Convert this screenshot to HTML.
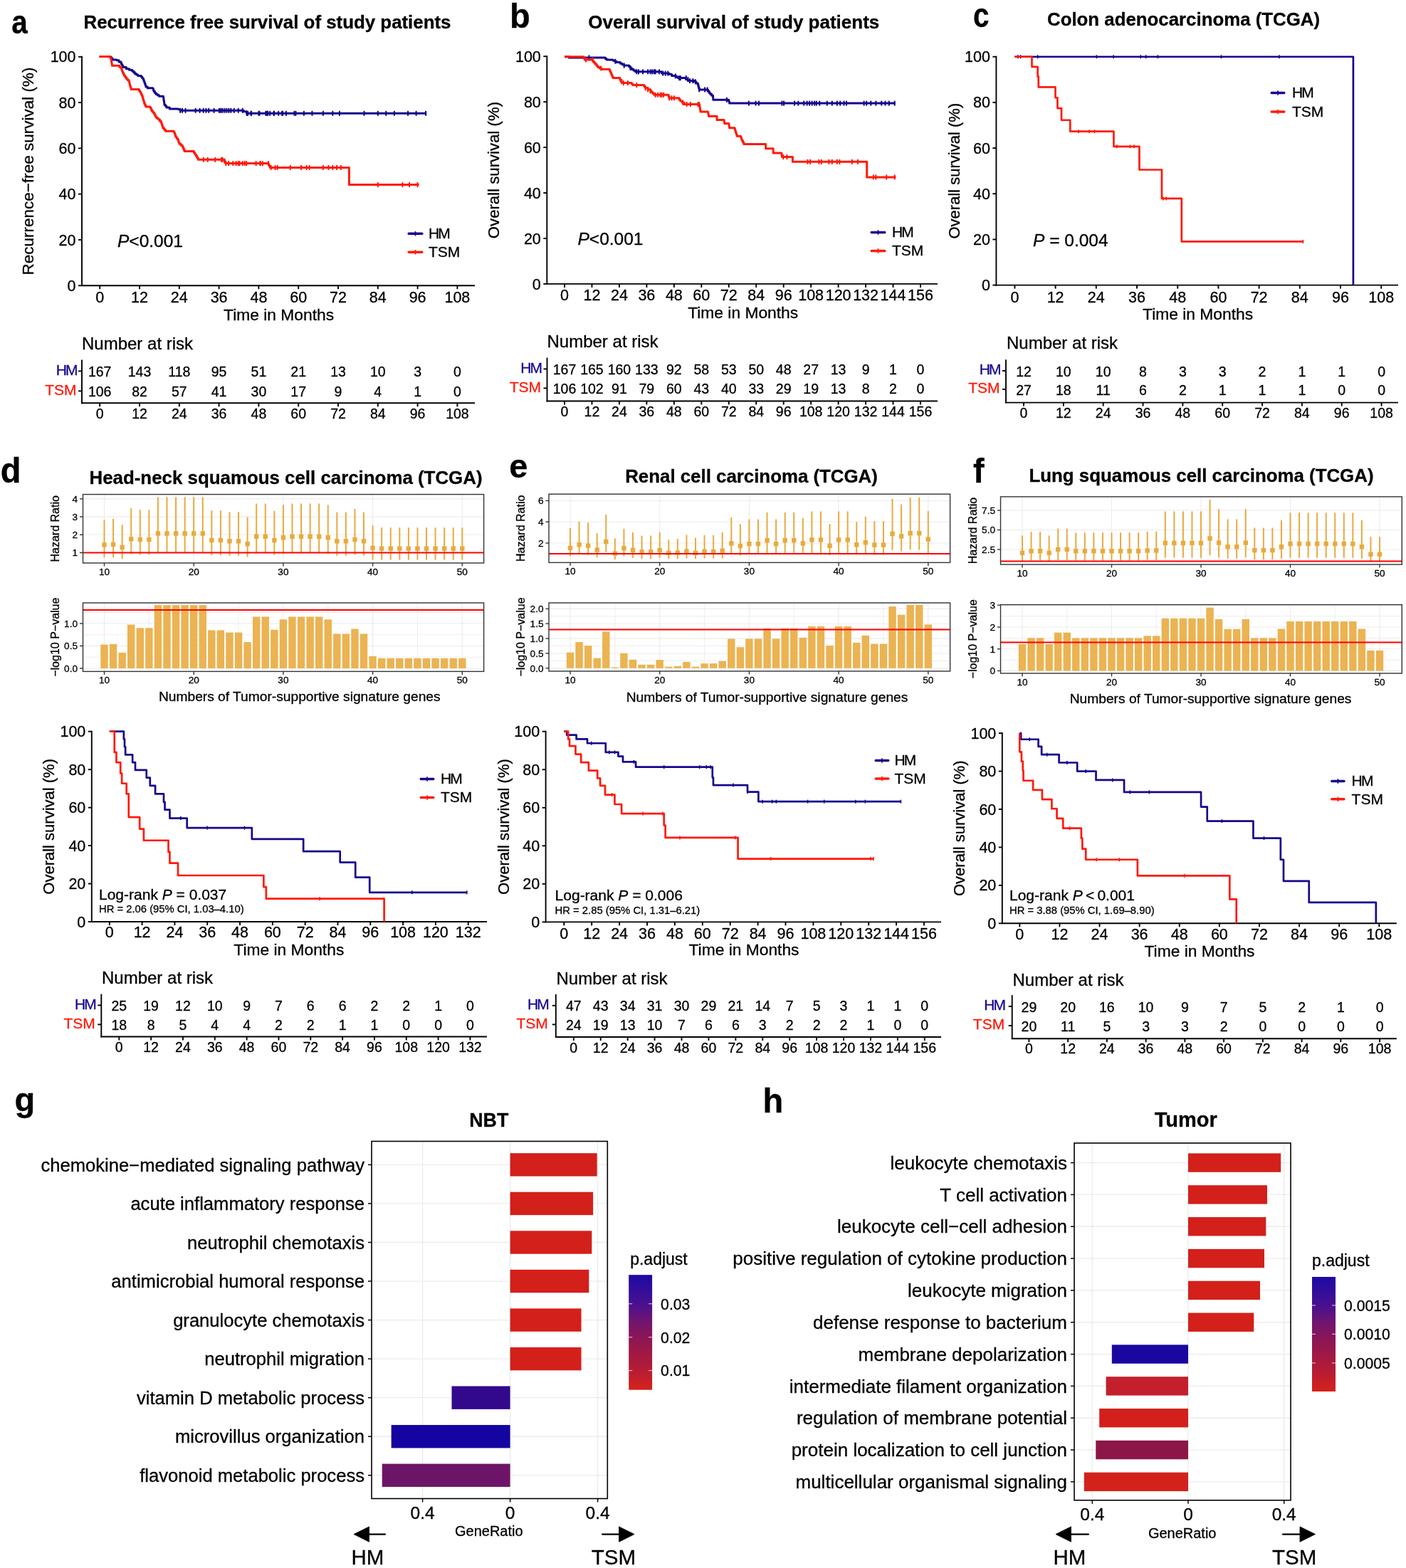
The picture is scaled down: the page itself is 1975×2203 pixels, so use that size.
<!DOCTYPE html>
<html><head><meta charset="utf-8"><title>Figure</title>
<style>
html,body{margin:0;padding:0;background:#fff;}
svg{display:block;}
text{font-family:"Liberation Sans", Arial, Helvetica, sans-serif;}
</style></head>
<body>
<svg width="1975" height="2203" viewBox="0 0 1975 2203">
<rect x="0" y="0" width="1975" height="2203" fill="#ffffff"/>
<text transform="translate(16.3,46.6) scale(0.86,1)" font-size="47" font-weight="bold" stroke="#000" stroke-width="0.3">a</text>
<text transform="translate(716,38.9) scale(1,1.04)" font-size="47" font-weight="bold" stroke="#000" stroke-width="0.3">b</text>
<text transform="translate(1366.9,37.9) scale(0.86,1.03)" font-size="47" font-weight="bold" stroke="#000" stroke-width="0.3">c</text>
<text transform="translate(0.8,677.6) scale(1,1.08)" font-size="47" font-weight="bold" stroke="#000" stroke-width="0.3">d</text>
<text transform="translate(715.2,671) scale(1,1)" font-size="47" font-weight="bold" stroke="#000" stroke-width="0.3">e</text>
<text transform="translate(1367,677.8) scale(1,1.04)" font-size="47" font-weight="bold" stroke="#000" stroke-width="0.3">f</text>
<text transform="translate(20.5,1561) scale(1,1)" font-size="47" font-weight="bold" stroke="#000" stroke-width="0.3">g</text>
<text transform="translate(1071.5,1563.4) scale(1,1.03)" font-size="47" font-weight="bold" stroke="#000" stroke-width="0.3">h</text>
<text x="117.5" y="40" font-size="25.5" font-weight="bold" stroke="#000" stroke-width="0.3" textLength="516" lengthAdjust="spacingAndGlyphs">Recurrence free survival of study patients</text>
<text x="826.3" y="39.7" font-size="25.5" font-weight="bold" stroke="#000" stroke-width="0.3" textLength="409" lengthAdjust="spacingAndGlyphs">Overall survival of study patients</text>
<text x="1471" y="36.3" font-size="25.5" font-weight="bold" stroke="#000" stroke-width="0.3" textLength="383" lengthAdjust="spacingAndGlyphs">Colon adenocarcinoma (TCGA)</text>
<text x="125.5" y="679.6" font-size="25.5" font-weight="bold" stroke="#000" stroke-width="0.3" textLength="552" lengthAdjust="spacingAndGlyphs">Head-neck squamous cell carcinoma (TCGA)</text>
<text x="878.2" y="677.7" font-size="25.5" font-weight="bold" stroke="#000" stroke-width="0.3" textLength="354.7" lengthAdjust="spacingAndGlyphs">Renal cell carcinoma (TCGA)</text>
<text x="1445.5" y="676.5" font-size="25.5" font-weight="bold" stroke="#000" stroke-width="0.3" textLength="484" lengthAdjust="spacingAndGlyphs">Lung squamous cell carcinoma (TCGA)</text>
<line x1="115" y1="78.8" x2="115" y2="402" stroke="#000" stroke-width="1.9" />
<line x1="114.2" y1="401.2" x2="667" y2="401.2" stroke="#000" stroke-width="1.9" />
<line x1="110" y1="401.2" x2="115" y2="401.2" stroke="#000" stroke-width="1.9" />
<text x="106.5" y="408.8" font-size="21.5" text-anchor="end" stroke="#000" stroke-width="0.3">0</text>
<line x1="110" y1="336.92" x2="115" y2="336.92" stroke="#000" stroke-width="1.9" />
<text x="106.5" y="344.52" font-size="21.5" text-anchor="end" stroke="#000" stroke-width="0.3">20</text>
<line x1="110" y1="272.64" x2="115" y2="272.64" stroke="#000" stroke-width="1.9" />
<text x="106.5" y="280.24" font-size="21.5" text-anchor="end" stroke="#000" stroke-width="0.3">40</text>
<line x1="110" y1="208.36" x2="115" y2="208.36" stroke="#000" stroke-width="1.9" />
<text x="106.5" y="215.96" font-size="21.5" text-anchor="end" stroke="#000" stroke-width="0.3">60</text>
<line x1="110" y1="144.08" x2="115" y2="144.08" stroke="#000" stroke-width="1.9" />
<text x="106.5" y="151.68" font-size="21.5" text-anchor="end" stroke="#000" stroke-width="0.3">80</text>
<line x1="110" y1="79.8" x2="115" y2="79.8" stroke="#000" stroke-width="1.9" />
<text x="106.5" y="87.4" font-size="21.5" text-anchor="end" stroke="#000" stroke-width="0.3">100</text>
<line x1="140.2" y1="401.2" x2="140.2" y2="406.2" stroke="#000" stroke-width="1.9" />
<text x="140.2" y="425.2" font-size="21.5" text-anchor="middle" stroke="#000" stroke-width="0.3">0</text>
<line x1="196" y1="401.2" x2="196" y2="406.2" stroke="#000" stroke-width="1.9" />
<text x="196" y="425.2" font-size="21.5" text-anchor="middle" stroke="#000" stroke-width="0.3">12</text>
<line x1="251.8" y1="401.2" x2="251.8" y2="406.2" stroke="#000" stroke-width="1.9" />
<text x="251.8" y="425.2" font-size="21.5" text-anchor="middle" stroke="#000" stroke-width="0.3">24</text>
<line x1="307.6" y1="401.2" x2="307.6" y2="406.2" stroke="#000" stroke-width="1.9" />
<text x="307.6" y="425.2" font-size="21.5" text-anchor="middle" stroke="#000" stroke-width="0.3">36</text>
<line x1="363.4" y1="401.2" x2="363.4" y2="406.2" stroke="#000" stroke-width="1.9" />
<text x="363.4" y="425.2" font-size="21.5" text-anchor="middle" stroke="#000" stroke-width="0.3">48</text>
<line x1="419.2" y1="401.2" x2="419.2" y2="406.2" stroke="#000" stroke-width="1.9" />
<text x="419.2" y="425.2" font-size="21.5" text-anchor="middle" stroke="#000" stroke-width="0.3">60</text>
<line x1="475" y1="401.2" x2="475" y2="406.2" stroke="#000" stroke-width="1.9" />
<text x="475" y="425.2" font-size="21.5" text-anchor="middle" stroke="#000" stroke-width="0.3">72</text>
<line x1="530.8" y1="401.2" x2="530.8" y2="406.2" stroke="#000" stroke-width="1.9" />
<text x="530.8" y="425.2" font-size="21.5" text-anchor="middle" stroke="#000" stroke-width="0.3">84</text>
<line x1="586.6" y1="401.2" x2="586.6" y2="406.2" stroke="#000" stroke-width="1.9" />
<text x="586.6" y="425.2" font-size="21.5" text-anchor="middle" stroke="#000" stroke-width="0.3">96</text>
<line x1="642.4" y1="401.2" x2="642.4" y2="406.2" stroke="#000" stroke-width="1.9" />
<text x="642.4" y="425.2" font-size="21.5" text-anchor="middle" stroke="#000" stroke-width="0.3">108</text>
<text x="391.6" y="449.9" font-size="22.8" text-anchor="middle" stroke="#000" stroke-width="0.3">Time in Months</text>
<text transform="translate(47,240.5) rotate(-90)" font-size="22.5" text-anchor="middle" stroke="#000" stroke-width="0.3">Recurrence−free survival (%)</text>
<path d="M139.6 79.6 H155.2 V80.4 H156.7 V82.25 H158.2 V84.1 H164.1 V84.8 H167.1 V87.05 H170.1 V89.3 H171.07 V91.03 H172.03 V92.77 H173 V94.5 H177.5 V96.7 H181.55 V98.2 H185.6 V99.7 H187.45 V101.55 H189.3 V103.4 H191.55 V104.9 H193.8 V106.4 H198.2 V107.8 H199.7 V109.65 H201.2 V111.5 H201.93 V113.5 H202.67 V115.5 H203.4 V117.5 H204.15 V119.7 H204.9 V121.9 H207.2 V123.7 H214.6 V124.2 H215.35 V126.4 H216.1 V128.6 H217.55 V130.45 H219 V132.3 H221.25 V133.8 H223.5 V135.3 H229.4 V136.8 H229.78 V139.4 H230.15 V142 H230.53 V144.6 H230.9 V147.2 H232.4 V149.05 H233.9 V150.9 H238.3 V153.1 H250.2 V153.4 H253.1 V155.3 H337.7 H342.2 V156.8 H346.6 V159.3 H599.2" stroke="#16078c" stroke-width="3" fill="none" stroke-linejoin="round"/>
<line x1="253.15" y1="151.8" x2="253.15" y2="158.8" stroke="#16078c" stroke-width="2" />
<line x1="256.11" y1="151.8" x2="256.11" y2="158.8" stroke="#16078c" stroke-width="2" />
<line x1="260.56" y1="151.8" x2="260.56" y2="158.8" stroke="#16078c" stroke-width="2" />
<line x1="274.66" y1="151.8" x2="274.66" y2="158.8" stroke="#16078c" stroke-width="2" />
<line x1="280.59" y1="151.8" x2="280.59" y2="158.8" stroke="#16078c" stroke-width="2" />
<line x1="285.79" y1="151.8" x2="285.79" y2="158.8" stroke="#16078c" stroke-width="2" />
<line x1="289.5" y1="151.8" x2="289.5" y2="158.8" stroke="#16078c" stroke-width="2" />
<line x1="293.2" y1="151.8" x2="293.2" y2="158.8" stroke="#16078c" stroke-width="2" />
<line x1="300.62" y1="151.8" x2="300.62" y2="158.8" stroke="#16078c" stroke-width="2" />
<line x1="308.04" y1="151.8" x2="308.04" y2="158.8" stroke="#16078c" stroke-width="2" />
<line x1="310.27" y1="151.8" x2="310.27" y2="158.8" stroke="#16078c" stroke-width="2" />
<line x1="312.49" y1="151.8" x2="312.49" y2="158.8" stroke="#16078c" stroke-width="2" />
<line x1="315.46" y1="151.8" x2="315.46" y2="158.8" stroke="#16078c" stroke-width="2" />
<line x1="318.43" y1="151.8" x2="318.43" y2="158.8" stroke="#16078c" stroke-width="2" />
<line x1="321.39" y1="151.8" x2="321.39" y2="158.8" stroke="#16078c" stroke-width="2" />
<line x1="324.36" y1="151.8" x2="324.36" y2="158.8" stroke="#16078c" stroke-width="2" />
<line x1="328.81" y1="151.8" x2="328.81" y2="158.8" stroke="#16078c" stroke-width="2" />
<line x1="334.75" y1="151.8" x2="334.75" y2="158.8" stroke="#16078c" stroke-width="2" />
<line x1="340.68" y1="151.8" x2="340.68" y2="158.8" stroke="#16078c" stroke-width="2" />
<line x1="346.62" y1="155.8" x2="346.62" y2="162.8" stroke="#16078c" stroke-width="2" />
<line x1="352.55" y1="155.8" x2="352.55" y2="162.8" stroke="#16078c" stroke-width="2" />
<line x1="364.42" y1="155.8" x2="364.42" y2="162.8" stroke="#16078c" stroke-width="2" />
<line x1="373.32" y1="155.8" x2="373.32" y2="162.8" stroke="#16078c" stroke-width="2" />
<line x1="376.29" y1="155.8" x2="376.29" y2="162.8" stroke="#16078c" stroke-width="2" />
<line x1="379.26" y1="155.8" x2="379.26" y2="162.8" stroke="#16078c" stroke-width="2" />
<line x1="385.19" y1="155.8" x2="385.19" y2="162.8" stroke="#16078c" stroke-width="2" />
<line x1="391.13" y1="155.8" x2="391.13" y2="162.8" stroke="#16078c" stroke-width="2" />
<line x1="397.06" y1="155.8" x2="397.06" y2="162.8" stroke="#16078c" stroke-width="2" />
<line x1="348.08" y1="155.8" x2="348.08" y2="162.8" stroke="#16078c" stroke-width="2" />
<line x1="353.08" y1="155.8" x2="353.08" y2="162.8" stroke="#16078c" stroke-width="2" />
<line x1="363.46" y1="155.8" x2="363.46" y2="162.8" stroke="#16078c" stroke-width="2" />
<line x1="375" y1="155.8" x2="375" y2="162.8" stroke="#16078c" stroke-width="2" />
<line x1="384.62" y1="155.8" x2="384.62" y2="162.8" stroke="#16078c" stroke-width="2" />
<line x1="396.15" y1="155.8" x2="396.15" y2="162.8" stroke="#16078c" stroke-width="2" />
<line x1="401.92" y1="155.8" x2="401.92" y2="162.8" stroke="#16078c" stroke-width="2" />
<line x1="413.46" y1="155.8" x2="413.46" y2="162.8" stroke="#16078c" stroke-width="2" />
<line x1="415.38" y1="155.8" x2="415.38" y2="162.8" stroke="#16078c" stroke-width="2" />
<line x1="426.92" y1="155.8" x2="426.92" y2="162.8" stroke="#16078c" stroke-width="2" />
<line x1="438.46" y1="155.8" x2="438.46" y2="162.8" stroke="#16078c" stroke-width="2" />
<line x1="453.85" y1="155.8" x2="453.85" y2="162.8" stroke="#16078c" stroke-width="2" />
<line x1="467.31" y1="155.8" x2="467.31" y2="162.8" stroke="#16078c" stroke-width="2" />
<line x1="476.92" y1="155.8" x2="476.92" y2="162.8" stroke="#16078c" stroke-width="2" />
<line x1="511.54" y1="155.8" x2="511.54" y2="162.8" stroke="#16078c" stroke-width="2" />
<line x1="530.77" y1="155.8" x2="530.77" y2="162.8" stroke="#16078c" stroke-width="2" />
<line x1="542.31" y1="155.8" x2="542.31" y2="162.8" stroke="#16078c" stroke-width="2" />
<line x1="553.85" y1="155.8" x2="553.85" y2="162.8" stroke="#16078c" stroke-width="2" />
<line x1="573.08" y1="155.8" x2="573.08" y2="162.8" stroke="#16078c" stroke-width="2" />
<line x1="584.62" y1="155.8" x2="584.62" y2="162.8" stroke="#16078c" stroke-width="2" />
<line x1="598.08" y1="155.8" x2="598.08" y2="162.8" stroke="#16078c" stroke-width="2" />
<path d="M139.6 79.6 H153.7 H154.85 V81.5 H156 V83.4 H156.35 V85.62 H156.7 V87.85 H157.05 V90.08 H157.4 V92.3 H165.6 H167.85 V94.15 H170.1 V96 H170.83 V97.97 H171.57 V99.93 H172.3 V101.9 H173.4 V104.15 H174.5 V106.4 H176 V108.6 H177.5 V110.8 H179.35 V112.65 H181.2 V114.5 H181.7 V116.73 H182.2 V118.97 H182.7 V121.2 H183.45 V123.4 H184.2 V125.6 H193.8 H195.3 V127.45 H196.8 V129.3 H197.77 V131.3 H198.73 V133.3 H199.7 V135.3 H200.45 V137.9 H201.2 V140.5 H201.95 V143.1 H202.7 V145.7 H203.8 V147.9 H204.9 V150.1 H210.9 V150.9 H212 V153.5 H213.1 V156.1 H214.95 V158.3 H216.8 V160.5 H217.9 V162.75 H219 V165 H220.85 V166.45 H222.7 V167.9 H224.55 V170.15 H226.4 V172.4 H227.17 V174.87 H227.93 V177.33 H228.7 V179.8 H230.55 V182 H232.4 V184.2 H244.2 V185 H244.95 V187.03 H245.7 V189.05 H246.45 V191.07 H247.2 V193.1 H248.7 V195.35 H250.2 V197.6 H250.95 V199.8 H251.7 V202 H253.9 V203.9 H256.1 V205.8 H257.1 V208 H258.1 V210.2 H259.1 V212.4 H270.9 H272.4 V214.65 H273.9 V216.9 H275.4 V219.37 H276.9 V221.83 H278.4 V224.3 H314 H314.97 V226.07 H315.93 V227.83 H316.9 V229.6 H376.3 H377.3 V231.53 H378.3 V233.47 H379.3 V235.4 H490.4 H490.4 V237.82 H490.4 V240.24 H490.4 V242.66 H490.4 V245.08 H490.4 V247.5 H490.4 V249.92 H490.4 V252.34 H490.4 V254.76 H490.4 V257.18 H490.4 V259.6 H588.5" stroke="#ff1a0a" stroke-width="3" fill="none" stroke-linejoin="round"/>
<line x1="285.79" y1="220.8" x2="285.79" y2="227.8" stroke="#ff1a0a" stroke-width="2" />
<line x1="291.72" y1="220.8" x2="291.72" y2="227.8" stroke="#ff1a0a" stroke-width="2" />
<line x1="302.11" y1="220.8" x2="302.11" y2="227.8" stroke="#ff1a0a" stroke-width="2" />
<line x1="311.01" y1="220.8" x2="311.01" y2="227.8" stroke="#ff1a0a" stroke-width="2" />
<line x1="312.49" y1="220.8" x2="312.49" y2="227.8" stroke="#ff1a0a" stroke-width="2" />
<line x1="315.46" y1="222.57" x2="315.46" y2="229.57" stroke="#ff1a0a" stroke-width="2" />
<line x1="327.33" y1="226.1" x2="327.33" y2="233.1" stroke="#ff1a0a" stroke-width="2" />
<line x1="334.75" y1="226.1" x2="334.75" y2="233.1" stroke="#ff1a0a" stroke-width="2" />
<line x1="340.68" y1="226.1" x2="340.68" y2="233.1" stroke="#ff1a0a" stroke-width="2" />
<line x1="343.65" y1="226.1" x2="343.65" y2="233.1" stroke="#ff1a0a" stroke-width="2" />
<line x1="365.91" y1="226.1" x2="365.91" y2="233.1" stroke="#ff1a0a" stroke-width="2" />
<line x1="368.87" y1="226.1" x2="368.87" y2="233.1" stroke="#ff1a0a" stroke-width="2" />
<line x1="380.74" y1="231.9" x2="380.74" y2="238.9" stroke="#ff1a0a" stroke-width="2" />
<line x1="389.64" y1="231.9" x2="389.64" y2="238.9" stroke="#ff1a0a" stroke-width="2" />
<line x1="317.31" y1="226.1" x2="317.31" y2="233.1" stroke="#ff1a0a" stroke-width="2" />
<line x1="321.15" y1="226.1" x2="321.15" y2="233.1" stroke="#ff1a0a" stroke-width="2" />
<line x1="331.54" y1="226.1" x2="331.54" y2="233.1" stroke="#ff1a0a" stroke-width="2" />
<line x1="336.54" y1="226.1" x2="336.54" y2="233.1" stroke="#ff1a0a" stroke-width="2" />
<line x1="346.15" y1="226.1" x2="346.15" y2="233.1" stroke="#ff1a0a" stroke-width="2" />
<line x1="359.62" y1="226.1" x2="359.62" y2="233.1" stroke="#ff1a0a" stroke-width="2" />
<line x1="365.38" y1="226.1" x2="365.38" y2="233.1" stroke="#ff1a0a" stroke-width="2" />
<line x1="376.92" y1="226.1" x2="376.92" y2="233.1" stroke="#ff1a0a" stroke-width="2" />
<line x1="386.54" y1="231.9" x2="386.54" y2="238.9" stroke="#ff1a0a" stroke-width="2" />
<line x1="407.69" y1="231.9" x2="407.69" y2="238.9" stroke="#ff1a0a" stroke-width="2" />
<line x1="423.08" y1="231.9" x2="423.08" y2="238.9" stroke="#ff1a0a" stroke-width="2" />
<line x1="430.77" y1="231.9" x2="430.77" y2="238.9" stroke="#ff1a0a" stroke-width="2" />
<line x1="434.62" y1="231.9" x2="434.62" y2="238.9" stroke="#ff1a0a" stroke-width="2" />
<line x1="453.85" y1="231.9" x2="453.85" y2="238.9" stroke="#ff1a0a" stroke-width="2" />
<line x1="461.54" y1="231.9" x2="461.54" y2="238.9" stroke="#ff1a0a" stroke-width="2" />
<line x1="467.31" y1="231.9" x2="467.31" y2="238.9" stroke="#ff1a0a" stroke-width="2" />
<line x1="473.08" y1="231.9" x2="473.08" y2="238.9" stroke="#ff1a0a" stroke-width="2" />
<line x1="478.85" y1="231.9" x2="478.85" y2="238.9" stroke="#ff1a0a" stroke-width="2" />
<line x1="530.77" y1="256.1" x2="530.77" y2="263.1" stroke="#ff1a0a" stroke-width="2" />
<line x1="565.38" y1="256.1" x2="565.38" y2="263.1" stroke="#ff1a0a" stroke-width="2" />
<line x1="575" y1="256.1" x2="575" y2="263.1" stroke="#ff1a0a" stroke-width="2" />
<line x1="586.54" y1="256.1" x2="586.54" y2="263.1" stroke="#ff1a0a" stroke-width="2" />
<line x1="574.2" y1="328.2" x2="592.8" y2="328.2" stroke="#16078c" stroke-width="3.4" stroke-linecap="round"/>
<line x1="583.5" y1="324.9" x2="583.5" y2="331.5" stroke="#16078c" stroke-width="1.6" />
<text x="602" y="335" font-size="21" stroke="#000" stroke-width="0.3" letter-spacing="-1.8">HM</text>
<line x1="574.2" y1="354.3" x2="592.8" y2="354.3" stroke="#ff1a0a" stroke-width="3.4" stroke-linecap="round"/>
<line x1="583.5" y1="351" x2="583.5" y2="357.6" stroke="#ff1a0a" stroke-width="1.6" />
<text x="602" y="361.1" font-size="21" stroke="#000" stroke-width="0.3">TSM</text>
<text x="165" y="346.6" font-size="24.5" stroke="#000" stroke-width="0.3"><tspan font-style="italic">P</tspan>&lt;0.001</text>
<text x="115" y="490.5" font-size="24" stroke="#000" stroke-width="0.3">Number at risk</text>
<line x1="115" y1="505.6" x2="115" y2="567.2" stroke="#000" stroke-width="1.9" />
<line x1="114.1" y1="566.3" x2="667" y2="566.3" stroke="#000" stroke-width="1.9" />
<line x1="110" y1="521.4" x2="115" y2="521.4" stroke="#000" stroke-width="1.9" />
<line x1="110" y1="549.4" x2="115" y2="549.4" stroke="#000" stroke-width="1.9" />
<text x="107.5" y="526.5" font-size="21" text-anchor="end" fill="#16078c" stroke="#16078c" stroke-width="0.3" letter-spacing="-1.9">HM</text>
<text x="107.5" y="554.5" font-size="21" text-anchor="end" fill="#ff1a0a" stroke="#ff1a0a" stroke-width="0.3">TSM</text>
<line x1="140.2" y1="566.3" x2="140.2" y2="571.3" stroke="#000" stroke-width="1.9" />
<text x="140.2" y="587.7" font-size="19.5" text-anchor="middle" stroke="#000" stroke-width="0.3">0</text>
<line x1="196" y1="566.3" x2="196" y2="571.3" stroke="#000" stroke-width="1.9" />
<text x="196" y="587.7" font-size="19.5" text-anchor="middle" stroke="#000" stroke-width="0.3">12</text>
<line x1="251.8" y1="566.3" x2="251.8" y2="571.3" stroke="#000" stroke-width="1.9" />
<text x="251.8" y="587.7" font-size="19.5" text-anchor="middle" stroke="#000" stroke-width="0.3">24</text>
<line x1="307.6" y1="566.3" x2="307.6" y2="571.3" stroke="#000" stroke-width="1.9" />
<text x="307.6" y="587.7" font-size="19.5" text-anchor="middle" stroke="#000" stroke-width="0.3">36</text>
<line x1="363.4" y1="566.3" x2="363.4" y2="571.3" stroke="#000" stroke-width="1.9" />
<text x="363.4" y="587.7" font-size="19.5" text-anchor="middle" stroke="#000" stroke-width="0.3">48</text>
<line x1="419.2" y1="566.3" x2="419.2" y2="571.3" stroke="#000" stroke-width="1.9" />
<text x="419.2" y="587.7" font-size="19.5" text-anchor="middle" stroke="#000" stroke-width="0.3">60</text>
<line x1="475" y1="566.3" x2="475" y2="571.3" stroke="#000" stroke-width="1.9" />
<text x="475" y="587.7" font-size="19.5" text-anchor="middle" stroke="#000" stroke-width="0.3">72</text>
<line x1="530.8" y1="566.3" x2="530.8" y2="571.3" stroke="#000" stroke-width="1.9" />
<text x="530.8" y="587.7" font-size="19.5" text-anchor="middle" stroke="#000" stroke-width="0.3">84</text>
<line x1="586.6" y1="566.3" x2="586.6" y2="571.3" stroke="#000" stroke-width="1.9" />
<text x="586.6" y="587.7" font-size="19.5" text-anchor="middle" stroke="#000" stroke-width="0.3">96</text>
<line x1="642.4" y1="566.3" x2="642.4" y2="571.3" stroke="#000" stroke-width="1.9" />
<text x="642.4" y="587.7" font-size="19.5" text-anchor="middle" stroke="#000" stroke-width="0.3">108</text>
<text x="140.2" y="529" font-size="19.5" text-anchor="middle" stroke="#000" stroke-width="0.3">167</text>
<text x="140.2" y="557" font-size="19.5" text-anchor="middle" stroke="#000" stroke-width="0.3">106</text>
<text x="196" y="529" font-size="19.5" text-anchor="middle" stroke="#000" stroke-width="0.3">143</text>
<text x="196" y="557" font-size="19.5" text-anchor="middle" stroke="#000" stroke-width="0.3">82</text>
<text x="251.8" y="529" font-size="19.5" text-anchor="middle" stroke="#000" stroke-width="0.3">118</text>
<text x="251.8" y="557" font-size="19.5" text-anchor="middle" stroke="#000" stroke-width="0.3">57</text>
<text x="307.6" y="529" font-size="19.5" text-anchor="middle" stroke="#000" stroke-width="0.3">95</text>
<text x="307.6" y="557" font-size="19.5" text-anchor="middle" stroke="#000" stroke-width="0.3">41</text>
<text x="363.4" y="529" font-size="19.5" text-anchor="middle" stroke="#000" stroke-width="0.3">51</text>
<text x="363.4" y="557" font-size="19.5" text-anchor="middle" stroke="#000" stroke-width="0.3">30</text>
<text x="419.2" y="529" font-size="19.5" text-anchor="middle" stroke="#000" stroke-width="0.3">21</text>
<text x="419.2" y="557" font-size="19.5" text-anchor="middle" stroke="#000" stroke-width="0.3">17</text>
<text x="475" y="529" font-size="19.5" text-anchor="middle" stroke="#000" stroke-width="0.3">13</text>
<text x="475" y="557" font-size="19.5" text-anchor="middle" stroke="#000" stroke-width="0.3">9</text>
<text x="530.8" y="529" font-size="19.5" text-anchor="middle" stroke="#000" stroke-width="0.3">10</text>
<text x="530.8" y="557" font-size="19.5" text-anchor="middle" stroke="#000" stroke-width="0.3">4</text>
<text x="586.6" y="529" font-size="19.5" text-anchor="middle" stroke="#000" stroke-width="0.3">3</text>
<text x="586.6" y="557" font-size="19.5" text-anchor="middle" stroke="#000" stroke-width="0.3">1</text>
<text x="642.4" y="529" font-size="19.5" text-anchor="middle" stroke="#000" stroke-width="0.3">0</text>
<text x="642.4" y="557" font-size="19.5" text-anchor="middle" stroke="#000" stroke-width="0.3">0</text>
<line x1="768.3" y1="78.2" x2="768.3" y2="399.7" stroke="#000" stroke-width="1.9" />
<line x1="767.5" y1="398.9" x2="1317" y2="398.9" stroke="#000" stroke-width="1.9" />
<line x1="763.3" y1="398.9" x2="768.3" y2="398.9" stroke="#000" stroke-width="1.9" />
<text x="759.8" y="406.5" font-size="21.5" text-anchor="end" stroke="#000" stroke-width="0.3">0</text>
<line x1="763.3" y1="334.96" x2="768.3" y2="334.96" stroke="#000" stroke-width="1.9" />
<text x="759.8" y="342.56" font-size="21.5" text-anchor="end" stroke="#000" stroke-width="0.3">20</text>
<line x1="763.3" y1="271.02" x2="768.3" y2="271.02" stroke="#000" stroke-width="1.9" />
<text x="759.8" y="278.62" font-size="21.5" text-anchor="end" stroke="#000" stroke-width="0.3">40</text>
<line x1="763.3" y1="207.08" x2="768.3" y2="207.08" stroke="#000" stroke-width="1.9" />
<text x="759.8" y="214.68" font-size="21.5" text-anchor="end" stroke="#000" stroke-width="0.3">60</text>
<line x1="763.3" y1="143.14" x2="768.3" y2="143.14" stroke="#000" stroke-width="1.9" />
<text x="759.8" y="150.74" font-size="21.5" text-anchor="end" stroke="#000" stroke-width="0.3">80</text>
<line x1="763.3" y1="79.2" x2="768.3" y2="79.2" stroke="#000" stroke-width="1.9" />
<text x="759.8" y="86.8" font-size="21.5" text-anchor="end" stroke="#000" stroke-width="0.3">100</text>
<line x1="793" y1="398.9" x2="793" y2="403.9" stroke="#000" stroke-width="1.9" />
<text x="793" y="422.3" font-size="21.5" text-anchor="middle" stroke="#000" stroke-width="0.3">0</text>
<line x1="831.46" y1="398.9" x2="831.46" y2="403.9" stroke="#000" stroke-width="1.9" />
<text x="831.46" y="422.3" font-size="21.5" text-anchor="middle" stroke="#000" stroke-width="0.3">12</text>
<line x1="869.92" y1="398.9" x2="869.92" y2="403.9" stroke="#000" stroke-width="1.9" />
<text x="869.92" y="422.3" font-size="21.5" text-anchor="middle" stroke="#000" stroke-width="0.3">24</text>
<line x1="908.38" y1="398.9" x2="908.38" y2="403.9" stroke="#000" stroke-width="1.9" />
<text x="908.38" y="422.3" font-size="21.5" text-anchor="middle" stroke="#000" stroke-width="0.3">36</text>
<line x1="946.85" y1="398.9" x2="946.85" y2="403.9" stroke="#000" stroke-width="1.9" />
<text x="946.85" y="422.3" font-size="21.5" text-anchor="middle" stroke="#000" stroke-width="0.3">48</text>
<line x1="985.31" y1="398.9" x2="985.31" y2="403.9" stroke="#000" stroke-width="1.9" />
<text x="985.31" y="422.3" font-size="21.5" text-anchor="middle" stroke="#000" stroke-width="0.3">60</text>
<line x1="1023.77" y1="398.9" x2="1023.77" y2="403.9" stroke="#000" stroke-width="1.9" />
<text x="1023.77" y="422.3" font-size="21.5" text-anchor="middle" stroke="#000" stroke-width="0.3">72</text>
<line x1="1062.23" y1="398.9" x2="1062.23" y2="403.9" stroke="#000" stroke-width="1.9" />
<text x="1062.23" y="422.3" font-size="21.5" text-anchor="middle" stroke="#000" stroke-width="0.3">84</text>
<line x1="1100.69" y1="398.9" x2="1100.69" y2="403.9" stroke="#000" stroke-width="1.9" />
<text x="1100.69" y="422.3" font-size="21.5" text-anchor="middle" stroke="#000" stroke-width="0.3">96</text>
<line x1="1139.15" y1="398.9" x2="1139.15" y2="403.9" stroke="#000" stroke-width="1.9" />
<text x="1139.15" y="422.3" font-size="21.5" text-anchor="middle" stroke="#000" stroke-width="0.3">108</text>
<line x1="1177.62" y1="398.9" x2="1177.62" y2="403.9" stroke="#000" stroke-width="1.9" />
<text x="1177.62" y="422.3" font-size="21.5" text-anchor="middle" stroke="#000" stroke-width="0.3">120</text>
<line x1="1216.08" y1="398.9" x2="1216.08" y2="403.9" stroke="#000" stroke-width="1.9" />
<text x="1216.08" y="422.3" font-size="21.5" text-anchor="middle" stroke="#000" stroke-width="0.3">132</text>
<line x1="1254.54" y1="398.9" x2="1254.54" y2="403.9" stroke="#000" stroke-width="1.9" />
<text x="1254.54" y="422.3" font-size="21.5" text-anchor="middle" stroke="#000" stroke-width="0.3">144</text>
<line x1="1293" y1="398.9" x2="1293" y2="403.9" stroke="#000" stroke-width="1.9" />
<text x="1293" y="422.3" font-size="21.5" text-anchor="middle" stroke="#000" stroke-width="0.3">156</text>
<text x="1043.7" y="447" font-size="22.8" text-anchor="middle" stroke="#000" stroke-width="0.3">Time in Months</text>
<text transform="translate(701.2,239.05) rotate(-90)" font-size="22.2" text-anchor="middle" stroke="#000" stroke-width="0.3">Overall survival (%)</text>
<path d="M793.2 79.7 H799.3 V80.9 H848.6 H850.35 V82.5 H852.1 V84.1 H860.9 V84.9 H863.55 V86.25 H866.2 V87.6 H871.4 V89.3 H874.05 V90.65 H876.7 V92 H883.7 V93.7 H885.5 V95.5 H887.3 V97.3 H889.9 V99.05 H892.5 V100.8 H924.2 H929.5 V103.1 H940 V104.3 H943.5 V106.6 H948.8 V106.9 H950.55 V108.25 H952.3 V109.6 H961.1 H963.75 V111.6 H966.4 V113.6 H975.2 V114.8 H977.8 V117 H980.4 V119.2 H981 V121.43 H981.6 V123.67 H982.2 V125.9 H992.7 H994.5 V128.3 H996.3 V130.7 H998.03 V132.43 H999.77 V134.17 H1001.5 V135.9 H1001.65 V138.05 H1001.8 V140.2 H1022.9 H1023.75 V142.65 H1024.6 V145.1 H1257.6" stroke="#16078c" stroke-width="3" fill="none" stroke-linejoin="round"/>
<line x1="827.47" y1="77.4" x2="827.47" y2="84.4" stroke="#16078c" stroke-width="2" />
<line x1="864.4" y1="82.75" x2="864.4" y2="89.75" stroke="#16078c" stroke-width="2" />
<line x1="876.7" y1="88.5" x2="876.7" y2="95.5" stroke="#16078c" stroke-width="2" />
<line x1="885.49" y1="92" x2="885.49" y2="99" stroke="#16078c" stroke-width="2" />
<line x1="894.29" y1="97.3" x2="894.29" y2="104.3" stroke="#16078c" stroke-width="2" />
<line x1="896.92" y1="97.3" x2="896.92" y2="104.3" stroke="#16078c" stroke-width="2" />
<line x1="903.08" y1="97.3" x2="903.08" y2="104.3" stroke="#16078c" stroke-width="2" />
<line x1="910.11" y1="97.3" x2="910.11" y2="104.3" stroke="#16078c" stroke-width="2" />
<line x1="913.63" y1="97.3" x2="913.63" y2="104.3" stroke="#16078c" stroke-width="2" />
<line x1="916.26" y1="97.3" x2="916.26" y2="104.3" stroke="#16078c" stroke-width="2" />
<line x1="918.9" y1="97.3" x2="918.9" y2="104.3" stroke="#16078c" stroke-width="2" />
<line x1="920.66" y1="97.3" x2="920.66" y2="104.3" stroke="#16078c" stroke-width="2" />
<line x1="925.93" y1="97.3" x2="925.93" y2="104.3" stroke="#16078c" stroke-width="2" />
<line x1="931.21" y1="99.6" x2="931.21" y2="106.6" stroke="#16078c" stroke-width="2" />
<line x1="934.73" y1="99.6" x2="934.73" y2="106.6" stroke="#16078c" stroke-width="2" />
<line x1="938.24" y1="99.6" x2="938.24" y2="106.6" stroke="#16078c" stroke-width="2" />
<line x1="948.79" y1="103.4" x2="948.79" y2="110.4" stroke="#16078c" stroke-width="2" />
<line x1="954.07" y1="106.1" x2="954.07" y2="113.1" stroke="#16078c" stroke-width="2" />
<line x1="955.82" y1="106.1" x2="955.82" y2="113.1" stroke="#16078c" stroke-width="2" />
<line x1="963.74" y1="106.1" x2="963.74" y2="113.1" stroke="#16078c" stroke-width="2" />
<line x1="966.37" y1="108.1" x2="966.37" y2="115.1" stroke="#16078c" stroke-width="2" />
<line x1="969.01" y1="110.1" x2="969.01" y2="117.1" stroke="#16078c" stroke-width="2" />
<line x1="973.41" y1="110.1" x2="973.41" y2="117.1" stroke="#16078c" stroke-width="2" />
<line x1="976.92" y1="111.3" x2="976.92" y2="118.3" stroke="#16078c" stroke-width="2" />
<line x1="982.2" y1="122.4" x2="982.2" y2="129.4" stroke="#16078c" stroke-width="2" />
<line x1="990.11" y1="122.4" x2="990.11" y2="129.4" stroke="#16078c" stroke-width="2" />
<line x1="993.63" y1="122.4" x2="993.63" y2="129.4" stroke="#16078c" stroke-width="2" />
<line x1="1020.88" y1="136.7" x2="1020.88" y2="143.7" stroke="#16078c" stroke-width="2" />
<line x1="1051.87" y1="141.6" x2="1051.87" y2="148.6" stroke="#16078c" stroke-width="2" />
<line x1="1061.54" y1="141.6" x2="1061.54" y2="148.6" stroke="#16078c" stroke-width="2" />
<line x1="1065.93" y1="141.6" x2="1065.93" y2="148.6" stroke="#16078c" stroke-width="2" />
<line x1="1098.46" y1="141.6" x2="1098.46" y2="148.6" stroke="#16078c" stroke-width="2" />
<line x1="1101.1" y1="141.6" x2="1101.1" y2="148.6" stroke="#16078c" stroke-width="2" />
<line x1="1116.04" y1="141.6" x2="1116.04" y2="148.6" stroke="#16078c" stroke-width="2" />
<line x1="1121.32" y1="141.6" x2="1121.32" y2="148.6" stroke="#16078c" stroke-width="2" />
<line x1="1129.23" y1="141.6" x2="1129.23" y2="148.6" stroke="#16078c" stroke-width="2" />
<line x1="1133.63" y1="141.6" x2="1133.63" y2="148.6" stroke="#16078c" stroke-width="2" />
<line x1="1137.14" y1="141.6" x2="1137.14" y2="148.6" stroke="#16078c" stroke-width="2" />
<line x1="1140.66" y1="141.6" x2="1140.66" y2="148.6" stroke="#16078c" stroke-width="2" />
<line x1="1144.18" y1="141.6" x2="1144.18" y2="148.6" stroke="#16078c" stroke-width="2" />
<line x1="1146.81" y1="141.6" x2="1146.81" y2="148.6" stroke="#16078c" stroke-width="2" />
<line x1="1151.21" y1="141.6" x2="1151.21" y2="148.6" stroke="#16078c" stroke-width="2" />
<line x1="1161.76" y1="141.6" x2="1161.76" y2="148.6" stroke="#16078c" stroke-width="2" />
<line x1="1168.79" y1="141.6" x2="1168.79" y2="148.6" stroke="#16078c" stroke-width="2" />
<line x1="1175.82" y1="141.6" x2="1175.82" y2="148.6" stroke="#16078c" stroke-width="2" />
<line x1="1180.22" y1="141.6" x2="1180.22" y2="148.6" stroke="#16078c" stroke-width="2" />
<line x1="1185.49" y1="141.6" x2="1185.49" y2="148.6" stroke="#16078c" stroke-width="2" />
<line x1="1189.01" y1="141.6" x2="1189.01" y2="148.6" stroke="#16078c" stroke-width="2" />
<line x1="1213.63" y1="141.6" x2="1213.63" y2="148.6" stroke="#16078c" stroke-width="2" />
<line x1="1217.14" y1="141.6" x2="1217.14" y2="148.6" stroke="#16078c" stroke-width="2" />
<line x1="1223.3" y1="141.6" x2="1223.3" y2="148.6" stroke="#16078c" stroke-width="2" />
<line x1="1230.33" y1="141.6" x2="1230.33" y2="148.6" stroke="#16078c" stroke-width="2" />
<line x1="1238.24" y1="141.6" x2="1238.24" y2="148.6" stroke="#16078c" stroke-width="2" />
<line x1="1243.52" y1="141.6" x2="1243.52" y2="148.6" stroke="#16078c" stroke-width="2" />
<line x1="1248.79" y1="141.6" x2="1248.79" y2="148.6" stroke="#16078c" stroke-width="2" />
<line x1="1256.7" y1="141.6" x2="1256.7" y2="148.6" stroke="#16078c" stroke-width="2" />
<path d="M793.2 79.7 H818.7 H820 V81.9 H821.3 V84.1 H831 H832.77 V86.13 H834.53 V88.17 H836.3 V90.2 H838.05 V92.4 H839.8 V94.6 H842.4 V95.95 H845 V97.3 H855.6 H856.48 V99.28 H857.35 V101.25 H858.23 V103.22 H859.1 V105.2 H860 V107.4 H860.9 V109.6 H869.7 H870.87 V111.93 H872.03 V114.27 H873.2 V116.6 H885.5 H887.25 V118.1 H889 V119.6 H903.1 H904.85 V121.6 H906.6 V123.6 H910.1 V125.8 H913.6 V128 H915.37 V129.77 H917.13 V131.53 H918.9 V133.3 H938.2 H939.1 V135.5 H940 V137.7 H952.3 H954.05 V139.9 H955.8 V142.1 H958.45 V144.3 H961.1 V146.5 H982.2 H982.56 V148.6 H982.92 V150.7 H983.28 V152.8 H983.64 V154.9 H984 V157 H994.5 V157.6 H994.8 V159.47 H995.1 V161.33 H995.4 V163.2 H1007 H1007 V164.93 H1007 V166.67 H1007 V168.4 H1016.7 H1017.15 V171 H1017.6 V173.6 H1023.7 V174.5 H1024 V176.27 H1024.3 V178.03 H1024.6 V179.8 H1031.6 H1032.2 V181.83 H1032.8 V183.87 H1033.4 V185.9 H1034 V187.67 H1034.6 V189.43 H1035.2 V191.2 H1040.4 V192.1 H1041 V193.87 H1041.6 V195.63 H1042.2 V197.4 H1043.5 V200 H1044.8 V202.6 H1075.6 H1075.6 V204.67 H1075.6 V206.73 H1075.6 V208.8 H1086.2 H1086.2 V210.83 H1086.2 V212.87 H1086.2 V214.9 H1097.6 H1097.9 V216.8 H1098.2 V218.7 H1098.5 V220.6 H1113.4 H1113.4 V222.83 H1113.4 V225.07 H1113.4 V227.3 H1217.7 H1217.7 V229.7 H1217.7 V232.1 H1217.7 V234.5 H1217.7 V236.9 H1217.7 V239.3 H1217.7 V241.7 H1217.7 V244.1 H1217.7 V246.5 H1217.7 V248.9 H1258.5" stroke="#ff1a0a" stroke-width="3" fill="none" stroke-linejoin="round"/>
<line x1="823.08" y1="80.6" x2="823.08" y2="87.6" stroke="#ff1a0a" stroke-width="2" />
<line x1="832.75" y1="80.6" x2="832.75" y2="87.6" stroke="#ff1a0a" stroke-width="2" />
<line x1="844.18" y1="92.45" x2="844.18" y2="99.45" stroke="#ff1a0a" stroke-width="2" />
<line x1="873.19" y1="110.77" x2="873.19" y2="117.77" stroke="#ff1a0a" stroke-width="2" />
<line x1="875.82" y1="113.1" x2="875.82" y2="120.1" stroke="#ff1a0a" stroke-width="2" />
<line x1="881.98" y1="113.1" x2="881.98" y2="120.1" stroke="#ff1a0a" stroke-width="2" />
<line x1="894.29" y1="116.1" x2="894.29" y2="123.1" stroke="#ff1a0a" stroke-width="2" />
<line x1="906.59" y1="120.1" x2="906.59" y2="127.1" stroke="#ff1a0a" stroke-width="2" />
<line x1="910.11" y1="122.3" x2="910.11" y2="129.3" stroke="#ff1a0a" stroke-width="2" />
<line x1="913.63" y1="124.5" x2="913.63" y2="131.5" stroke="#ff1a0a" stroke-width="2" />
<line x1="920.66" y1="129.8" x2="920.66" y2="136.8" stroke="#ff1a0a" stroke-width="2" />
<line x1="924.18" y1="129.8" x2="924.18" y2="136.8" stroke="#ff1a0a" stroke-width="2" />
<line x1="927.69" y1="129.8" x2="927.69" y2="136.8" stroke="#ff1a0a" stroke-width="2" />
<line x1="929.45" y1="129.8" x2="929.45" y2="136.8" stroke="#ff1a0a" stroke-width="2" />
<line x1="932.09" y1="129.8" x2="932.09" y2="136.8" stroke="#ff1a0a" stroke-width="2" />
<line x1="940" y1="134.2" x2="940" y2="141.2" stroke="#ff1a0a" stroke-width="2" />
<line x1="943.52" y1="134.2" x2="943.52" y2="141.2" stroke="#ff1a0a" stroke-width="2" />
<line x1="947.03" y1="134.2" x2="947.03" y2="141.2" stroke="#ff1a0a" stroke-width="2" />
<line x1="959.34" y1="140.8" x2="959.34" y2="147.8" stroke="#ff1a0a" stroke-width="2" />
<line x1="964.62" y1="143" x2="964.62" y2="150" stroke="#ff1a0a" stroke-width="2" />
<line x1="969.89" y1="143" x2="969.89" y2="150" stroke="#ff1a0a" stroke-width="2" />
<line x1="980.44" y1="143" x2="980.44" y2="150" stroke="#ff1a0a" stroke-width="2" />
<line x1="982.2" y1="143" x2="982.2" y2="150" stroke="#ff1a0a" stroke-width="2" />
<line x1="1100.22" y1="217.1" x2="1100.22" y2="224.1" stroke="#ff1a0a" stroke-width="2" />
<line x1="1105.49" y1="217.1" x2="1105.49" y2="224.1" stroke="#ff1a0a" stroke-width="2" />
<line x1="1134.51" y1="223.8" x2="1134.51" y2="230.8" stroke="#ff1a0a" stroke-width="2" />
<line x1="1138.02" y1="223.8" x2="1138.02" y2="230.8" stroke="#ff1a0a" stroke-width="2" />
<line x1="1150.33" y1="223.8" x2="1150.33" y2="230.8" stroke="#ff1a0a" stroke-width="2" />
<line x1="1153.85" y1="223.8" x2="1153.85" y2="230.8" stroke="#ff1a0a" stroke-width="2" />
<line x1="1164.4" y1="223.8" x2="1164.4" y2="230.8" stroke="#ff1a0a" stroke-width="2" />
<line x1="1168.79" y1="223.8" x2="1168.79" y2="230.8" stroke="#ff1a0a" stroke-width="2" />
<line x1="1175.82" y1="223.8" x2="1175.82" y2="230.8" stroke="#ff1a0a" stroke-width="2" />
<line x1="1179.34" y1="223.8" x2="1179.34" y2="230.8" stroke="#ff1a0a" stroke-width="2" />
<line x1="1196.92" y1="223.8" x2="1196.92" y2="230.8" stroke="#ff1a0a" stroke-width="2" />
<line x1="1204.84" y1="223.8" x2="1204.84" y2="230.8" stroke="#ff1a0a" stroke-width="2" />
<line x1="1226.81" y1="245.4" x2="1226.81" y2="252.4" stroke="#ff1a0a" stroke-width="2" />
<line x1="1230.33" y1="245.4" x2="1230.33" y2="252.4" stroke="#ff1a0a" stroke-width="2" />
<line x1="1245.27" y1="245.4" x2="1245.27" y2="252.4" stroke="#ff1a0a" stroke-width="2" />
<line x1="1256.7" y1="245.4" x2="1256.7" y2="252.4" stroke="#ff1a0a" stroke-width="2" />
<line x1="1224.2" y1="326.5" x2="1242.8" y2="326.5" stroke="#16078c" stroke-width="3.4" stroke-linecap="round"/>
<line x1="1233.5" y1="323.2" x2="1233.5" y2="329.8" stroke="#16078c" stroke-width="1.6" />
<text x="1253" y="333.3" font-size="21" stroke="#000" stroke-width="0.3" letter-spacing="-1.8">HM</text>
<line x1="1224.2" y1="352.5" x2="1242.8" y2="352.5" stroke="#ff1a0a" stroke-width="3.4" stroke-linecap="round"/>
<line x1="1233.5" y1="349.2" x2="1233.5" y2="355.8" stroke="#ff1a0a" stroke-width="1.6" />
<text x="1253" y="359.3" font-size="21" stroke="#000" stroke-width="0.3">TSM</text>
<text x="811.5" y="343.6" font-size="24.5" stroke="#000" stroke-width="0.3"><tspan font-style="italic">P</tspan>&lt;0.001</text>
<text x="768.5" y="488" font-size="24" stroke="#000" stroke-width="0.3">Number at risk</text>
<line x1="768.5" y1="502.6" x2="768.5" y2="564.4" stroke="#000" stroke-width="1.9" />
<line x1="767.6" y1="563.5" x2="1317" y2="563.5" stroke="#000" stroke-width="1.9" />
<line x1="763.5" y1="518.4" x2="768.5" y2="518.4" stroke="#000" stroke-width="1.9" />
<line x1="763.5" y1="545.4" x2="768.5" y2="545.4" stroke="#000" stroke-width="1.9" />
<text x="760" y="523.5" font-size="21" text-anchor="end" fill="#16078c" stroke="#16078c" stroke-width="0.3" letter-spacing="-1.9">HM</text>
<text x="760" y="550.5" font-size="21" text-anchor="end" fill="#ff1a0a" stroke="#ff1a0a" stroke-width="0.3">TSM</text>
<line x1="793" y1="563.5" x2="793" y2="568.5" stroke="#000" stroke-width="1.9" />
<text x="793" y="585" font-size="19.5" text-anchor="middle" stroke="#000" stroke-width="0.3">0</text>
<line x1="831.46" y1="563.5" x2="831.46" y2="568.5" stroke="#000" stroke-width="1.9" />
<text x="831.46" y="585" font-size="19.5" text-anchor="middle" stroke="#000" stroke-width="0.3">12</text>
<line x1="869.92" y1="563.5" x2="869.92" y2="568.5" stroke="#000" stroke-width="1.9" />
<text x="869.92" y="585" font-size="19.5" text-anchor="middle" stroke="#000" stroke-width="0.3">24</text>
<line x1="908.38" y1="563.5" x2="908.38" y2="568.5" stroke="#000" stroke-width="1.9" />
<text x="908.38" y="585" font-size="19.5" text-anchor="middle" stroke="#000" stroke-width="0.3">36</text>
<line x1="946.85" y1="563.5" x2="946.85" y2="568.5" stroke="#000" stroke-width="1.9" />
<text x="946.85" y="585" font-size="19.5" text-anchor="middle" stroke="#000" stroke-width="0.3">48</text>
<line x1="985.31" y1="563.5" x2="985.31" y2="568.5" stroke="#000" stroke-width="1.9" />
<text x="985.31" y="585" font-size="19.5" text-anchor="middle" stroke="#000" stroke-width="0.3">60</text>
<line x1="1023.77" y1="563.5" x2="1023.77" y2="568.5" stroke="#000" stroke-width="1.9" />
<text x="1023.77" y="585" font-size="19.5" text-anchor="middle" stroke="#000" stroke-width="0.3">72</text>
<line x1="1062.23" y1="563.5" x2="1062.23" y2="568.5" stroke="#000" stroke-width="1.9" />
<text x="1062.23" y="585" font-size="19.5" text-anchor="middle" stroke="#000" stroke-width="0.3">84</text>
<line x1="1100.69" y1="563.5" x2="1100.69" y2="568.5" stroke="#000" stroke-width="1.9" />
<text x="1100.69" y="585" font-size="19.5" text-anchor="middle" stroke="#000" stroke-width="0.3">96</text>
<line x1="1139.15" y1="563.5" x2="1139.15" y2="568.5" stroke="#000" stroke-width="1.9" />
<text x="1139.15" y="585" font-size="19.5" text-anchor="middle" stroke="#000" stroke-width="0.3">108</text>
<line x1="1177.62" y1="563.5" x2="1177.62" y2="568.5" stroke="#000" stroke-width="1.9" />
<text x="1177.62" y="585" font-size="19.5" text-anchor="middle" stroke="#000" stroke-width="0.3">120</text>
<line x1="1216.08" y1="563.5" x2="1216.08" y2="568.5" stroke="#000" stroke-width="1.9" />
<text x="1216.08" y="585" font-size="19.5" text-anchor="middle" stroke="#000" stroke-width="0.3">132</text>
<line x1="1254.54" y1="563.5" x2="1254.54" y2="568.5" stroke="#000" stroke-width="1.9" />
<text x="1254.54" y="585" font-size="19.5" text-anchor="middle" stroke="#000" stroke-width="0.3">144</text>
<line x1="1293" y1="563.5" x2="1293" y2="568.5" stroke="#000" stroke-width="1.9" />
<text x="1293" y="585" font-size="19.5" text-anchor="middle" stroke="#000" stroke-width="0.3">156</text>
<text x="793" y="526" font-size="19.5" text-anchor="middle" stroke="#000" stroke-width="0.3">167</text>
<text x="793" y="553" font-size="19.5" text-anchor="middle" stroke="#000" stroke-width="0.3">106</text>
<text x="831.46" y="526" font-size="19.5" text-anchor="middle" stroke="#000" stroke-width="0.3">165</text>
<text x="831.46" y="553" font-size="19.5" text-anchor="middle" stroke="#000" stroke-width="0.3">102</text>
<text x="869.92" y="526" font-size="19.5" text-anchor="middle" stroke="#000" stroke-width="0.3">160</text>
<text x="869.92" y="553" font-size="19.5" text-anchor="middle" stroke="#000" stroke-width="0.3">91</text>
<text x="908.38" y="526" font-size="19.5" text-anchor="middle" stroke="#000" stroke-width="0.3">133</text>
<text x="908.38" y="553" font-size="19.5" text-anchor="middle" stroke="#000" stroke-width="0.3">79</text>
<text x="946.85" y="526" font-size="19.5" text-anchor="middle" stroke="#000" stroke-width="0.3">92</text>
<text x="946.85" y="553" font-size="19.5" text-anchor="middle" stroke="#000" stroke-width="0.3">60</text>
<text x="985.31" y="526" font-size="19.5" text-anchor="middle" stroke="#000" stroke-width="0.3">58</text>
<text x="985.31" y="553" font-size="19.5" text-anchor="middle" stroke="#000" stroke-width="0.3">43</text>
<text x="1023.77" y="526" font-size="19.5" text-anchor="middle" stroke="#000" stroke-width="0.3">53</text>
<text x="1023.77" y="553" font-size="19.5" text-anchor="middle" stroke="#000" stroke-width="0.3">40</text>
<text x="1062.23" y="526" font-size="19.5" text-anchor="middle" stroke="#000" stroke-width="0.3">50</text>
<text x="1062.23" y="553" font-size="19.5" text-anchor="middle" stroke="#000" stroke-width="0.3">33</text>
<text x="1100.69" y="526" font-size="19.5" text-anchor="middle" stroke="#000" stroke-width="0.3">48</text>
<text x="1100.69" y="553" font-size="19.5" text-anchor="middle" stroke="#000" stroke-width="0.3">29</text>
<text x="1139.15" y="526" font-size="19.5" text-anchor="middle" stroke="#000" stroke-width="0.3">27</text>
<text x="1139.15" y="553" font-size="19.5" text-anchor="middle" stroke="#000" stroke-width="0.3">19</text>
<text x="1177.62" y="526" font-size="19.5" text-anchor="middle" stroke="#000" stroke-width="0.3">13</text>
<text x="1177.62" y="553" font-size="19.5" text-anchor="middle" stroke="#000" stroke-width="0.3">13</text>
<text x="1216.08" y="526" font-size="19.5" text-anchor="middle" stroke="#000" stroke-width="0.3">9</text>
<text x="1216.08" y="553" font-size="19.5" text-anchor="middle" stroke="#000" stroke-width="0.3">8</text>
<text x="1254.54" y="526" font-size="19.5" text-anchor="middle" stroke="#000" stroke-width="0.3">1</text>
<text x="1254.54" y="553" font-size="19.5" text-anchor="middle" stroke="#000" stroke-width="0.3">2</text>
<text x="1293" y="526" font-size="19.5" text-anchor="middle" stroke="#000" stroke-width="0.3">0</text>
<text x="1293" y="553" font-size="19.5" text-anchor="middle" stroke="#000" stroke-width="0.3">0</text>
<line x1="1399.4" y1="78.7" x2="1399.4" y2="401.4" stroke="#000" stroke-width="1.9" />
<line x1="1398.6" y1="400.6" x2="1964" y2="400.6" stroke="#000" stroke-width="1.9" />
<line x1="1394.4" y1="400.6" x2="1399.4" y2="400.6" stroke="#000" stroke-width="1.9" />
<text x="1390.9" y="408.2" font-size="21.5" text-anchor="end" stroke="#000" stroke-width="0.3">0</text>
<line x1="1394.4" y1="336.42" x2="1399.4" y2="336.42" stroke="#000" stroke-width="1.9" />
<text x="1390.9" y="344.02" font-size="21.5" text-anchor="end" stroke="#000" stroke-width="0.3">20</text>
<line x1="1394.4" y1="272.24" x2="1399.4" y2="272.24" stroke="#000" stroke-width="1.9" />
<text x="1390.9" y="279.84" font-size="21.5" text-anchor="end" stroke="#000" stroke-width="0.3">40</text>
<line x1="1394.4" y1="208.06" x2="1399.4" y2="208.06" stroke="#000" stroke-width="1.9" />
<text x="1390.9" y="215.66" font-size="21.5" text-anchor="end" stroke="#000" stroke-width="0.3">60</text>
<line x1="1394.4" y1="143.88" x2="1399.4" y2="143.88" stroke="#000" stroke-width="1.9" />
<text x="1390.9" y="151.48" font-size="21.5" text-anchor="end" stroke="#000" stroke-width="0.3">80</text>
<line x1="1394.4" y1="79.7" x2="1399.4" y2="79.7" stroke="#000" stroke-width="1.9" />
<text x="1390.9" y="87.3" font-size="21.5" text-anchor="end" stroke="#000" stroke-width="0.3">100</text>
<line x1="1425.4" y1="400.6" x2="1425.4" y2="405.6" stroke="#000" stroke-width="1.9" />
<text x="1425.4" y="424.7" font-size="21.5" text-anchor="middle" stroke="#000" stroke-width="0.3">0</text>
<line x1="1482.6" y1="400.6" x2="1482.6" y2="405.6" stroke="#000" stroke-width="1.9" />
<text x="1482.6" y="424.7" font-size="21.5" text-anchor="middle" stroke="#000" stroke-width="0.3">12</text>
<line x1="1539.8" y1="400.6" x2="1539.8" y2="405.6" stroke="#000" stroke-width="1.9" />
<text x="1539.8" y="424.7" font-size="21.5" text-anchor="middle" stroke="#000" stroke-width="0.3">24</text>
<line x1="1597" y1="400.6" x2="1597" y2="405.6" stroke="#000" stroke-width="1.9" />
<text x="1597" y="424.7" font-size="21.5" text-anchor="middle" stroke="#000" stroke-width="0.3">36</text>
<line x1="1654.2" y1="400.6" x2="1654.2" y2="405.6" stroke="#000" stroke-width="1.9" />
<text x="1654.2" y="424.7" font-size="21.5" text-anchor="middle" stroke="#000" stroke-width="0.3">48</text>
<line x1="1711.4" y1="400.6" x2="1711.4" y2="405.6" stroke="#000" stroke-width="1.9" />
<text x="1711.4" y="424.7" font-size="21.5" text-anchor="middle" stroke="#000" stroke-width="0.3">60</text>
<line x1="1768.6" y1="400.6" x2="1768.6" y2="405.6" stroke="#000" stroke-width="1.9" />
<text x="1768.6" y="424.7" font-size="21.5" text-anchor="middle" stroke="#000" stroke-width="0.3">72</text>
<line x1="1825.8" y1="400.6" x2="1825.8" y2="405.6" stroke="#000" stroke-width="1.9" />
<text x="1825.8" y="424.7" font-size="21.5" text-anchor="middle" stroke="#000" stroke-width="0.3">84</text>
<line x1="1883" y1="400.6" x2="1883" y2="405.6" stroke="#000" stroke-width="1.9" />
<text x="1883" y="424.7" font-size="21.5" text-anchor="middle" stroke="#000" stroke-width="0.3">96</text>
<line x1="1940.2" y1="400.6" x2="1940.2" y2="405.6" stroke="#000" stroke-width="1.9" />
<text x="1940.2" y="424.7" font-size="21.5" text-anchor="middle" stroke="#000" stroke-width="0.3">108</text>
<text x="1682.6" y="448.8" font-size="22.8" text-anchor="middle" stroke="#000" stroke-width="0.3">Time in Months</text>
<text transform="translate(1348,240.15) rotate(-90)" font-size="22" text-anchor="middle" stroke="#000" stroke-width="0.3">Overall survival (%)</text>
<path d="M1425.37 79.75 H1900.89 V400.59" stroke="#16078c" stroke-width="2.7" fill="none" stroke-linejoin="round"/>
<line x1="1429.82" y1="77.25" x2="1429.82" y2="82.25" stroke="#16078c" stroke-width="1.6" />
<line x1="1433.53" y1="77.25" x2="1433.53" y2="82.25" stroke="#16078c" stroke-width="1.6" />
<line x1="1457.64" y1="77.25" x2="1457.64" y2="82.25" stroke="#16078c" stroke-width="1.6" />
<line x1="1540.36" y1="77.25" x2="1540.36" y2="82.25" stroke="#16078c" stroke-width="1.6" />
<line x1="1564.09" y1="77.25" x2="1564.09" y2="82.25" stroke="#16078c" stroke-width="1.6" />
<line x1="1602.3" y1="77.25" x2="1602.3" y2="82.25" stroke="#16078c" stroke-width="1.6" />
<line x1="1609.72" y1="77.25" x2="1609.72" y2="82.25" stroke="#16078c" stroke-width="1.6" />
<line x1="1626.41" y1="77.25" x2="1626.41" y2="82.25" stroke="#16078c" stroke-width="1.6" />
<line x1="1715.43" y1="77.25" x2="1715.43" y2="82.25" stroke="#16078c" stroke-width="1.6" />
<line x1="1797.03" y1="77.25" x2="1797.03" y2="82.25" stroke="#16078c" stroke-width="1.6" />
<path d="M1425.37 79.75 H1449.48 V93.84 H1457.64 V107.57 H1458.75 V122.4 H1482.49 V137.24 H1485.46 V152.08 H1491.02 V168.77 H1503.26 V184.72 H1564.47 V205.86 H1600.45 V238.5 H1631.97 V278.93 H1659.79 V339.39 H1830.42" stroke="#ff1a0a" stroke-width="2.7" fill="none" stroke-linejoin="round"/>
<line x1="1515.13" y1="182.22" x2="1515.13" y2="187.22" stroke="#ff1a0a" stroke-width="1.6" />
<line x1="1529.97" y1="182.22" x2="1529.97" y2="187.22" stroke="#ff1a0a" stroke-width="1.6" />
<line x1="1537.39" y1="182.22" x2="1537.39" y2="187.22" stroke="#ff1a0a" stroke-width="1.6" />
<line x1="1568.92" y1="203.36" x2="1568.92" y2="208.36" stroke="#ff1a0a" stroke-width="1.6" />
<line x1="1587.46" y1="203.36" x2="1587.46" y2="208.36" stroke="#ff1a0a" stroke-width="1.6" />
<line x1="1593.03" y1="203.36" x2="1593.03" y2="208.36" stroke="#ff1a0a" stroke-width="1.6" />
<line x1="1633.83" y1="276.43" x2="1633.83" y2="281.43" stroke="#ff1a0a" stroke-width="1.6" />
<line x1="1638.28" y1="276.43" x2="1638.28" y2="281.43" stroke="#ff1a0a" stroke-width="1.6" />
<line x1="1830.42" y1="336.89" x2="1830.42" y2="341.89" stroke="#ff1a0a" stroke-width="1.6" />
<line x1="1786.2" y1="130.5" x2="1803.8" y2="130.5" stroke="#16078c" stroke-width="3.4" stroke-linecap="round"/>
<line x1="1795" y1="127.2" x2="1795" y2="133.8" stroke="#16078c" stroke-width="1.6" />
<text x="1815" y="137.3" font-size="21" stroke="#000" stroke-width="0.3" letter-spacing="-1.8">HM</text>
<line x1="1786.2" y1="157" x2="1803.8" y2="157" stroke="#ff1a0a" stroke-width="3.4" stroke-linecap="round"/>
<line x1="1795" y1="153.7" x2="1795" y2="160.3" stroke="#ff1a0a" stroke-width="1.6" />
<text x="1815" y="163.8" font-size="21" stroke="#000" stroke-width="0.3">TSM</text>
<text x="1451" y="345.6" font-size="24.5" stroke="#000" stroke-width="0.3"><tspan font-style="italic">P</tspan> = 0.004</text>
<text x="1414" y="489.6" font-size="24" stroke="#000" stroke-width="0.3">Number at risk</text>
<line x1="1413" y1="505.2" x2="1413" y2="566.5" stroke="#000" stroke-width="1.9" />
<line x1="1412.1" y1="565.6" x2="1964" y2="565.6" stroke="#000" stroke-width="1.9" />
<line x1="1408" y1="521" x2="1413" y2="521" stroke="#000" stroke-width="1.9" />
<line x1="1408" y1="546.9" x2="1413" y2="546.9" stroke="#000" stroke-width="1.9" />
<text x="1404.5" y="526.1" font-size="21" text-anchor="end" fill="#16078c" stroke="#16078c" stroke-width="0.3" letter-spacing="-1.9">HM</text>
<text x="1404.5" y="552" font-size="21" text-anchor="end" fill="#ff1a0a" stroke="#ff1a0a" stroke-width="0.3">TSM</text>
<line x1="1438" y1="565.6" x2="1438" y2="570.6" stroke="#000" stroke-width="1.9" />
<text x="1438" y="586.8" font-size="19.5" text-anchor="middle" stroke="#000" stroke-width="0.3">0</text>
<line x1="1493.84" y1="565.6" x2="1493.84" y2="570.6" stroke="#000" stroke-width="1.9" />
<text x="1493.84" y="586.8" font-size="19.5" text-anchor="middle" stroke="#000" stroke-width="0.3">12</text>
<line x1="1549.68" y1="565.6" x2="1549.68" y2="570.6" stroke="#000" stroke-width="1.9" />
<text x="1549.68" y="586.8" font-size="19.5" text-anchor="middle" stroke="#000" stroke-width="0.3">24</text>
<line x1="1605.52" y1="565.6" x2="1605.52" y2="570.6" stroke="#000" stroke-width="1.9" />
<text x="1605.52" y="586.8" font-size="19.5" text-anchor="middle" stroke="#000" stroke-width="0.3">36</text>
<line x1="1661.36" y1="565.6" x2="1661.36" y2="570.6" stroke="#000" stroke-width="1.9" />
<text x="1661.36" y="586.8" font-size="19.5" text-anchor="middle" stroke="#000" stroke-width="0.3">48</text>
<line x1="1717.2" y1="565.6" x2="1717.2" y2="570.6" stroke="#000" stroke-width="1.9" />
<text x="1717.2" y="586.8" font-size="19.5" text-anchor="middle" stroke="#000" stroke-width="0.3">60</text>
<line x1="1773.04" y1="565.6" x2="1773.04" y2="570.6" stroke="#000" stroke-width="1.9" />
<text x="1773.04" y="586.8" font-size="19.5" text-anchor="middle" stroke="#000" stroke-width="0.3">72</text>
<line x1="1828.88" y1="565.6" x2="1828.88" y2="570.6" stroke="#000" stroke-width="1.9" />
<text x="1828.88" y="586.8" font-size="19.5" text-anchor="middle" stroke="#000" stroke-width="0.3">84</text>
<line x1="1884.72" y1="565.6" x2="1884.72" y2="570.6" stroke="#000" stroke-width="1.9" />
<text x="1884.72" y="586.8" font-size="19.5" text-anchor="middle" stroke="#000" stroke-width="0.3">96</text>
<line x1="1940.56" y1="565.6" x2="1940.56" y2="570.6" stroke="#000" stroke-width="1.9" />
<text x="1940.56" y="586.8" font-size="19.5" text-anchor="middle" stroke="#000" stroke-width="0.3">108</text>
<text x="1438" y="528.6" font-size="19.5" text-anchor="middle" stroke="#000" stroke-width="0.3">12</text>
<text x="1438" y="554.5" font-size="19.5" text-anchor="middle" stroke="#000" stroke-width="0.3">27</text>
<text x="1493.84" y="528.6" font-size="19.5" text-anchor="middle" stroke="#000" stroke-width="0.3">10</text>
<text x="1493.84" y="554.5" font-size="19.5" text-anchor="middle" stroke="#000" stroke-width="0.3">18</text>
<text x="1549.68" y="528.6" font-size="19.5" text-anchor="middle" stroke="#000" stroke-width="0.3">10</text>
<text x="1549.68" y="554.5" font-size="19.5" text-anchor="middle" stroke="#000" stroke-width="0.3">11</text>
<text x="1605.52" y="528.6" font-size="19.5" text-anchor="middle" stroke="#000" stroke-width="0.3">8</text>
<text x="1605.52" y="554.5" font-size="19.5" text-anchor="middle" stroke="#000" stroke-width="0.3">6</text>
<text x="1661.36" y="528.6" font-size="19.5" text-anchor="middle" stroke="#000" stroke-width="0.3">3</text>
<text x="1661.36" y="554.5" font-size="19.5" text-anchor="middle" stroke="#000" stroke-width="0.3">2</text>
<text x="1717.2" y="528.6" font-size="19.5" text-anchor="middle" stroke="#000" stroke-width="0.3">3</text>
<text x="1717.2" y="554.5" font-size="19.5" text-anchor="middle" stroke="#000" stroke-width="0.3">1</text>
<text x="1773.04" y="528.6" font-size="19.5" text-anchor="middle" stroke="#000" stroke-width="0.3">2</text>
<text x="1773.04" y="554.5" font-size="19.5" text-anchor="middle" stroke="#000" stroke-width="0.3">1</text>
<text x="1828.88" y="528.6" font-size="19.5" text-anchor="middle" stroke="#000" stroke-width="0.3">1</text>
<text x="1828.88" y="554.5" font-size="19.5" text-anchor="middle" stroke="#000" stroke-width="0.3">1</text>
<text x="1884.72" y="528.6" font-size="19.5" text-anchor="middle" stroke="#000" stroke-width="0.3">1</text>
<text x="1884.72" y="554.5" font-size="19.5" text-anchor="middle" stroke="#000" stroke-width="0.3">0</text>
<text x="1940.56" y="528.6" font-size="19.5" text-anchor="middle" stroke="#000" stroke-width="0.3">0</text>
<text x="1940.56" y="554.5" font-size="19.5" text-anchor="middle" stroke="#000" stroke-width="0.3">0</text>
<line x1="128.8" y1="1026.7" x2="128.8" y2="1295.8" stroke="#000" stroke-width="1.9" />
<line x1="128" y1="1295" x2="684" y2="1295" stroke="#000" stroke-width="1.9" />
<line x1="123.8" y1="1295" x2="128.8" y2="1295" stroke="#000" stroke-width="1.9" />
<text x="120.3" y="1302.6" font-size="21.5" text-anchor="end" stroke="#000" stroke-width="0.3">0</text>
<line x1="123.8" y1="1241.54" x2="128.8" y2="1241.54" stroke="#000" stroke-width="1.9" />
<text x="120.3" y="1249.14" font-size="21.5" text-anchor="end" stroke="#000" stroke-width="0.3">20</text>
<line x1="123.8" y1="1188.08" x2="128.8" y2="1188.08" stroke="#000" stroke-width="1.9" />
<text x="120.3" y="1195.68" font-size="21.5" text-anchor="end" stroke="#000" stroke-width="0.3">40</text>
<line x1="123.8" y1="1134.62" x2="128.8" y2="1134.62" stroke="#000" stroke-width="1.9" />
<text x="120.3" y="1142.22" font-size="21.5" text-anchor="end" stroke="#000" stroke-width="0.3">60</text>
<line x1="123.8" y1="1081.16" x2="128.8" y2="1081.16" stroke="#000" stroke-width="1.9" />
<text x="120.3" y="1088.76" font-size="21.5" text-anchor="end" stroke="#000" stroke-width="0.3">80</text>
<line x1="123.8" y1="1027.7" x2="128.8" y2="1027.7" stroke="#000" stroke-width="1.9" />
<text x="120.3" y="1035.3" font-size="21.5" text-anchor="end" stroke="#000" stroke-width="0.3">100</text>
<line x1="153.8" y1="1295" x2="153.8" y2="1300" stroke="#000" stroke-width="1.9" />
<text x="153.8" y="1317" font-size="21.5" text-anchor="middle" stroke="#000" stroke-width="0.3">0</text>
<line x1="199.61" y1="1295" x2="199.61" y2="1300" stroke="#000" stroke-width="1.9" />
<text x="199.61" y="1317" font-size="21.5" text-anchor="middle" stroke="#000" stroke-width="0.3">12</text>
<line x1="245.42" y1="1295" x2="245.42" y2="1300" stroke="#000" stroke-width="1.9" />
<text x="245.42" y="1317" font-size="21.5" text-anchor="middle" stroke="#000" stroke-width="0.3">24</text>
<line x1="291.23" y1="1295" x2="291.23" y2="1300" stroke="#000" stroke-width="1.9" />
<text x="291.23" y="1317" font-size="21.5" text-anchor="middle" stroke="#000" stroke-width="0.3">36</text>
<line x1="337.04" y1="1295" x2="337.04" y2="1300" stroke="#000" stroke-width="1.9" />
<text x="337.04" y="1317" font-size="21.5" text-anchor="middle" stroke="#000" stroke-width="0.3">48</text>
<line x1="382.85" y1="1295" x2="382.85" y2="1300" stroke="#000" stroke-width="1.9" />
<text x="382.85" y="1317" font-size="21.5" text-anchor="middle" stroke="#000" stroke-width="0.3">60</text>
<line x1="428.66" y1="1295" x2="428.66" y2="1300" stroke="#000" stroke-width="1.9" />
<text x="428.66" y="1317" font-size="21.5" text-anchor="middle" stroke="#000" stroke-width="0.3">72</text>
<line x1="474.47" y1="1295" x2="474.47" y2="1300" stroke="#000" stroke-width="1.9" />
<text x="474.47" y="1317" font-size="21.5" text-anchor="middle" stroke="#000" stroke-width="0.3">84</text>
<line x1="520.28" y1="1295" x2="520.28" y2="1300" stroke="#000" stroke-width="1.9" />
<text x="520.28" y="1317" font-size="21.5" text-anchor="middle" stroke="#000" stroke-width="0.3">96</text>
<line x1="566.09" y1="1295" x2="566.09" y2="1300" stroke="#000" stroke-width="1.9" />
<text x="566.09" y="1317" font-size="21.5" text-anchor="middle" stroke="#000" stroke-width="0.3">108</text>
<line x1="611.9" y1="1295" x2="611.9" y2="1300" stroke="#000" stroke-width="1.9" />
<text x="611.9" y="1317" font-size="21.5" text-anchor="middle" stroke="#000" stroke-width="0.3">120</text>
<line x1="657.71" y1="1295" x2="657.71" y2="1300" stroke="#000" stroke-width="1.9" />
<text x="657.71" y="1317" font-size="21.5" text-anchor="middle" stroke="#000" stroke-width="0.3">132</text>
<text x="405.8" y="1342" font-size="22.8" text-anchor="middle" stroke="#000" stroke-width="0.3">Time in Months</text>
<text transform="translate(75.8,1161.35) rotate(-90)" font-size="22" text-anchor="middle" stroke="#000" stroke-width="0.3">Overall survival (%)</text>
<path d="M153.85 1027.69 H173.85 V1038.46 H175 V1049.23 H176.15 V1060.38 H186.15 V1071.15 H190 V1081.92 H205.77 V1092.69 H210.77 V1103.85 H218.08 V1115.38 H230 V1126.92 H231.54 V1137.69 H238.46 V1149.62 H262.69 V1163.08 H353.85 V1178.85 H426.15 V1196.15 H477.69 V1211.54 H499.23 V1232.69 H519.23 V1253.85 H655.77" stroke="#16078c" stroke-width="2.7" fill="none" stroke-linejoin="round"/>
<line x1="253.85" y1="1147.12" x2="253.85" y2="1152.12" stroke="#16078c" stroke-width="1.6" />
<line x1="291.15" y1="1160.58" x2="291.15" y2="1165.58" stroke="#16078c" stroke-width="1.6" />
<line x1="343.46" y1="1160.58" x2="343.46" y2="1165.58" stroke="#16078c" stroke-width="1.6" />
<line x1="578.85" y1="1251.35" x2="578.85" y2="1256.35" stroke="#16078c" stroke-width="1.6" />
<line x1="655.77" y1="1251.35" x2="655.77" y2="1256.35" stroke="#16078c" stroke-width="1.6" />
<path d="M153.85 1027.69 H160.77 V1056.92 H163.46 V1071.15 H169.23 V1086.54 H171.15 V1100.77 H177.69 V1115.38 H180.77 V1148.08 H196.15 V1164.62 H201.92 V1180.77 H236.54 V1196.92 H238.46 V1212.69 H250 V1230 H370.38 V1246.15 H373.85 V1262.69 H539.62 V1295" stroke="#ff1a0a" stroke-width="2.7" fill="none" stroke-linejoin="round"/>
<line x1="449.23" y1="1260.19" x2="449.23" y2="1265.19" stroke="#ff1a0a" stroke-width="1.6" />
<line x1="591.2" y1="1094.5" x2="608.8" y2="1094.5" stroke="#16078c" stroke-width="3.4" stroke-linecap="round"/>
<line x1="600" y1="1091.2" x2="600" y2="1097.8" stroke="#16078c" stroke-width="1.6" />
<text x="619" y="1101.3" font-size="21" stroke="#000" stroke-width="0.3" letter-spacing="-1.8">HM</text>
<line x1="591.2" y1="1120.5" x2="608.8" y2="1120.5" stroke="#ff1a0a" stroke-width="3.4" stroke-linecap="round"/>
<line x1="600" y1="1117.2" x2="600" y2="1123.8" stroke="#ff1a0a" stroke-width="1.6" />
<text x="619" y="1127.3" font-size="21" stroke="#000" stroke-width="0.3">TSM</text>
<text x="139" y="1263.5" font-size="21" stroke="#000" stroke-width="0.3">Log-rank <tspan font-style="italic">P</tspan> = 0.037</text>
<text x="139" y="1281.5" font-size="14.8" stroke="#000" stroke-width="0.3">HR = 2.06 (95% CI, 1.03–4.10)</text>
<text x="143" y="1381.5" font-size="24" stroke="#000" stroke-width="0.3">Number at risk</text>
<line x1="142.3" y1="1396.6" x2="142.3" y2="1457.4" stroke="#000" stroke-width="1.9" />
<line x1="141.4" y1="1456.5" x2="684" y2="1456.5" stroke="#000" stroke-width="1.9" />
<line x1="137.3" y1="1412.4" x2="142.3" y2="1412.4" stroke="#000" stroke-width="1.9" />
<line x1="137.3" y1="1439.4" x2="142.3" y2="1439.4" stroke="#000" stroke-width="1.9" />
<text x="133.8" y="1417.5" font-size="21" text-anchor="end" fill="#16078c" stroke="#16078c" stroke-width="0.3" letter-spacing="-1.9">HM</text>
<text x="133.8" y="1444.5" font-size="21" text-anchor="end" fill="#ff1a0a" stroke="#ff1a0a" stroke-width="0.3">TSM</text>
<line x1="167.3" y1="1456.5" x2="167.3" y2="1461.5" stroke="#000" stroke-width="1.9" />
<text x="167.3" y="1478" font-size="19.5" text-anchor="middle" stroke="#000" stroke-width="0.3">0</text>
<line x1="212.13" y1="1456.5" x2="212.13" y2="1461.5" stroke="#000" stroke-width="1.9" />
<text x="212.13" y="1478" font-size="19.5" text-anchor="middle" stroke="#000" stroke-width="0.3">12</text>
<line x1="256.96" y1="1456.5" x2="256.96" y2="1461.5" stroke="#000" stroke-width="1.9" />
<text x="256.96" y="1478" font-size="19.5" text-anchor="middle" stroke="#000" stroke-width="0.3">24</text>
<line x1="301.79" y1="1456.5" x2="301.79" y2="1461.5" stroke="#000" stroke-width="1.9" />
<text x="301.79" y="1478" font-size="19.5" text-anchor="middle" stroke="#000" stroke-width="0.3">36</text>
<line x1="346.62" y1="1456.5" x2="346.62" y2="1461.5" stroke="#000" stroke-width="1.9" />
<text x="346.62" y="1478" font-size="19.5" text-anchor="middle" stroke="#000" stroke-width="0.3">48</text>
<line x1="391.45" y1="1456.5" x2="391.45" y2="1461.5" stroke="#000" stroke-width="1.9" />
<text x="391.45" y="1478" font-size="19.5" text-anchor="middle" stroke="#000" stroke-width="0.3">60</text>
<line x1="436.28" y1="1456.5" x2="436.28" y2="1461.5" stroke="#000" stroke-width="1.9" />
<text x="436.28" y="1478" font-size="19.5" text-anchor="middle" stroke="#000" stroke-width="0.3">72</text>
<line x1="481.11" y1="1456.5" x2="481.11" y2="1461.5" stroke="#000" stroke-width="1.9" />
<text x="481.11" y="1478" font-size="19.5" text-anchor="middle" stroke="#000" stroke-width="0.3">84</text>
<line x1="525.94" y1="1456.5" x2="525.94" y2="1461.5" stroke="#000" stroke-width="1.9" />
<text x="525.94" y="1478" font-size="19.5" text-anchor="middle" stroke="#000" stroke-width="0.3">96</text>
<line x1="570.77" y1="1456.5" x2="570.77" y2="1461.5" stroke="#000" stroke-width="1.9" />
<text x="570.77" y="1478" font-size="19.5" text-anchor="middle" stroke="#000" stroke-width="0.3">108</text>
<line x1="615.6" y1="1456.5" x2="615.6" y2="1461.5" stroke="#000" stroke-width="1.9" />
<text x="615.6" y="1478" font-size="19.5" text-anchor="middle" stroke="#000" stroke-width="0.3">120</text>
<line x1="660.43" y1="1456.5" x2="660.43" y2="1461.5" stroke="#000" stroke-width="1.9" />
<text x="660.43" y="1478" font-size="19.5" text-anchor="middle" stroke="#000" stroke-width="0.3">132</text>
<text x="167.3" y="1420" font-size="19.5" text-anchor="middle" stroke="#000" stroke-width="0.3">25</text>
<text x="167.3" y="1447" font-size="19.5" text-anchor="middle" stroke="#000" stroke-width="0.3">18</text>
<text x="212.13" y="1420" font-size="19.5" text-anchor="middle" stroke="#000" stroke-width="0.3">19</text>
<text x="212.13" y="1447" font-size="19.5" text-anchor="middle" stroke="#000" stroke-width="0.3">8</text>
<text x="256.96" y="1420" font-size="19.5" text-anchor="middle" stroke="#000" stroke-width="0.3">12</text>
<text x="256.96" y="1447" font-size="19.5" text-anchor="middle" stroke="#000" stroke-width="0.3">5</text>
<text x="301.79" y="1420" font-size="19.5" text-anchor="middle" stroke="#000" stroke-width="0.3">10</text>
<text x="301.79" y="1447" font-size="19.5" text-anchor="middle" stroke="#000" stroke-width="0.3">4</text>
<text x="346.62" y="1420" font-size="19.5" text-anchor="middle" stroke="#000" stroke-width="0.3">9</text>
<text x="346.62" y="1447" font-size="19.5" text-anchor="middle" stroke="#000" stroke-width="0.3">4</text>
<text x="391.45" y="1420" font-size="19.5" text-anchor="middle" stroke="#000" stroke-width="0.3">7</text>
<text x="391.45" y="1447" font-size="19.5" text-anchor="middle" stroke="#000" stroke-width="0.3">2</text>
<text x="436.28" y="1420" font-size="19.5" text-anchor="middle" stroke="#000" stroke-width="0.3">6</text>
<text x="436.28" y="1447" font-size="19.5" text-anchor="middle" stroke="#000" stroke-width="0.3">2</text>
<text x="481.11" y="1420" font-size="19.5" text-anchor="middle" stroke="#000" stroke-width="0.3">6</text>
<text x="481.11" y="1447" font-size="19.5" text-anchor="middle" stroke="#000" stroke-width="0.3">1</text>
<text x="525.94" y="1420" font-size="19.5" text-anchor="middle" stroke="#000" stroke-width="0.3">2</text>
<text x="525.94" y="1447" font-size="19.5" text-anchor="middle" stroke="#000" stroke-width="0.3">1</text>
<text x="570.77" y="1420" font-size="19.5" text-anchor="middle" stroke="#000" stroke-width="0.3">2</text>
<text x="570.77" y="1447" font-size="19.5" text-anchor="middle" stroke="#000" stroke-width="0.3">0</text>
<text x="615.6" y="1420" font-size="19.5" text-anchor="middle" stroke="#000" stroke-width="0.3">1</text>
<text x="615.6" y="1447" font-size="19.5" text-anchor="middle" stroke="#000" stroke-width="0.3">0</text>
<text x="660.43" y="1420" font-size="19.5" text-anchor="middle" stroke="#000" stroke-width="0.3">0</text>
<text x="660.43" y="1447" font-size="19.5" text-anchor="middle" stroke="#000" stroke-width="0.3">0</text>
<line x1="766.6" y1="1026.7" x2="766.6" y2="1296.2" stroke="#000" stroke-width="1.9" />
<line x1="765.8" y1="1295.4" x2="1322" y2="1295.4" stroke="#000" stroke-width="1.9" />
<line x1="761.6" y1="1295.4" x2="766.6" y2="1295.4" stroke="#000" stroke-width="1.9" />
<text x="758.1" y="1303" font-size="21.5" text-anchor="end" stroke="#000" stroke-width="0.3">0</text>
<line x1="761.6" y1="1241.86" x2="766.6" y2="1241.86" stroke="#000" stroke-width="1.9" />
<text x="758.1" y="1249.46" font-size="21.5" text-anchor="end" stroke="#000" stroke-width="0.3">20</text>
<line x1="761.6" y1="1188.32" x2="766.6" y2="1188.32" stroke="#000" stroke-width="1.9" />
<text x="758.1" y="1195.92" font-size="21.5" text-anchor="end" stroke="#000" stroke-width="0.3">40</text>
<line x1="761.6" y1="1134.78" x2="766.6" y2="1134.78" stroke="#000" stroke-width="1.9" />
<text x="758.1" y="1142.38" font-size="21.5" text-anchor="end" stroke="#000" stroke-width="0.3">60</text>
<line x1="761.6" y1="1081.24" x2="766.6" y2="1081.24" stroke="#000" stroke-width="1.9" />
<text x="758.1" y="1088.84" font-size="21.5" text-anchor="end" stroke="#000" stroke-width="0.3">80</text>
<line x1="761.6" y1="1027.7" x2="766.6" y2="1027.7" stroke="#000" stroke-width="1.9" />
<text x="758.1" y="1035.3" font-size="21.5" text-anchor="end" stroke="#000" stroke-width="0.3">100</text>
<line x1="792.3" y1="1295.4" x2="792.3" y2="1300.4" stroke="#000" stroke-width="1.9" />
<text x="792.3" y="1318.5" font-size="21.5" text-anchor="middle" stroke="#000" stroke-width="0.3">0</text>
<line x1="831.2" y1="1295.4" x2="831.2" y2="1300.4" stroke="#000" stroke-width="1.9" />
<text x="831.2" y="1318.5" font-size="21.5" text-anchor="middle" stroke="#000" stroke-width="0.3">12</text>
<line x1="870.1" y1="1295.4" x2="870.1" y2="1300.4" stroke="#000" stroke-width="1.9" />
<text x="870.1" y="1318.5" font-size="21.5" text-anchor="middle" stroke="#000" stroke-width="0.3">24</text>
<line x1="909" y1="1295.4" x2="909" y2="1300.4" stroke="#000" stroke-width="1.9" />
<text x="909" y="1318.5" font-size="21.5" text-anchor="middle" stroke="#000" stroke-width="0.3">36</text>
<line x1="947.9" y1="1295.4" x2="947.9" y2="1300.4" stroke="#000" stroke-width="1.9" />
<text x="947.9" y="1318.5" font-size="21.5" text-anchor="middle" stroke="#000" stroke-width="0.3">48</text>
<line x1="986.8" y1="1295.4" x2="986.8" y2="1300.4" stroke="#000" stroke-width="1.9" />
<text x="986.8" y="1318.5" font-size="21.5" text-anchor="middle" stroke="#000" stroke-width="0.3">60</text>
<line x1="1025.7" y1="1295.4" x2="1025.7" y2="1300.4" stroke="#000" stroke-width="1.9" />
<text x="1025.7" y="1318.5" font-size="21.5" text-anchor="middle" stroke="#000" stroke-width="0.3">72</text>
<line x1="1064.6" y1="1295.4" x2="1064.6" y2="1300.4" stroke="#000" stroke-width="1.9" />
<text x="1064.6" y="1318.5" font-size="21.5" text-anchor="middle" stroke="#000" stroke-width="0.3">84</text>
<line x1="1103.5" y1="1295.4" x2="1103.5" y2="1300.4" stroke="#000" stroke-width="1.9" />
<text x="1103.5" y="1318.5" font-size="21.5" text-anchor="middle" stroke="#000" stroke-width="0.3">96</text>
<line x1="1142.4" y1="1295.4" x2="1142.4" y2="1300.4" stroke="#000" stroke-width="1.9" />
<text x="1142.4" y="1318.5" font-size="21.5" text-anchor="middle" stroke="#000" stroke-width="0.3">108</text>
<line x1="1181.3" y1="1295.4" x2="1181.3" y2="1300.4" stroke="#000" stroke-width="1.9" />
<text x="1181.3" y="1318.5" font-size="21.5" text-anchor="middle" stroke="#000" stroke-width="0.3">120</text>
<line x1="1220.2" y1="1295.4" x2="1220.2" y2="1300.4" stroke="#000" stroke-width="1.9" />
<text x="1220.2" y="1318.5" font-size="21.5" text-anchor="middle" stroke="#000" stroke-width="0.3">132</text>
<line x1="1259.1" y1="1295.4" x2="1259.1" y2="1300.4" stroke="#000" stroke-width="1.9" />
<text x="1259.1" y="1318.5" font-size="21.5" text-anchor="middle" stroke="#000" stroke-width="0.3">144</text>
<line x1="1298" y1="1295.4" x2="1298" y2="1300.4" stroke="#000" stroke-width="1.9" />
<text x="1298" y="1318.5" font-size="21.5" text-anchor="middle" stroke="#000" stroke-width="0.3">156</text>
<text x="1045" y="1342" font-size="22.8" text-anchor="middle" stroke="#000" stroke-width="0.3">Time in Months</text>
<text transform="translate(714.5,1161.55) rotate(-90)" font-size="22" text-anchor="middle" stroke="#000" stroke-width="0.3">Overall survival (%)</text>
<path d="M792.31 1027.69 H796.15 V1032.69 H809.62 V1038.46 H825 V1044.23 H850.77 V1056.92 H868.46 V1062.69 H875 V1070.38 H893.08 V1077.69 H1000.77 V1092.31 H1001.92 V1103.08 H1050 V1112.69 H1065.38 V1126.15 H1265.38" stroke="#16078c" stroke-width="2.7" fill="none" stroke-linejoin="round"/>
<line x1="798.08" y1="1030.19" x2="798.08" y2="1035.19" stroke="#16078c" stroke-width="1.6" />
<line x1="830.77" y1="1041.73" x2="830.77" y2="1046.73" stroke="#16078c" stroke-width="1.6" />
<line x1="855.77" y1="1054.42" x2="855.77" y2="1059.42" stroke="#16078c" stroke-width="1.6" />
<line x1="863.46" y1="1054.42" x2="863.46" y2="1059.42" stroke="#16078c" stroke-width="1.6" />
<line x1="890.38" y1="1067.88" x2="890.38" y2="1072.88" stroke="#16078c" stroke-width="1.6" />
<line x1="932.69" y1="1075.19" x2="932.69" y2="1080.19" stroke="#16078c" stroke-width="1.6" />
<line x1="982.69" y1="1075.19" x2="982.69" y2="1080.19" stroke="#16078c" stroke-width="1.6" />
<line x1="992.31" y1="1075.19" x2="992.31" y2="1080.19" stroke="#16078c" stroke-width="1.6" />
<line x1="998.08" y1="1075.19" x2="998.08" y2="1080.19" stroke="#16078c" stroke-width="1.6" />
<line x1="1030" y1="1100.58" x2="1030" y2="1105.58" stroke="#16078c" stroke-width="1.6" />
<line x1="1050" y1="1110.19" x2="1050" y2="1115.19" stroke="#16078c" stroke-width="1.6" />
<line x1="1071.15" y1="1123.65" x2="1071.15" y2="1128.65" stroke="#16078c" stroke-width="1.6" />
<line x1="1084.62" y1="1123.65" x2="1084.62" y2="1128.65" stroke="#16078c" stroke-width="1.6" />
<line x1="1090.38" y1="1123.65" x2="1090.38" y2="1128.65" stroke="#16078c" stroke-width="1.6" />
<line x1="1134.62" y1="1123.65" x2="1134.62" y2="1128.65" stroke="#16078c" stroke-width="1.6" />
<line x1="1157.69" y1="1123.65" x2="1157.69" y2="1128.65" stroke="#16078c" stroke-width="1.6" />
<line x1="1201.92" y1="1123.65" x2="1201.92" y2="1128.65" stroke="#16078c" stroke-width="1.6" />
<line x1="1215.38" y1="1123.65" x2="1215.38" y2="1128.65" stroke="#16078c" stroke-width="1.6" />
<line x1="1265.38" y1="1123.65" x2="1265.38" y2="1128.65" stroke="#16078c" stroke-width="1.6" />
<path d="M792.31 1027.69 H798.08 V1038.46 H800 V1048.08 H808.46 V1059.62 H816.15 V1071.15 H826.92 V1082.69 H839.23 V1093.46 H843.08 V1103.85 H850 V1116.54 H863.46 V1130 H873.08 V1143.08 H932.69 V1159.62 H934.62 V1176.92 H1036.54 V1206.54 H1226.92" stroke="#ff1a0a" stroke-width="2.7" fill="none" stroke-linejoin="round"/>
<line x1="859.62" y1="1114.04" x2="859.62" y2="1119.04" stroke="#ff1a0a" stroke-width="1.6" />
<line x1="903.08" y1="1140.58" x2="903.08" y2="1145.58" stroke="#ff1a0a" stroke-width="1.6" />
<line x1="930.77" y1="1140.58" x2="930.77" y2="1145.58" stroke="#ff1a0a" stroke-width="1.6" />
<line x1="955" y1="1174.42" x2="955" y2="1179.42" stroke="#ff1a0a" stroke-width="1.6" />
<line x1="1032.69" y1="1174.42" x2="1032.69" y2="1179.42" stroke="#ff1a0a" stroke-width="1.6" />
<line x1="1082.69" y1="1204.04" x2="1082.69" y2="1209.04" stroke="#ff1a0a" stroke-width="1.6" />
<line x1="1223.08" y1="1204.04" x2="1223.08" y2="1209.04" stroke="#ff1a0a" stroke-width="1.6" />
<line x1="1226.92" y1="1204.04" x2="1226.92" y2="1209.04" stroke="#ff1a0a" stroke-width="1.6" />
<line x1="1230.2" y1="1068.5" x2="1247.8" y2="1068.5" stroke="#16078c" stroke-width="3.4" stroke-linecap="round"/>
<line x1="1239" y1="1065.2" x2="1239" y2="1071.8" stroke="#16078c" stroke-width="1.6" />
<text x="1256.5" y="1075.3" font-size="21" stroke="#000" stroke-width="0.3" letter-spacing="-1.8">HM</text>
<line x1="1230.2" y1="1094" x2="1247.8" y2="1094" stroke="#ff1a0a" stroke-width="3.4" stroke-linecap="round"/>
<line x1="1239" y1="1090.7" x2="1239" y2="1097.3" stroke="#ff1a0a" stroke-width="1.6" />
<text x="1256.5" y="1100.8" font-size="21" stroke="#000" stroke-width="0.3">TSM</text>
<text x="779.6" y="1265.4" font-size="21" stroke="#000" stroke-width="0.3">Log-rank <tspan font-style="italic">P</tspan> = 0.006</text>
<text x="779.6" y="1283.5" font-size="14.8" stroke="#000" stroke-width="0.3">HR = 2.85 (95% CI, 1.31–6.21)</text>
<text x="781.5" y="1382.7" font-size="24" stroke="#000" stroke-width="0.3">Number at risk</text>
<line x1="780.8" y1="1397" x2="780.8" y2="1457.9" stroke="#000" stroke-width="1.9" />
<line x1="779.9" y1="1457" x2="1322" y2="1457" stroke="#000" stroke-width="1.9" />
<line x1="775.8" y1="1412.8" x2="780.8" y2="1412.8" stroke="#000" stroke-width="1.9" />
<line x1="775.8" y1="1439.4" x2="780.8" y2="1439.4" stroke="#000" stroke-width="1.9" />
<text x="769.8" y="1417.9" font-size="21" text-anchor="end" fill="#16078c" stroke="#16078c" stroke-width="0.3" letter-spacing="-1.9">HM</text>
<text x="769.8" y="1444.5" font-size="21" text-anchor="end" fill="#ff1a0a" stroke="#ff1a0a" stroke-width="0.3">TSM</text>
<line x1="805.8" y1="1457" x2="805.8" y2="1462" stroke="#000" stroke-width="1.9" />
<text x="805.8" y="1478.8" font-size="19.5" text-anchor="middle" stroke="#000" stroke-width="0.3">0</text>
<line x1="843.72" y1="1457" x2="843.72" y2="1462" stroke="#000" stroke-width="1.9" />
<text x="843.72" y="1478.8" font-size="19.5" text-anchor="middle" stroke="#000" stroke-width="0.3">12</text>
<line x1="881.64" y1="1457" x2="881.64" y2="1462" stroke="#000" stroke-width="1.9" />
<text x="881.64" y="1478.8" font-size="19.5" text-anchor="middle" stroke="#000" stroke-width="0.3">24</text>
<line x1="919.56" y1="1457" x2="919.56" y2="1462" stroke="#000" stroke-width="1.9" />
<text x="919.56" y="1478.8" font-size="19.5" text-anchor="middle" stroke="#000" stroke-width="0.3">36</text>
<line x1="957.48" y1="1457" x2="957.48" y2="1462" stroke="#000" stroke-width="1.9" />
<text x="957.48" y="1478.8" font-size="19.5" text-anchor="middle" stroke="#000" stroke-width="0.3">48</text>
<line x1="995.4" y1="1457" x2="995.4" y2="1462" stroke="#000" stroke-width="1.9" />
<text x="995.4" y="1478.8" font-size="19.5" text-anchor="middle" stroke="#000" stroke-width="0.3">60</text>
<line x1="1033.32" y1="1457" x2="1033.32" y2="1462" stroke="#000" stroke-width="1.9" />
<text x="1033.32" y="1478.8" font-size="19.5" text-anchor="middle" stroke="#000" stroke-width="0.3">72</text>
<line x1="1071.24" y1="1457" x2="1071.24" y2="1462" stroke="#000" stroke-width="1.9" />
<text x="1071.24" y="1478.8" font-size="19.5" text-anchor="middle" stroke="#000" stroke-width="0.3">84</text>
<line x1="1109.16" y1="1457" x2="1109.16" y2="1462" stroke="#000" stroke-width="1.9" />
<text x="1109.16" y="1478.8" font-size="19.5" text-anchor="middle" stroke="#000" stroke-width="0.3">96</text>
<line x1="1147.08" y1="1457" x2="1147.08" y2="1462" stroke="#000" stroke-width="1.9" />
<text x="1147.08" y="1478.8" font-size="19.5" text-anchor="middle" stroke="#000" stroke-width="0.3">108</text>
<line x1="1185" y1="1457" x2="1185" y2="1462" stroke="#000" stroke-width="1.9" />
<text x="1185" y="1478.8" font-size="19.5" text-anchor="middle" stroke="#000" stroke-width="0.3">120</text>
<line x1="1222.92" y1="1457" x2="1222.92" y2="1462" stroke="#000" stroke-width="1.9" />
<text x="1222.92" y="1478.8" font-size="19.5" text-anchor="middle" stroke="#000" stroke-width="0.3">132</text>
<line x1="1260.84" y1="1457" x2="1260.84" y2="1462" stroke="#000" stroke-width="1.9" />
<text x="1260.84" y="1478.8" font-size="19.5" text-anchor="middle" stroke="#000" stroke-width="0.3">144</text>
<line x1="1298.76" y1="1457" x2="1298.76" y2="1462" stroke="#000" stroke-width="1.9" />
<text x="1298.76" y="1478.8" font-size="19.5" text-anchor="middle" stroke="#000" stroke-width="0.3">156</text>
<text x="805.8" y="1420.4" font-size="19.5" text-anchor="middle" stroke="#000" stroke-width="0.3">47</text>
<text x="805.8" y="1447" font-size="19.5" text-anchor="middle" stroke="#000" stroke-width="0.3">24</text>
<text x="843.72" y="1420.4" font-size="19.5" text-anchor="middle" stroke="#000" stroke-width="0.3">43</text>
<text x="843.72" y="1447" font-size="19.5" text-anchor="middle" stroke="#000" stroke-width="0.3">19</text>
<text x="881.64" y="1420.4" font-size="19.5" text-anchor="middle" stroke="#000" stroke-width="0.3">34</text>
<text x="881.64" y="1447" font-size="19.5" text-anchor="middle" stroke="#000" stroke-width="0.3">13</text>
<text x="919.56" y="1420.4" font-size="19.5" text-anchor="middle" stroke="#000" stroke-width="0.3">31</text>
<text x="919.56" y="1447" font-size="19.5" text-anchor="middle" stroke="#000" stroke-width="0.3">10</text>
<text x="957.48" y="1420.4" font-size="19.5" text-anchor="middle" stroke="#000" stroke-width="0.3">30</text>
<text x="957.48" y="1447" font-size="19.5" text-anchor="middle" stroke="#000" stroke-width="0.3">7</text>
<text x="995.4" y="1420.4" font-size="19.5" text-anchor="middle" stroke="#000" stroke-width="0.3">29</text>
<text x="995.4" y="1447" font-size="19.5" text-anchor="middle" stroke="#000" stroke-width="0.3">6</text>
<text x="1033.32" y="1420.4" font-size="19.5" text-anchor="middle" stroke="#000" stroke-width="0.3">21</text>
<text x="1033.32" y="1447" font-size="19.5" text-anchor="middle" stroke="#000" stroke-width="0.3">6</text>
<text x="1071.24" y="1420.4" font-size="19.5" text-anchor="middle" stroke="#000" stroke-width="0.3">14</text>
<text x="1071.24" y="1447" font-size="19.5" text-anchor="middle" stroke="#000" stroke-width="0.3">3</text>
<text x="1109.16" y="1420.4" font-size="19.5" text-anchor="middle" stroke="#000" stroke-width="0.3">7</text>
<text x="1109.16" y="1447" font-size="19.5" text-anchor="middle" stroke="#000" stroke-width="0.3">2</text>
<text x="1147.08" y="1420.4" font-size="19.5" text-anchor="middle" stroke="#000" stroke-width="0.3">5</text>
<text x="1147.08" y="1447" font-size="19.5" text-anchor="middle" stroke="#000" stroke-width="0.3">2</text>
<text x="1185" y="1420.4" font-size="19.5" text-anchor="middle" stroke="#000" stroke-width="0.3">3</text>
<text x="1185" y="1447" font-size="19.5" text-anchor="middle" stroke="#000" stroke-width="0.3">2</text>
<text x="1222.92" y="1420.4" font-size="19.5" text-anchor="middle" stroke="#000" stroke-width="0.3">1</text>
<text x="1222.92" y="1447" font-size="19.5" text-anchor="middle" stroke="#000" stroke-width="0.3">1</text>
<text x="1260.84" y="1420.4" font-size="19.5" text-anchor="middle" stroke="#000" stroke-width="0.3">1</text>
<text x="1260.84" y="1447" font-size="19.5" text-anchor="middle" stroke="#000" stroke-width="0.3">0</text>
<text x="1298.76" y="1420.4" font-size="19.5" text-anchor="middle" stroke="#000" stroke-width="0.3">0</text>
<text x="1298.76" y="1447" font-size="19.5" text-anchor="middle" stroke="#000" stroke-width="0.3">0</text>
<line x1="1407.8" y1="1029.1" x2="1407.8" y2="1298.1" stroke="#000" stroke-width="1.9" />
<line x1="1407" y1="1297.3" x2="1961.8" y2="1297.3" stroke="#000" stroke-width="1.9" />
<line x1="1402.8" y1="1297.3" x2="1407.8" y2="1297.3" stroke="#000" stroke-width="1.9" />
<text x="1399.3" y="1304.9" font-size="21.5" text-anchor="end" stroke="#000" stroke-width="0.3">0</text>
<line x1="1402.8" y1="1243.86" x2="1407.8" y2="1243.86" stroke="#000" stroke-width="1.9" />
<text x="1399.3" y="1251.46" font-size="21.5" text-anchor="end" stroke="#000" stroke-width="0.3">20</text>
<line x1="1402.8" y1="1190.42" x2="1407.8" y2="1190.42" stroke="#000" stroke-width="1.9" />
<text x="1399.3" y="1198.02" font-size="21.5" text-anchor="end" stroke="#000" stroke-width="0.3">40</text>
<line x1="1402.8" y1="1136.98" x2="1407.8" y2="1136.98" stroke="#000" stroke-width="1.9" />
<text x="1399.3" y="1144.58" font-size="21.5" text-anchor="end" stroke="#000" stroke-width="0.3">60</text>
<line x1="1402.8" y1="1083.54" x2="1407.8" y2="1083.54" stroke="#000" stroke-width="1.9" />
<text x="1399.3" y="1091.14" font-size="21.5" text-anchor="end" stroke="#000" stroke-width="0.3">80</text>
<line x1="1402.8" y1="1030.1" x2="1407.8" y2="1030.1" stroke="#000" stroke-width="1.9" />
<text x="1399.3" y="1037.7" font-size="21.5" text-anchor="end" stroke="#000" stroke-width="0.3">100</text>
<line x1="1432.3" y1="1297.3" x2="1432.3" y2="1302.3" stroke="#000" stroke-width="1.9" />
<text x="1432.3" y="1320" font-size="21.5" text-anchor="middle" stroke="#000" stroke-width="0.3">0</text>
<line x1="1488.41" y1="1297.3" x2="1488.41" y2="1302.3" stroke="#000" stroke-width="1.9" />
<text x="1488.41" y="1320" font-size="21.5" text-anchor="middle" stroke="#000" stroke-width="0.3">12</text>
<line x1="1544.52" y1="1297.3" x2="1544.52" y2="1302.3" stroke="#000" stroke-width="1.9" />
<text x="1544.52" y="1320" font-size="21.5" text-anchor="middle" stroke="#000" stroke-width="0.3">24</text>
<line x1="1600.63" y1="1297.3" x2="1600.63" y2="1302.3" stroke="#000" stroke-width="1.9" />
<text x="1600.63" y="1320" font-size="21.5" text-anchor="middle" stroke="#000" stroke-width="0.3">36</text>
<line x1="1656.74" y1="1297.3" x2="1656.74" y2="1302.3" stroke="#000" stroke-width="1.9" />
<text x="1656.74" y="1320" font-size="21.5" text-anchor="middle" stroke="#000" stroke-width="0.3">48</text>
<line x1="1712.85" y1="1297.3" x2="1712.85" y2="1302.3" stroke="#000" stroke-width="1.9" />
<text x="1712.85" y="1320" font-size="21.5" text-anchor="middle" stroke="#000" stroke-width="0.3">60</text>
<line x1="1768.96" y1="1297.3" x2="1768.96" y2="1302.3" stroke="#000" stroke-width="1.9" />
<text x="1768.96" y="1320" font-size="21.5" text-anchor="middle" stroke="#000" stroke-width="0.3">72</text>
<line x1="1825.07" y1="1297.3" x2="1825.07" y2="1302.3" stroke="#000" stroke-width="1.9" />
<text x="1825.07" y="1320" font-size="21.5" text-anchor="middle" stroke="#000" stroke-width="0.3">84</text>
<line x1="1881.18" y1="1297.3" x2="1881.18" y2="1302.3" stroke="#000" stroke-width="1.9" />
<text x="1881.18" y="1320" font-size="21.5" text-anchor="middle" stroke="#000" stroke-width="0.3">96</text>
<line x1="1937.29" y1="1297.3" x2="1937.29" y2="1302.3" stroke="#000" stroke-width="1.9" />
<text x="1937.29" y="1320" font-size="21.5" text-anchor="middle" stroke="#000" stroke-width="0.3">108</text>
<text x="1685" y="1344.4" font-size="22.8" text-anchor="middle" stroke="#000" stroke-width="0.3">Time in Months</text>
<text transform="translate(1355.3,1163.7) rotate(-90)" font-size="22" text-anchor="middle" stroke="#000" stroke-width="0.3">Overall survival (%)</text>
<path d="M1432.27 1030.11 H1434.15 V1038.77 H1458.61 V1048.93 H1463.13 V1060.22 H1487.59 V1071.51 H1513.18 V1083.55 H1539.53 V1095.97 H1579.05 V1112.91 H1687.06 V1133.61 H1695.72 V1153.56 H1760.46 V1177.64 H1798.84 V1207.75 H1802.98 V1237.86 H1838.74 V1267.97 H1932.83 V1297.33" stroke="#16078c" stroke-width="2.7" fill="none" stroke-linejoin="round"/>
<line x1="1446.19" y1="1036.27" x2="1446.19" y2="1041.27" stroke="#16078c" stroke-width="1.6" />
<line x1="1470.65" y1="1057.72" x2="1470.65" y2="1062.72" stroke="#16078c" stroke-width="1.6" />
<line x1="1498.88" y1="1069.01" x2="1498.88" y2="1074.01" stroke="#16078c" stroke-width="1.6" />
<line x1="1525.23" y1="1081.05" x2="1525.23" y2="1086.05" stroke="#16078c" stroke-width="1.6" />
<line x1="1562.86" y1="1093.47" x2="1562.86" y2="1098.47" stroke="#16078c" stroke-width="1.6" />
<line x1="1587.33" y1="1110.41" x2="1587.33" y2="1115.41" stroke="#16078c" stroke-width="1.6" />
<line x1="1614.43" y1="1110.41" x2="1614.43" y2="1115.41" stroke="#16078c" stroke-width="1.6" />
<line x1="1716.42" y1="1151.06" x2="1716.42" y2="1156.06" stroke="#16078c" stroke-width="1.6" />
<line x1="1775.51" y1="1175.14" x2="1775.51" y2="1180.14" stroke="#16078c" stroke-width="1.6" />
<path d="M1432.27 1030.11 V1056.45 H1434.9 V1069.63 H1436.78 V1082.8 H1437.53 V1096.73 H1451.08 V1109.9 H1463.88 V1123.07 H1477.43 V1136.24 H1484.58 V1149.79 H1493.24 V1163.72 H1518.83 V1177.64 H1520.33 V1192.7 H1525.23 V1207.75 H1597.87 V1230.33 H1727.34 V1263.46 H1736.74 V1297.33" stroke="#ff1a0a" stroke-width="2.7" fill="none" stroke-linejoin="round"/>
<line x1="1502.65" y1="1161.22" x2="1502.65" y2="1166.22" stroke="#ff1a0a" stroke-width="1.6" />
<line x1="1540.28" y1="1205.25" x2="1540.28" y2="1210.25" stroke="#ff1a0a" stroke-width="1.6" />
<line x1="1572.27" y1="1205.25" x2="1572.27" y2="1210.25" stroke="#ff1a0a" stroke-width="1.6" />
<line x1="1663.73" y1="1227.83" x2="1663.73" y2="1232.83" stroke="#ff1a0a" stroke-width="1.6" />
<line x1="1870.8" y1="1097.5" x2="1888" y2="1097.5" stroke="#16078c" stroke-width="3.4" stroke-linecap="round"/>
<line x1="1879.4" y1="1094.2" x2="1879.4" y2="1100.8" stroke="#16078c" stroke-width="1.6" />
<text x="1898.6" y="1104.3" font-size="21" stroke="#000" stroke-width="0.3" letter-spacing="-1.8">HM</text>
<line x1="1870.8" y1="1122.8" x2="1888" y2="1122.8" stroke="#ff1a0a" stroke-width="3.4" stroke-linecap="round"/>
<line x1="1879.4" y1="1119.5" x2="1879.4" y2="1126.1" stroke="#ff1a0a" stroke-width="1.6" />
<text x="1898.6" y="1129.6" font-size="21" stroke="#000" stroke-width="0.3">TSM</text>
<text x="1418" y="1265.3" font-size="21" stroke="#000" stroke-width="0.3">Log-rank <tspan font-style="italic">P</tspan> &lt; 0.001</text>
<text x="1418" y="1284" font-size="14.8" stroke="#000" stroke-width="0.3">HR = 3.88 (95% CI, 1.69–8.90)</text>
<text x="1422.5" y="1384.6" font-size="24" stroke="#000" stroke-width="0.3">Number at risk</text>
<line x1="1421.7" y1="1398.1" x2="1421.7" y2="1460.1" stroke="#000" stroke-width="1.9" />
<line x1="1420.8" y1="1459.2" x2="1961.8" y2="1459.2" stroke="#000" stroke-width="1.9" />
<line x1="1416.7" y1="1413.9" x2="1421.7" y2="1413.9" stroke="#000" stroke-width="1.9" />
<line x1="1416.7" y1="1441" x2="1421.7" y2="1441" stroke="#000" stroke-width="1.9" />
<text x="1411.2" y="1419" font-size="21" text-anchor="end" fill="#16078c" stroke="#16078c" stroke-width="0.3" letter-spacing="-1.9">HM</text>
<text x="1411.2" y="1446.1" font-size="21" text-anchor="end" fill="#ff1a0a" stroke="#ff1a0a" stroke-width="0.3">TSM</text>
<line x1="1445.4" y1="1459.2" x2="1445.4" y2="1464.2" stroke="#000" stroke-width="1.9" />
<text x="1445.4" y="1479.9" font-size="19.5" text-anchor="middle" stroke="#000" stroke-width="0.3">0</text>
<line x1="1500.14" y1="1459.2" x2="1500.14" y2="1464.2" stroke="#000" stroke-width="1.9" />
<text x="1500.14" y="1479.9" font-size="19.5" text-anchor="middle" stroke="#000" stroke-width="0.3">12</text>
<line x1="1554.88" y1="1459.2" x2="1554.88" y2="1464.2" stroke="#000" stroke-width="1.9" />
<text x="1554.88" y="1479.9" font-size="19.5" text-anchor="middle" stroke="#000" stroke-width="0.3">24</text>
<line x1="1609.62" y1="1459.2" x2="1609.62" y2="1464.2" stroke="#000" stroke-width="1.9" />
<text x="1609.62" y="1479.9" font-size="19.5" text-anchor="middle" stroke="#000" stroke-width="0.3">36</text>
<line x1="1664.36" y1="1459.2" x2="1664.36" y2="1464.2" stroke="#000" stroke-width="1.9" />
<text x="1664.36" y="1479.9" font-size="19.5" text-anchor="middle" stroke="#000" stroke-width="0.3">48</text>
<line x1="1719.1" y1="1459.2" x2="1719.1" y2="1464.2" stroke="#000" stroke-width="1.9" />
<text x="1719.1" y="1479.9" font-size="19.5" text-anchor="middle" stroke="#000" stroke-width="0.3">60</text>
<line x1="1773.84" y1="1459.2" x2="1773.84" y2="1464.2" stroke="#000" stroke-width="1.9" />
<text x="1773.84" y="1479.9" font-size="19.5" text-anchor="middle" stroke="#000" stroke-width="0.3">72</text>
<line x1="1828.58" y1="1459.2" x2="1828.58" y2="1464.2" stroke="#000" stroke-width="1.9" />
<text x="1828.58" y="1479.9" font-size="19.5" text-anchor="middle" stroke="#000" stroke-width="0.3">84</text>
<line x1="1883.32" y1="1459.2" x2="1883.32" y2="1464.2" stroke="#000" stroke-width="1.9" />
<text x="1883.32" y="1479.9" font-size="19.5" text-anchor="middle" stroke="#000" stroke-width="0.3">96</text>
<line x1="1938.06" y1="1459.2" x2="1938.06" y2="1464.2" stroke="#000" stroke-width="1.9" />
<text x="1938.06" y="1479.9" font-size="19.5" text-anchor="middle" stroke="#000" stroke-width="0.3">108</text>
<text x="1445.4" y="1421.5" font-size="19.5" text-anchor="middle" stroke="#000" stroke-width="0.3">29</text>
<text x="1445.4" y="1448.6" font-size="19.5" text-anchor="middle" stroke="#000" stroke-width="0.3">20</text>
<text x="1500.14" y="1421.5" font-size="19.5" text-anchor="middle" stroke="#000" stroke-width="0.3">20</text>
<text x="1500.14" y="1448.6" font-size="19.5" text-anchor="middle" stroke="#000" stroke-width="0.3">11</text>
<text x="1554.88" y="1421.5" font-size="19.5" text-anchor="middle" stroke="#000" stroke-width="0.3">16</text>
<text x="1554.88" y="1448.6" font-size="19.5" text-anchor="middle" stroke="#000" stroke-width="0.3">5</text>
<text x="1609.62" y="1421.5" font-size="19.5" text-anchor="middle" stroke="#000" stroke-width="0.3">10</text>
<text x="1609.62" y="1448.6" font-size="19.5" text-anchor="middle" stroke="#000" stroke-width="0.3">3</text>
<text x="1664.36" y="1421.5" font-size="19.5" text-anchor="middle" stroke="#000" stroke-width="0.3">9</text>
<text x="1664.36" y="1448.6" font-size="19.5" text-anchor="middle" stroke="#000" stroke-width="0.3">3</text>
<text x="1719.1" y="1421.5" font-size="19.5" text-anchor="middle" stroke="#000" stroke-width="0.3">7</text>
<text x="1719.1" y="1448.6" font-size="19.5" text-anchor="middle" stroke="#000" stroke-width="0.3">2</text>
<text x="1773.84" y="1421.5" font-size="19.5" text-anchor="middle" stroke="#000" stroke-width="0.3">5</text>
<text x="1773.84" y="1448.6" font-size="19.5" text-anchor="middle" stroke="#000" stroke-width="0.3">0</text>
<text x="1828.58" y="1421.5" font-size="19.5" text-anchor="middle" stroke="#000" stroke-width="0.3">2</text>
<text x="1828.58" y="1448.6" font-size="19.5" text-anchor="middle" stroke="#000" stroke-width="0.3">0</text>
<text x="1883.32" y="1421.5" font-size="19.5" text-anchor="middle" stroke="#000" stroke-width="0.3">1</text>
<text x="1883.32" y="1448.6" font-size="19.5" text-anchor="middle" stroke="#000" stroke-width="0.3">0</text>
<text x="1938.06" y="1421.5" font-size="19.5" text-anchor="middle" stroke="#000" stroke-width="0.3">0</text>
<text x="1938.06" y="1448.6" font-size="19.5" text-anchor="middle" stroke="#000" stroke-width="0.3">0</text>
<g>
<line x1="146.5" y1="694.6" x2="146.5" y2="791" stroke="#ebebeb" stroke-width="1.1" />
<line x1="272.2" y1="694.6" x2="272.2" y2="791" stroke="#ebebeb" stroke-width="1.1" />
<line x1="397.9" y1="694.6" x2="397.9" y2="791" stroke="#ebebeb" stroke-width="1.1" />
<line x1="523.6" y1="694.6" x2="523.6" y2="791" stroke="#ebebeb" stroke-width="1.1" />
<line x1="649.3" y1="694.6" x2="649.3" y2="791" stroke="#ebebeb" stroke-width="1.1" />
<line x1="116.5" y1="776.5" x2="679.6" y2="776.5" stroke="#ebebeb" stroke-width="1.1" />
<line x1="116.5" y1="751.3" x2="679.6" y2="751.3" stroke="#ebebeb" stroke-width="1.1" />
<line x1="116.5" y1="726.1" x2="679.6" y2="726.1" stroke="#ebebeb" stroke-width="1.1" />
<line x1="116.5" y1="700.9" x2="679.6" y2="700.9" stroke="#ebebeb" stroke-width="1.1" />
<line x1="146.5" y1="730.38" x2="146.5" y2="783.3" stroke="#e9aa3e" stroke-width="2" />
<rect x="143.3" y="762.21" width="6.4" height="6.4" fill="#e9aa3e" />
<line x1="159.07" y1="728.87" x2="159.07" y2="783.05" stroke="#e9aa3e" stroke-width="2" />
<rect x="155.87" y="761.71" width="6.4" height="6.4" fill="#e9aa3e" />
<line x1="171.64" y1="737.44" x2="171.64" y2="785.32" stroke="#e9aa3e" stroke-width="2" />
<rect x="168.44" y="765.74" width="6.4" height="6.4" fill="#e9aa3e" />
<line x1="184.21" y1="714" x2="184.21" y2="778.52" stroke="#e9aa3e" stroke-width="2" />
<rect x="181.01" y="754.15" width="6.4" height="6.4" fill="#e9aa3e" />
<line x1="196.78" y1="716.27" x2="196.78" y2="779.52" stroke="#e9aa3e" stroke-width="2" />
<rect x="193.58" y="754.9" width="6.4" height="6.4" fill="#e9aa3e" />
<line x1="209.35" y1="716.27" x2="209.35" y2="779.52" stroke="#e9aa3e" stroke-width="2" />
<rect x="206.15" y="754.9" width="6.4" height="6.4" fill="#e9aa3e" />
<line x1="221.92" y1="698.38" x2="221.92" y2="776" stroke="#e9aa3e" stroke-width="2" />
<rect x="218.72" y="746.34" width="6.4" height="6.4" fill="#e9aa3e" />
<line x1="234.49" y1="698.38" x2="234.49" y2="776" stroke="#e9aa3e" stroke-width="2" />
<rect x="231.29" y="746.34" width="6.4" height="6.4" fill="#e9aa3e" />
<line x1="247.06" y1="698.38" x2="247.06" y2="776" stroke="#e9aa3e" stroke-width="2" />
<rect x="243.86" y="746.34" width="6.4" height="6.4" fill="#e9aa3e" />
<line x1="259.63" y1="698.38" x2="259.63" y2="776" stroke="#e9aa3e" stroke-width="2" />
<rect x="256.43" y="746.34" width="6.4" height="6.4" fill="#e9aa3e" />
<line x1="272.2" y1="698.38" x2="272.2" y2="776" stroke="#e9aa3e" stroke-width="2" />
<rect x="269" y="746.34" width="6.4" height="6.4" fill="#e9aa3e" />
<line x1="284.77" y1="698.38" x2="284.77" y2="776" stroke="#e9aa3e" stroke-width="2" />
<rect x="281.57" y="746.34" width="6.4" height="6.4" fill="#e9aa3e" />
<line x1="297.34" y1="717.28" x2="297.34" y2="780.28" stroke="#e9aa3e" stroke-width="2" />
<rect x="294.14" y="755.91" width="6.4" height="6.4" fill="#e9aa3e" />
<line x1="309.91" y1="717.28" x2="309.91" y2="780.28" stroke="#e9aa3e" stroke-width="2" />
<rect x="306.71" y="755.91" width="6.4" height="6.4" fill="#e9aa3e" />
<line x1="322.48" y1="719.3" x2="322.48" y2="780.78" stroke="#e9aa3e" stroke-width="2" />
<rect x="319.28" y="757.17" width="6.4" height="6.4" fill="#e9aa3e" />
<line x1="335.05" y1="719.3" x2="335.05" y2="780.78" stroke="#e9aa3e" stroke-width="2" />
<rect x="331.85" y="757.17" width="6.4" height="6.4" fill="#e9aa3e" />
<line x1="347.62" y1="726.6" x2="347.62" y2="782.55" stroke="#e9aa3e" stroke-width="2" />
<rect x="344.42" y="760.95" width="6.4" height="6.4" fill="#e9aa3e" />
<line x1="360.19" y1="707.45" x2="360.19" y2="777.26" stroke="#e9aa3e" stroke-width="2" />
<rect x="356.99" y="750.62" width="6.4" height="6.4" fill="#e9aa3e" />
<line x1="372.76" y1="707.45" x2="372.76" y2="777.26" stroke="#e9aa3e" stroke-width="2" />
<rect x="369.56" y="750.62" width="6.4" height="6.4" fill="#e9aa3e" />
<line x1="385.33" y1="717.78" x2="385.33" y2="780.03" stroke="#e9aa3e" stroke-width="2" />
<rect x="382.13" y="755.91" width="6.4" height="6.4" fill="#e9aa3e" />
<line x1="397.9" y1="709.47" x2="397.9" y2="778.26" stroke="#e9aa3e" stroke-width="2" />
<rect x="394.7" y="752.13" width="6.4" height="6.4" fill="#e9aa3e" />
<line x1="410.47" y1="707.45" x2="410.47" y2="777.26" stroke="#e9aa3e" stroke-width="2" />
<rect x="407.27" y="750.62" width="6.4" height="6.4" fill="#e9aa3e" />
<line x1="423.04" y1="707.45" x2="423.04" y2="777.26" stroke="#e9aa3e" stroke-width="2" />
<rect x="419.84" y="750.62" width="6.4" height="6.4" fill="#e9aa3e" />
<line x1="435.61" y1="707.45" x2="435.61" y2="777.26" stroke="#e9aa3e" stroke-width="2" />
<rect x="432.41" y="750.62" width="6.4" height="6.4" fill="#e9aa3e" />
<line x1="448.18" y1="707.45" x2="448.18" y2="777.26" stroke="#e9aa3e" stroke-width="2" />
<rect x="444.98" y="750.62" width="6.4" height="6.4" fill="#e9aa3e" />
<line x1="460.75" y1="709.47" x2="460.75" y2="778.26" stroke="#e9aa3e" stroke-width="2" />
<rect x="457.55" y="752.13" width="6.4" height="6.4" fill="#e9aa3e" />
<line x1="473.32" y1="719.8" x2="473.32" y2="780.78" stroke="#e9aa3e" stroke-width="2" />
<rect x="470.12" y="757.17" width="6.4" height="6.4" fill="#e9aa3e" />
<line x1="485.89" y1="719.8" x2="485.89" y2="780.78" stroke="#e9aa3e" stroke-width="2" />
<rect x="482.69" y="757.17" width="6.4" height="6.4" fill="#e9aa3e" />
<line x1="498.46" y1="715.01" x2="498.46" y2="779.52" stroke="#e9aa3e" stroke-width="2" />
<rect x="495.26" y="754.9" width="6.4" height="6.4" fill="#e9aa3e" />
<line x1="511.03" y1="719.8" x2="511.03" y2="780.78" stroke="#e9aa3e" stroke-width="2" />
<rect x="507.83" y="757.17" width="6.4" height="6.4" fill="#e9aa3e" />
<line x1="523.6" y1="738.2" x2="523.6" y2="786.58" stroke="#e9aa3e" stroke-width="2" />
<rect x="520.4" y="766.75" width="6.4" height="6.4" fill="#e9aa3e" />
<line x1="536.17" y1="741.22" x2="536.17" y2="786.58" stroke="#e9aa3e" stroke-width="2" />
<rect x="532.97" y="767.5" width="6.4" height="6.4" fill="#e9aa3e" />
<line x1="548.74" y1="741.22" x2="548.74" y2="786.58" stroke="#e9aa3e" stroke-width="2" />
<rect x="545.54" y="767.5" width="6.4" height="6.4" fill="#e9aa3e" />
<line x1="561.31" y1="741.22" x2="561.31" y2="786.58" stroke="#e9aa3e" stroke-width="2" />
<rect x="558.11" y="767.5" width="6.4" height="6.4" fill="#e9aa3e" />
<line x1="573.88" y1="741.22" x2="573.88" y2="786.58" stroke="#e9aa3e" stroke-width="2" />
<rect x="570.68" y="767.5" width="6.4" height="6.4" fill="#e9aa3e" />
<line x1="586.45" y1="741.22" x2="586.45" y2="786.58" stroke="#e9aa3e" stroke-width="2" />
<rect x="583.25" y="767.5" width="6.4" height="6.4" fill="#e9aa3e" />
<line x1="599.02" y1="741.22" x2="599.02" y2="786.58" stroke="#e9aa3e" stroke-width="2" />
<rect x="595.82" y="767.5" width="6.4" height="6.4" fill="#e9aa3e" />
<line x1="611.59" y1="741.22" x2="611.59" y2="786.58" stroke="#e9aa3e" stroke-width="2" />
<rect x="608.39" y="767.5" width="6.4" height="6.4" fill="#e9aa3e" />
<line x1="624.16" y1="741.22" x2="624.16" y2="786.58" stroke="#e9aa3e" stroke-width="2" />
<rect x="620.96" y="767.5" width="6.4" height="6.4" fill="#e9aa3e" />
<line x1="636.73" y1="741.22" x2="636.73" y2="786.58" stroke="#e9aa3e" stroke-width="2" />
<rect x="633.53" y="767.5" width="6.4" height="6.4" fill="#e9aa3e" />
<line x1="649.3" y1="741.22" x2="649.3" y2="786.58" stroke="#e9aa3e" stroke-width="2" />
<rect x="646.1" y="767.5" width="6.4" height="6.4" fill="#e9aa3e" />
<line x1="116.5" y1="776.5" x2="679.6" y2="776.5" stroke="#ff0000" stroke-width="2" />
<rect x="116.5" y="694.6" width="563.1" height="96.4" fill="none" stroke="#333333" stroke-width="1.4"/>
<line x1="112" y1="776.5" x2="116.5" y2="776.5" stroke="#333333" stroke-width="1.4" />
<text x="109" y="781.4" font-size="13.6" text-anchor="end" stroke="#000" stroke-width="0.3">1</text>
<line x1="112" y1="751.3" x2="116.5" y2="751.3" stroke="#333333" stroke-width="1.4" />
<text x="109" y="756.2" font-size="13.6" text-anchor="end" stroke="#000" stroke-width="0.3">2</text>
<line x1="112" y1="726.1" x2="116.5" y2="726.1" stroke="#333333" stroke-width="1.4" />
<text x="109" y="731" font-size="13.6" text-anchor="end" stroke="#000" stroke-width="0.3">3</text>
<line x1="112" y1="700.9" x2="116.5" y2="700.9" stroke="#333333" stroke-width="1.4" />
<text x="109" y="705.8" font-size="13.6" text-anchor="end" stroke="#000" stroke-width="0.3">4</text>
<line x1="146.5" y1="791" x2="146.5" y2="795.5" stroke="#333333" stroke-width="1.4" />
<text x="146.5" y="808" font-size="13.6" text-anchor="middle" stroke="#000" stroke-width="0.3">10</text>
<line x1="272.2" y1="791" x2="272.2" y2="795.5" stroke="#333333" stroke-width="1.4" />
<text x="272.2" y="808" font-size="13.6" text-anchor="middle" stroke="#000" stroke-width="0.3">20</text>
<line x1="397.9" y1="791" x2="397.9" y2="795.5" stroke="#333333" stroke-width="1.4" />
<text x="397.9" y="808" font-size="13.6" text-anchor="middle" stroke="#000" stroke-width="0.3">30</text>
<line x1="523.6" y1="791" x2="523.6" y2="795.5" stroke="#333333" stroke-width="1.4" />
<text x="523.6" y="808" font-size="13.6" text-anchor="middle" stroke="#000" stroke-width="0.3">40</text>
<line x1="649.3" y1="791" x2="649.3" y2="795.5" stroke="#333333" stroke-width="1.4" />
<text x="649.3" y="808" font-size="13.6" text-anchor="middle" stroke="#000" stroke-width="0.3">50</text>
<text transform="translate(82.5,742.8) rotate(-90)" font-size="16" text-anchor="middle" stroke="#000" stroke-width="0.3">Hazard Ratio</text>
<line x1="146.5" y1="847" x2="146.5" y2="943.4" stroke="#ebebeb" stroke-width="1.1" />
<line x1="272.2" y1="847" x2="272.2" y2="943.4" stroke="#ebebeb" stroke-width="1.1" />
<line x1="397.9" y1="847" x2="397.9" y2="943.4" stroke="#ebebeb" stroke-width="1.1" />
<line x1="523.6" y1="847" x2="523.6" y2="943.4" stroke="#ebebeb" stroke-width="1.1" />
<line x1="649.3" y1="847" x2="649.3" y2="943.4" stroke="#ebebeb" stroke-width="1.1" />
<line x1="209.35" y1="847" x2="209.35" y2="943.4" stroke="#ebebeb" stroke-width="0.9" />
<line x1="335.05" y1="847" x2="335.05" y2="943.4" stroke="#ebebeb" stroke-width="0.9" />
<line x1="460.75" y1="847" x2="460.75" y2="943.4" stroke="#ebebeb" stroke-width="0.9" />
<line x1="586.45" y1="847" x2="586.45" y2="943.4" stroke="#ebebeb" stroke-width="0.9" />
<line x1="116.5" y1="939" x2="679.6" y2="939" stroke="#ebebeb" stroke-width="1.1" />
<line x1="116.5" y1="907.5" x2="679.6" y2="907.5" stroke="#ebebeb" stroke-width="1.1" />
<line x1="116.5" y1="876" x2="679.6" y2="876" stroke="#ebebeb" stroke-width="1.1" />
<line x1="116.5" y1="923.25" x2="679.6" y2="923.25" stroke="#ebebeb" stroke-width="0.9" />
<line x1="116.5" y1="891.75" x2="679.6" y2="891.75" stroke="#ebebeb" stroke-width="0.9" />
<line x1="116.5" y1="860.25" x2="679.6" y2="860.25" stroke="#ebebeb" stroke-width="0.9" />
<rect x="141.28" y="905.61" width="10.43" height="33.39" fill="#ebb352" />
<rect x="153.85" y="904.98" width="10.43" height="34.02" fill="#ebb352" />
<rect x="166.42" y="916.95" width="10.43" height="22.05" fill="#ebb352" />
<rect x="178.99" y="877.58" width="10.43" height="61.42" fill="#ebb352" />
<rect x="191.56" y="882.3" width="10.43" height="56.7" fill="#ebb352" />
<rect x="204.13" y="882.3" width="10.43" height="56.7" fill="#ebb352" />
<rect x="216.7" y="850.17" width="10.43" height="88.83" fill="#ebb352" />
<rect x="229.27" y="850.17" width="10.43" height="88.83" fill="#ebb352" />
<rect x="241.84" y="850.17" width="10.43" height="88.83" fill="#ebb352" />
<rect x="254.41" y="850.17" width="10.43" height="88.83" fill="#ebb352" />
<rect x="266.98" y="850.17" width="10.43" height="88.83" fill="#ebb352" />
<rect x="279.55" y="850.17" width="10.43" height="88.83" fill="#ebb352" />
<rect x="292.12" y="885.45" width="10.43" height="53.55" fill="#ebb352" />
<rect x="304.69" y="885.45" width="10.43" height="53.55" fill="#ebb352" />
<rect x="317.26" y="888.6" width="10.43" height="50.4" fill="#ebb352" />
<rect x="329.83" y="888.6" width="10.43" height="50.4" fill="#ebb352" />
<rect x="342.4" y="902.14" width="10.43" height="36.85" fill="#ebb352" />
<rect x="354.97" y="866.55" width="10.43" height="72.45" fill="#ebb352" />
<rect x="367.54" y="866.55" width="10.43" height="72.45" fill="#ebb352" />
<rect x="380.11" y="884.82" width="10.43" height="54.18" fill="#ebb352" />
<rect x="392.68" y="870.33" width="10.43" height="68.67" fill="#ebb352" />
<rect x="405.25" y="866.55" width="10.43" height="72.45" fill="#ebb352" />
<rect x="417.82" y="866.55" width="10.43" height="72.45" fill="#ebb352" />
<rect x="430.39" y="866.55" width="10.43" height="72.45" fill="#ebb352" />
<rect x="442.96" y="866.55" width="10.43" height="72.45" fill="#ebb352" />
<rect x="455.53" y="870.33" width="10.43" height="68.67" fill="#ebb352" />
<rect x="468.1" y="890.49" width="10.43" height="48.51" fill="#ebb352" />
<rect x="480.67" y="890.49" width="10.43" height="48.51" fill="#ebb352" />
<rect x="493.24" y="883.56" width="10.43" height="55.44" fill="#ebb352" />
<rect x="505.81" y="890.49" width="10.43" height="48.51" fill="#ebb352" />
<rect x="518.38" y="921.99" width="10.43" height="17.01" fill="#ebb352" />
<rect x="530.95" y="924.83" width="10.43" height="14.18" fill="#ebb352" />
<rect x="543.52" y="924.83" width="10.43" height="14.18" fill="#ebb352" />
<rect x="556.09" y="924.83" width="10.43" height="14.18" fill="#ebb352" />
<rect x="568.66" y="924.83" width="10.43" height="14.18" fill="#ebb352" />
<rect x="581.23" y="924.83" width="10.43" height="14.18" fill="#ebb352" />
<rect x="593.8" y="924.83" width="10.43" height="14.18" fill="#ebb352" />
<rect x="606.37" y="924.83" width="10.43" height="14.18" fill="#ebb352" />
<rect x="618.94" y="924.83" width="10.43" height="14.18" fill="#ebb352" />
<rect x="631.51" y="924.83" width="10.43" height="14.18" fill="#ebb352" />
<rect x="644.08" y="924.83" width="10.43" height="14.18" fill="#ebb352" />
<line x1="116.5" y1="857.1" x2="679.6" y2="857.1" stroke="#ff0000" stroke-width="2" />
<rect x="116.5" y="847" width="563.1" height="96.4" fill="none" stroke="#333333" stroke-width="1.4"/>
<line x1="112" y1="939" x2="116.5" y2="939" stroke="#333333" stroke-width="1.4" />
<text x="109" y="943.9" font-size="13.6" text-anchor="end" stroke="#000" stroke-width="0.3">0.0</text>
<line x1="112" y1="907.5" x2="116.5" y2="907.5" stroke="#333333" stroke-width="1.4" />
<text x="109" y="912.4" font-size="13.6" text-anchor="end" stroke="#000" stroke-width="0.3">0.5</text>
<line x1="112" y1="876" x2="116.5" y2="876" stroke="#333333" stroke-width="1.4" />
<text x="109" y="880.9" font-size="13.6" text-anchor="end" stroke="#000" stroke-width="0.3">1.0</text>
<line x1="146.5" y1="943.4" x2="146.5" y2="947.9" stroke="#333333" stroke-width="1.4" />
<text x="146.5" y="960.4" font-size="13.6" text-anchor="middle" stroke="#000" stroke-width="0.3">10</text>
<line x1="272.2" y1="943.4" x2="272.2" y2="947.9" stroke="#333333" stroke-width="1.4" />
<text x="272.2" y="960.4" font-size="13.6" text-anchor="middle" stroke="#000" stroke-width="0.3">20</text>
<line x1="397.9" y1="943.4" x2="397.9" y2="947.9" stroke="#333333" stroke-width="1.4" />
<text x="397.9" y="960.4" font-size="13.6" text-anchor="middle" stroke="#000" stroke-width="0.3">30</text>
<line x1="523.6" y1="943.4" x2="523.6" y2="947.9" stroke="#333333" stroke-width="1.4" />
<text x="523.6" y="960.4" font-size="13.6" text-anchor="middle" stroke="#000" stroke-width="0.3">40</text>
<line x1="649.3" y1="943.4" x2="649.3" y2="947.9" stroke="#333333" stroke-width="1.4" />
<text x="649.3" y="960.4" font-size="13.6" text-anchor="middle" stroke="#000" stroke-width="0.3">50</text>
<text transform="translate(82.5,895.2) rotate(-90)" font-size="16" text-anchor="middle" stroke="#000" stroke-width="0.3">−log10 P−value</text>
<text x="420.8" y="985" font-size="19.2" text-anchor="middle" stroke="#000" stroke-width="0.3">Numbers of Tumor-supportive signature genes</text>
</g>
<g>
<line x1="801" y1="694.2" x2="801" y2="790.4" stroke="#ebebeb" stroke-width="1.1" />
<line x1="926.7" y1="694.2" x2="926.7" y2="790.4" stroke="#ebebeb" stroke-width="1.1" />
<line x1="1052.4" y1="694.2" x2="1052.4" y2="790.4" stroke="#ebebeb" stroke-width="1.1" />
<line x1="1178.1" y1="694.2" x2="1178.1" y2="790.4" stroke="#ebebeb" stroke-width="1.1" />
<line x1="1303.8" y1="694.2" x2="1303.8" y2="790.4" stroke="#ebebeb" stroke-width="1.1" />
<line x1="771" y1="763" x2="1334.6" y2="763" stroke="#ebebeb" stroke-width="1.1" />
<line x1="771" y1="733.24" x2="1334.6" y2="733.24" stroke="#ebebeb" stroke-width="1.1" />
<line x1="771" y1="703.48" x2="1334.6" y2="703.48" stroke="#ebebeb" stroke-width="1.1" />
<line x1="801" y1="741.88" x2="801" y2="781.43" stroke="#e9aa3e" stroke-width="2" />
<rect x="797.8" y="766.71" width="6.4" height="6.4" fill="#e9aa3e" />
<line x1="813.57" y1="732.66" x2="813.57" y2="778.74" stroke="#e9aa3e" stroke-width="2" />
<rect x="810.37" y="762.1" width="6.4" height="6.4" fill="#e9aa3e" />
<line x1="826.14" y1="734.2" x2="826.14" y2="779.51" stroke="#e9aa3e" stroke-width="2" />
<rect x="822.94" y="763.64" width="6.4" height="6.4" fill="#e9aa3e" />
<line x1="838.71" y1="749.18" x2="838.71" y2="783.35" stroke="#e9aa3e" stroke-width="2" />
<rect x="835.51" y="769.4" width="6.4" height="6.4" fill="#e9aa3e" />
<line x1="851.28" y1="723.06" x2="851.28" y2="775.67" stroke="#e9aa3e" stroke-width="2" />
<rect x="848.08" y="757.88" width="6.4" height="6.4" fill="#e9aa3e" />
<line x1="863.85" y1="756.47" x2="863.85" y2="786.04" stroke="#e9aa3e" stroke-width="2" />
<rect x="860.65" y="774.39" width="6.4" height="6.4" fill="#e9aa3e" />
<line x1="876.42" y1="743.03" x2="876.42" y2="781.43" stroke="#e9aa3e" stroke-width="2" />
<rect x="873.22" y="767.1" width="6.4" height="6.4" fill="#e9aa3e" />
<line x1="888.99" y1="748.02" x2="888.99" y2="783.74" stroke="#e9aa3e" stroke-width="2" />
<rect x="885.79" y="769.78" width="6.4" height="6.4" fill="#e9aa3e" />
<line x1="901.56" y1="752.63" x2="901.56" y2="785.27" stroke="#e9aa3e" stroke-width="2" />
<rect x="898.36" y="772.09" width="6.4" height="6.4" fill="#e9aa3e" />
<line x1="914.13" y1="752.63" x2="914.13" y2="785.27" stroke="#e9aa3e" stroke-width="2" />
<rect x="910.93" y="772.09" width="6.4" height="6.4" fill="#e9aa3e" />
<line x1="926.7" y1="748.02" x2="926.7" y2="783.74" stroke="#e9aa3e" stroke-width="2" />
<rect x="923.5" y="769.78" width="6.4" height="6.4" fill="#e9aa3e" />
<line x1="939.27" y1="758.39" x2="939.27" y2="785.27" stroke="#e9aa3e" stroke-width="2" />
<rect x="936.07" y="773.62" width="6.4" height="6.4" fill="#e9aa3e" />
<line x1="951.84" y1="757.24" x2="951.84" y2="785.27" stroke="#e9aa3e" stroke-width="2" />
<rect x="948.64" y="773.24" width="6.4" height="6.4" fill="#e9aa3e" />
<line x1="964.41" y1="751.48" x2="964.41" y2="784.5" stroke="#e9aa3e" stroke-width="2" />
<rect x="961.21" y="771.32" width="6.4" height="6.4" fill="#e9aa3e" />
<line x1="976.98" y1="755.7" x2="976.98" y2="785.27" stroke="#e9aa3e" stroke-width="2" />
<rect x="973.78" y="773.62" width="6.4" height="6.4" fill="#e9aa3e" />
<line x1="989.55" y1="751.86" x2="989.55" y2="784.5" stroke="#e9aa3e" stroke-width="2" />
<rect x="986.35" y="771.7" width="6.4" height="6.4" fill="#e9aa3e" />
<line x1="1002.12" y1="751.86" x2="1002.12" y2="784.5" stroke="#e9aa3e" stroke-width="2" />
<rect x="998.92" y="771.7" width="6.4" height="6.4" fill="#e9aa3e" />
<line x1="1014.69" y1="748.02" x2="1014.69" y2="784.5" stroke="#e9aa3e" stroke-width="2" />
<rect x="1011.49" y="770.55" width="6.4" height="6.4" fill="#e9aa3e" />
<line x1="1027.26" y1="726.9" x2="1027.26" y2="777.59" stroke="#e9aa3e" stroke-width="2" />
<rect x="1024.06" y="760.18" width="6.4" height="6.4" fill="#e9aa3e" />
<line x1="1039.83" y1="736.12" x2="1039.83" y2="780.66" stroke="#e9aa3e" stroke-width="2" />
<rect x="1036.63" y="764.02" width="6.4" height="6.4" fill="#e9aa3e" />
<line x1="1052.4" y1="729.59" x2="1052.4" y2="777.98" stroke="#e9aa3e" stroke-width="2" />
<rect x="1049.2" y="760.95" width="6.4" height="6.4" fill="#e9aa3e" />
<line x1="1064.97" y1="729.59" x2="1064.97" y2="777.98" stroke="#e9aa3e" stroke-width="2" />
<rect x="1061.77" y="760.95" width="6.4" height="6.4" fill="#e9aa3e" />
<line x1="1077.54" y1="719.99" x2="1077.54" y2="776.82" stroke="#e9aa3e" stroke-width="2" />
<rect x="1074.34" y="755.96" width="6.4" height="6.4" fill="#e9aa3e" />
<line x1="1090.11" y1="729.59" x2="1090.11" y2="777.98" stroke="#e9aa3e" stroke-width="2" />
<rect x="1086.91" y="760.95" width="6.4" height="6.4" fill="#e9aa3e" />
<line x1="1102.68" y1="719.99" x2="1102.68" y2="776.82" stroke="#e9aa3e" stroke-width="2" />
<rect x="1099.48" y="755.96" width="6.4" height="6.4" fill="#e9aa3e" />
<line x1="1115.25" y1="719.99" x2="1115.25" y2="776.82" stroke="#e9aa3e" stroke-width="2" />
<rect x="1112.05" y="755.96" width="6.4" height="6.4" fill="#e9aa3e" />
<line x1="1127.82" y1="728.06" x2="1127.82" y2="777.59" stroke="#e9aa3e" stroke-width="2" />
<rect x="1124.62" y="760.18" width="6.4" height="6.4" fill="#e9aa3e" />
<line x1="1140.39" y1="718.46" x2="1140.39" y2="776.82" stroke="#e9aa3e" stroke-width="2" />
<rect x="1137.19" y="755.19" width="6.4" height="6.4" fill="#e9aa3e" />
<line x1="1152.96" y1="718.46" x2="1152.96" y2="776.82" stroke="#e9aa3e" stroke-width="2" />
<rect x="1149.76" y="755.19" width="6.4" height="6.4" fill="#e9aa3e" />
<line x1="1165.53" y1="736.12" x2="1165.53" y2="779.9" stroke="#e9aa3e" stroke-width="2" />
<rect x="1162.33" y="763.64" width="6.4" height="6.4" fill="#e9aa3e" />
<line x1="1178.1" y1="718.46" x2="1178.1" y2="776.82" stroke="#e9aa3e" stroke-width="2" />
<rect x="1174.9" y="755.19" width="6.4" height="6.4" fill="#e9aa3e" />
<line x1="1190.67" y1="718.46" x2="1190.67" y2="776.82" stroke="#e9aa3e" stroke-width="2" />
<rect x="1187.47" y="755.19" width="6.4" height="6.4" fill="#e9aa3e" />
<line x1="1203.24" y1="733.43" x2="1203.24" y2="779.13" stroke="#e9aa3e" stroke-width="2" />
<rect x="1200.04" y="762.1" width="6.4" height="6.4" fill="#e9aa3e" />
<line x1="1215.81" y1="725.75" x2="1215.81" y2="777.59" stroke="#e9aa3e" stroke-width="2" />
<rect x="1212.61" y="759.03" width="6.4" height="6.4" fill="#e9aa3e" />
<line x1="1228.38" y1="732.28" x2="1228.38" y2="779.51" stroke="#e9aa3e" stroke-width="2" />
<rect x="1225.18" y="762.49" width="6.4" height="6.4" fill="#e9aa3e" />
<line x1="1240.95" y1="732.28" x2="1240.95" y2="779.51" stroke="#e9aa3e" stroke-width="2" />
<rect x="1237.75" y="762.49" width="6.4" height="6.4" fill="#e9aa3e" />
<line x1="1253.52" y1="700.79" x2="1253.52" y2="772.98" stroke="#e9aa3e" stroke-width="2" />
<rect x="1250.32" y="746.74" width="6.4" height="6.4" fill="#e9aa3e" />
<line x1="1266.09" y1="708.47" x2="1266.09" y2="774.52" stroke="#e9aa3e" stroke-width="2" />
<rect x="1262.89" y="750.2" width="6.4" height="6.4" fill="#e9aa3e" />
<line x1="1278.66" y1="698.87" x2="1278.66" y2="772.6" stroke="#e9aa3e" stroke-width="2" />
<rect x="1275.46" y="745.98" width="6.4" height="6.4" fill="#e9aa3e" />
<line x1="1291.23" y1="698.87" x2="1291.23" y2="772.6" stroke="#e9aa3e" stroke-width="2" />
<rect x="1288.03" y="745.98" width="6.4" height="6.4" fill="#e9aa3e" />
<line x1="1303.8" y1="718.07" x2="1303.8" y2="776.82" stroke="#e9aa3e" stroke-width="2" />
<rect x="1300.6" y="754.42" width="6.4" height="6.4" fill="#e9aa3e" />
<line x1="771" y1="777.88" x2="1334.6" y2="777.88" stroke="#ff0000" stroke-width="2" />
<rect x="771" y="694.2" width="563.6" height="96.2" fill="none" stroke="#333333" stroke-width="1.4"/>
<line x1="766.5" y1="763" x2="771" y2="763" stroke="#333333" stroke-width="1.4" />
<text x="763.5" y="767.9" font-size="13.6" text-anchor="end" stroke="#000" stroke-width="0.3">2</text>
<line x1="766.5" y1="733.24" x2="771" y2="733.24" stroke="#333333" stroke-width="1.4" />
<text x="763.5" y="738.14" font-size="13.6" text-anchor="end" stroke="#000" stroke-width="0.3">4</text>
<line x1="766.5" y1="703.48" x2="771" y2="703.48" stroke="#333333" stroke-width="1.4" />
<text x="763.5" y="708.38" font-size="13.6" text-anchor="end" stroke="#000" stroke-width="0.3">6</text>
<line x1="801" y1="790.4" x2="801" y2="794.9" stroke="#333333" stroke-width="1.4" />
<text x="801" y="807.4" font-size="13.6" text-anchor="middle" stroke="#000" stroke-width="0.3">10</text>
<line x1="926.7" y1="790.4" x2="926.7" y2="794.9" stroke="#333333" stroke-width="1.4" />
<text x="926.7" y="807.4" font-size="13.6" text-anchor="middle" stroke="#000" stroke-width="0.3">20</text>
<line x1="1052.4" y1="790.4" x2="1052.4" y2="794.9" stroke="#333333" stroke-width="1.4" />
<text x="1052.4" y="807.4" font-size="13.6" text-anchor="middle" stroke="#000" stroke-width="0.3">30</text>
<line x1="1178.1" y1="790.4" x2="1178.1" y2="794.9" stroke="#333333" stroke-width="1.4" />
<text x="1178.1" y="807.4" font-size="13.6" text-anchor="middle" stroke="#000" stroke-width="0.3">40</text>
<line x1="1303.8" y1="790.4" x2="1303.8" y2="794.9" stroke="#333333" stroke-width="1.4" />
<text x="1303.8" y="807.4" font-size="13.6" text-anchor="middle" stroke="#000" stroke-width="0.3">50</text>
<text transform="translate(737,742.3) rotate(-90)" font-size="16" text-anchor="middle" stroke="#000" stroke-width="0.3">Hazard Ratio</text>
<line x1="801" y1="847" x2="801" y2="943" stroke="#ebebeb" stroke-width="1.1" />
<line x1="926.7" y1="847" x2="926.7" y2="943" stroke="#ebebeb" stroke-width="1.1" />
<line x1="1052.4" y1="847" x2="1052.4" y2="943" stroke="#ebebeb" stroke-width="1.1" />
<line x1="1178.1" y1="847" x2="1178.1" y2="943" stroke="#ebebeb" stroke-width="1.1" />
<line x1="1303.8" y1="847" x2="1303.8" y2="943" stroke="#ebebeb" stroke-width="1.1" />
<line x1="863.85" y1="847" x2="863.85" y2="943" stroke="#ebebeb" stroke-width="0.9" />
<line x1="989.55" y1="847" x2="989.55" y2="943" stroke="#ebebeb" stroke-width="0.9" />
<line x1="1115.25" y1="847" x2="1115.25" y2="943" stroke="#ebebeb" stroke-width="0.9" />
<line x1="1240.95" y1="847" x2="1240.95" y2="943" stroke="#ebebeb" stroke-width="0.9" />
<line x1="771" y1="938.8" x2="1334.6" y2="938.8" stroke="#ebebeb" stroke-width="1.1" />
<line x1="771" y1="917.95" x2="1334.6" y2="917.95" stroke="#ebebeb" stroke-width="1.1" />
<line x1="771" y1="897.1" x2="1334.6" y2="897.1" stroke="#ebebeb" stroke-width="1.1" />
<line x1="771" y1="876.25" x2="1334.6" y2="876.25" stroke="#ebebeb" stroke-width="1.1" />
<line x1="771" y1="855.4" x2="1334.6" y2="855.4" stroke="#ebebeb" stroke-width="1.1" />
<line x1="771" y1="928.38" x2="1334.6" y2="928.38" stroke="#ebebeb" stroke-width="0.9" />
<line x1="771" y1="907.52" x2="1334.6" y2="907.52" stroke="#ebebeb" stroke-width="0.9" />
<line x1="771" y1="886.67" x2="1334.6" y2="886.67" stroke="#ebebeb" stroke-width="0.9" />
<line x1="771" y1="865.82" x2="1334.6" y2="865.82" stroke="#ebebeb" stroke-width="0.9" />
<rect x="795.78" y="916.7" width="10.43" height="22.1" fill="#ebb352" />
<rect x="808.35" y="902.1" width="10.43" height="36.7" fill="#ebb352" />
<rect x="820.92" y="907.11" width="10.43" height="31.69" fill="#ebb352" />
<rect x="833.49" y="924.62" width="10.43" height="14.18" fill="#ebb352" />
<rect x="846.06" y="887.51" width="10.43" height="51.29" fill="#ebb352" />
<rect x="858.63" y="937.55" width="10.43" height="1.25" fill="#ebb352" />
<rect x="871.2" y="917.95" width="10.43" height="20.85" fill="#ebb352" />
<rect x="883.77" y="926.71" width="10.43" height="12.09" fill="#ebb352" />
<rect x="896.34" y="933.8" width="10.43" height="5" fill="#ebb352" />
<rect x="908.91" y="933.8" width="10.43" height="5" fill="#ebb352" />
<rect x="921.48" y="927.12" width="10.43" height="11.68" fill="#ebb352" />
<rect x="934.05" y="936.71" width="10.43" height="2.09" fill="#ebb352" />
<rect x="946.62" y="935.88" width="10.43" height="2.92" fill="#ebb352" />
<rect x="959.19" y="930.04" width="10.43" height="8.76" fill="#ebb352" />
<rect x="971.76" y="936.71" width="10.43" height="2.09" fill="#ebb352" />
<rect x="984.33" y="932.13" width="10.43" height="6.67" fill="#ebb352" />
<rect x="996.9" y="932.13" width="10.43" height="6.67" fill="#ebb352" />
<rect x="1009.47" y="928.79" width="10.43" height="10.01" fill="#ebb352" />
<rect x="1022.04" y="897.52" width="10.43" height="41.28" fill="#ebb352" />
<rect x="1034.61" y="909.19" width="10.43" height="29.61" fill="#ebb352" />
<rect x="1047.18" y="897.52" width="10.43" height="41.28" fill="#ebb352" />
<rect x="1059.75" y="897.52" width="10.43" height="41.28" fill="#ebb352" />
<rect x="1072.32" y="882.92" width="10.43" height="55.88" fill="#ebb352" />
<rect x="1084.89" y="897.52" width="10.43" height="41.28" fill="#ebb352" />
<rect x="1097.46" y="882.92" width="10.43" height="55.88" fill="#ebb352" />
<rect x="1110.03" y="882.92" width="10.43" height="55.88" fill="#ebb352" />
<rect x="1122.6" y="895.85" width="10.43" height="42.95" fill="#ebb352" />
<rect x="1135.17" y="880" width="10.43" height="58.8" fill="#ebb352" />
<rect x="1147.74" y="880" width="10.43" height="58.8" fill="#ebb352" />
<rect x="1160.31" y="907.11" width="10.43" height="31.69" fill="#ebb352" />
<rect x="1172.88" y="880" width="10.43" height="58.8" fill="#ebb352" />
<rect x="1185.45" y="880" width="10.43" height="58.8" fill="#ebb352" />
<rect x="1198.02" y="902.94" width="10.43" height="35.86" fill="#ebb352" />
<rect x="1210.59" y="892.93" width="10.43" height="45.87" fill="#ebb352" />
<rect x="1223.16" y="904.61" width="10.43" height="34.19" fill="#ebb352" />
<rect x="1235.73" y="904.61" width="10.43" height="34.19" fill="#ebb352" />
<rect x="1248.3" y="852.06" width="10.43" height="86.74" fill="#ebb352" />
<rect x="1260.87" y="863.74" width="10.43" height="75.06" fill="#ebb352" />
<rect x="1273.44" y="849.98" width="10.43" height="88.82" fill="#ebb352" />
<rect x="1286.01" y="849.98" width="10.43" height="88.82" fill="#ebb352" />
<rect x="1298.58" y="877.5" width="10.43" height="61.3" fill="#ebb352" />
<line x1="771" y1="884.59" x2="1334.6" y2="884.59" stroke="#ff0000" stroke-width="2" />
<rect x="771" y="847" width="563.6" height="96" fill="none" stroke="#333333" stroke-width="1.4"/>
<line x1="766.5" y1="938.8" x2="771" y2="938.8" stroke="#333333" stroke-width="1.4" />
<text x="763.5" y="943.7" font-size="13.6" text-anchor="end" stroke="#000" stroke-width="0.3">0.0</text>
<line x1="766.5" y1="917.95" x2="771" y2="917.95" stroke="#333333" stroke-width="1.4" />
<text x="763.5" y="922.85" font-size="13.6" text-anchor="end" stroke="#000" stroke-width="0.3">0.5</text>
<line x1="766.5" y1="897.1" x2="771" y2="897.1" stroke="#333333" stroke-width="1.4" />
<text x="763.5" y="902" font-size="13.6" text-anchor="end" stroke="#000" stroke-width="0.3">1.0</text>
<line x1="766.5" y1="876.25" x2="771" y2="876.25" stroke="#333333" stroke-width="1.4" />
<text x="763.5" y="881.15" font-size="13.6" text-anchor="end" stroke="#000" stroke-width="0.3">1.5</text>
<line x1="766.5" y1="855.4" x2="771" y2="855.4" stroke="#333333" stroke-width="1.4" />
<text x="763.5" y="860.3" font-size="13.6" text-anchor="end" stroke="#000" stroke-width="0.3">2.0</text>
<line x1="801" y1="943" x2="801" y2="947.5" stroke="#333333" stroke-width="1.4" />
<text x="801" y="960" font-size="13.6" text-anchor="middle" stroke="#000" stroke-width="0.3">10</text>
<line x1="926.7" y1="943" x2="926.7" y2="947.5" stroke="#333333" stroke-width="1.4" />
<text x="926.7" y="960" font-size="13.6" text-anchor="middle" stroke="#000" stroke-width="0.3">20</text>
<line x1="1052.4" y1="943" x2="1052.4" y2="947.5" stroke="#333333" stroke-width="1.4" />
<text x="1052.4" y="960" font-size="13.6" text-anchor="middle" stroke="#000" stroke-width="0.3">30</text>
<line x1="1178.1" y1="943" x2="1178.1" y2="947.5" stroke="#333333" stroke-width="1.4" />
<text x="1178.1" y="960" font-size="13.6" text-anchor="middle" stroke="#000" stroke-width="0.3">40</text>
<line x1="1303.8" y1="943" x2="1303.8" y2="947.5" stroke="#333333" stroke-width="1.4" />
<text x="1303.8" y="960" font-size="13.6" text-anchor="middle" stroke="#000" stroke-width="0.3">50</text>
<text transform="translate(737,895) rotate(-90)" font-size="16" text-anchor="middle" stroke="#000" stroke-width="0.3">−log10 P−value</text>
<text x="1077.5" y="986" font-size="19.2" text-anchor="middle" stroke="#000" stroke-width="0.3">Numbers of Tumor-supportive signature genes</text>
</g>
<g>
<line x1="1436" y1="697.9" x2="1436" y2="793.1" stroke="#ebebeb" stroke-width="1.1" />
<line x1="1561.5" y1="697.9" x2="1561.5" y2="793.1" stroke="#ebebeb" stroke-width="1.1" />
<line x1="1687" y1="697.9" x2="1687" y2="793.1" stroke="#ebebeb" stroke-width="1.1" />
<line x1="1812.5" y1="697.9" x2="1812.5" y2="793.1" stroke="#ebebeb" stroke-width="1.1" />
<line x1="1938" y1="697.9" x2="1938" y2="793.1" stroke="#ebebeb" stroke-width="1.1" />
<line x1="1405.5" y1="772" x2="1969.3" y2="772" stroke="#ebebeb" stroke-width="1.1" />
<line x1="1405.5" y1="744.5" x2="1969.3" y2="744.5" stroke="#ebebeb" stroke-width="1.1" />
<line x1="1405.5" y1="717" x2="1969.3" y2="717" stroke="#ebebeb" stroke-width="1.1" />
<line x1="1436" y1="752.41" x2="1436" y2="788.2" stroke="#e9aa3e" stroke-width="2" />
<rect x="1432.8" y="773.7" width="6.4" height="6.4" fill="#e9aa3e" />
<line x1="1448.55" y1="747.14" x2="1448.55" y2="787.45" stroke="#e9aa3e" stroke-width="2" />
<rect x="1445.35" y="771.06" width="6.4" height="6.4" fill="#e9aa3e" />
<line x1="1461.1" y1="747.14" x2="1461.1" y2="787.45" stroke="#e9aa3e" stroke-width="2" />
<rect x="1457.9" y="771.06" width="6.4" height="6.4" fill="#e9aa3e" />
<line x1="1473.65" y1="752.41" x2="1473.65" y2="788.2" stroke="#e9aa3e" stroke-width="2" />
<rect x="1470.45" y="773.7" width="6.4" height="6.4" fill="#e9aa3e" />
<line x1="1486.2" y1="742.62" x2="1486.2" y2="787.07" stroke="#e9aa3e" stroke-width="2" />
<rect x="1483" y="768.8" width="6.4" height="6.4" fill="#e9aa3e" />
<line x1="1498.75" y1="742.62" x2="1498.75" y2="787.07" stroke="#e9aa3e" stroke-width="2" />
<rect x="1495.55" y="768.8" width="6.4" height="6.4" fill="#e9aa3e" />
<line x1="1511.3" y1="748.27" x2="1511.3" y2="787.45" stroke="#e9aa3e" stroke-width="2" />
<rect x="1508.1" y="771.06" width="6.4" height="6.4" fill="#e9aa3e" />
<line x1="1523.85" y1="748.27" x2="1523.85" y2="787.45" stroke="#e9aa3e" stroke-width="2" />
<rect x="1520.65" y="771.06" width="6.4" height="6.4" fill="#e9aa3e" />
<line x1="1536.4" y1="748.27" x2="1536.4" y2="787.45" stroke="#e9aa3e" stroke-width="2" />
<rect x="1533.2" y="771.06" width="6.4" height="6.4" fill="#e9aa3e" />
<line x1="1548.95" y1="748.27" x2="1548.95" y2="787.45" stroke="#e9aa3e" stroke-width="2" />
<rect x="1545.75" y="771.06" width="6.4" height="6.4" fill="#e9aa3e" />
<line x1="1561.5" y1="748.27" x2="1561.5" y2="787.45" stroke="#e9aa3e" stroke-width="2" />
<rect x="1558.3" y="771.06" width="6.4" height="6.4" fill="#e9aa3e" />
<line x1="1574.05" y1="748.27" x2="1574.05" y2="787.45" stroke="#e9aa3e" stroke-width="2" />
<rect x="1570.85" y="771.06" width="6.4" height="6.4" fill="#e9aa3e" />
<line x1="1586.6" y1="748.27" x2="1586.6" y2="787.45" stroke="#e9aa3e" stroke-width="2" />
<rect x="1583.4" y="771.06" width="6.4" height="6.4" fill="#e9aa3e" />
<line x1="1599.15" y1="748.27" x2="1599.15" y2="787.45" stroke="#e9aa3e" stroke-width="2" />
<rect x="1595.95" y="771.06" width="6.4" height="6.4" fill="#e9aa3e" />
<line x1="1611.7" y1="746.76" x2="1611.7" y2="787.07" stroke="#e9aa3e" stroke-width="2" />
<rect x="1608.5" y="770.31" width="6.4" height="6.4" fill="#e9aa3e" />
<line x1="1624.25" y1="746.76" x2="1624.25" y2="787.07" stroke="#e9aa3e" stroke-width="2" />
<rect x="1621.05" y="770.31" width="6.4" height="6.4" fill="#e9aa3e" />
<line x1="1636.8" y1="718.51" x2="1636.8" y2="783.68" stroke="#e9aa3e" stroke-width="2" />
<rect x="1633.6" y="759.76" width="6.4" height="6.4" fill="#e9aa3e" />
<line x1="1649.35" y1="718.51" x2="1649.35" y2="783.68" stroke="#e9aa3e" stroke-width="2" />
<rect x="1646.15" y="759.76" width="6.4" height="6.4" fill="#e9aa3e" />
<line x1="1661.9" y1="718.51" x2="1661.9" y2="783.68" stroke="#e9aa3e" stroke-width="2" />
<rect x="1658.7" y="759.76" width="6.4" height="6.4" fill="#e9aa3e" />
<line x1="1674.45" y1="718.51" x2="1674.45" y2="783.68" stroke="#e9aa3e" stroke-width="2" />
<rect x="1671.25" y="759.76" width="6.4" height="6.4" fill="#e9aa3e" />
<line x1="1687" y1="718.51" x2="1687" y2="783.68" stroke="#e9aa3e" stroke-width="2" />
<rect x="1683.8" y="759.76" width="6.4" height="6.4" fill="#e9aa3e" />
<line x1="1699.55" y1="701.93" x2="1699.55" y2="780.29" stroke="#e9aa3e" stroke-width="2" />
<rect x="1696.35" y="753.35" width="6.4" height="6.4" fill="#e9aa3e" />
<line x1="1712.1" y1="715.12" x2="1712.1" y2="783.3" stroke="#e9aa3e" stroke-width="2" />
<rect x="1708.9" y="759.38" width="6.4" height="6.4" fill="#e9aa3e" />
<line x1="1724.65" y1="729.43" x2="1724.65" y2="784.81" stroke="#e9aa3e" stroke-width="2" />
<rect x="1721.45" y="765.03" width="6.4" height="6.4" fill="#e9aa3e" />
<line x1="1737.2" y1="729.43" x2="1737.2" y2="784.81" stroke="#e9aa3e" stroke-width="2" />
<rect x="1734" y="765.03" width="6.4" height="6.4" fill="#e9aa3e" />
<line x1="1749.75" y1="715.12" x2="1749.75" y2="783.3" stroke="#e9aa3e" stroke-width="2" />
<rect x="1746.55" y="759.38" width="6.4" height="6.4" fill="#e9aa3e" />
<line x1="1762.3" y1="741.49" x2="1762.3" y2="786.32" stroke="#e9aa3e" stroke-width="2" />
<rect x="1759.1" y="769.93" width="6.4" height="6.4" fill="#e9aa3e" />
<line x1="1774.85" y1="741.49" x2="1774.85" y2="786.32" stroke="#e9aa3e" stroke-width="2" />
<rect x="1771.65" y="769.93" width="6.4" height="6.4" fill="#e9aa3e" />
<line x1="1787.4" y1="741.49" x2="1787.4" y2="786.32" stroke="#e9aa3e" stroke-width="2" />
<rect x="1784.2" y="769.93" width="6.4" height="6.4" fill="#e9aa3e" />
<line x1="1799.95" y1="730.94" x2="1799.95" y2="784.81" stroke="#e9aa3e" stroke-width="2" />
<rect x="1796.75" y="765.03" width="6.4" height="6.4" fill="#e9aa3e" />
<line x1="1812.5" y1="720.39" x2="1812.5" y2="783.68" stroke="#e9aa3e" stroke-width="2" />
<rect x="1809.3" y="760.89" width="6.4" height="6.4" fill="#e9aa3e" />
<line x1="1825.05" y1="720.39" x2="1825.05" y2="783.68" stroke="#e9aa3e" stroke-width="2" />
<rect x="1821.85" y="760.89" width="6.4" height="6.4" fill="#e9aa3e" />
<line x1="1837.6" y1="720.39" x2="1837.6" y2="783.68" stroke="#e9aa3e" stroke-width="2" />
<rect x="1834.4" y="760.89" width="6.4" height="6.4" fill="#e9aa3e" />
<line x1="1850.15" y1="720.39" x2="1850.15" y2="783.68" stroke="#e9aa3e" stroke-width="2" />
<rect x="1846.95" y="760.89" width="6.4" height="6.4" fill="#e9aa3e" />
<line x1="1862.7" y1="720.39" x2="1862.7" y2="783.68" stroke="#e9aa3e" stroke-width="2" />
<rect x="1859.5" y="760.89" width="6.4" height="6.4" fill="#e9aa3e" />
<line x1="1875.25" y1="720.39" x2="1875.25" y2="783.68" stroke="#e9aa3e" stroke-width="2" />
<rect x="1872.05" y="760.89" width="6.4" height="6.4" fill="#e9aa3e" />
<line x1="1887.8" y1="720.39" x2="1887.8" y2="783.68" stroke="#e9aa3e" stroke-width="2" />
<rect x="1884.6" y="760.89" width="6.4" height="6.4" fill="#e9aa3e" />
<line x1="1900.35" y1="720.39" x2="1900.35" y2="783.68" stroke="#e9aa3e" stroke-width="2" />
<rect x="1897.15" y="760.89" width="6.4" height="6.4" fill="#e9aa3e" />
<line x1="1912.9" y1="730.94" x2="1912.9" y2="784.81" stroke="#e9aa3e" stroke-width="2" />
<rect x="1909.7" y="765.03" width="6.4" height="6.4" fill="#e9aa3e" />
<line x1="1925.45" y1="754.29" x2="1925.45" y2="788.95" stroke="#e9aa3e" stroke-width="2" />
<rect x="1922.25" y="775.58" width="6.4" height="6.4" fill="#e9aa3e" />
<line x1="1938" y1="754.29" x2="1938" y2="788.95" stroke="#e9aa3e" stroke-width="2" />
<rect x="1934.8" y="775.58" width="6.4" height="6.4" fill="#e9aa3e" />
<line x1="1405.5" y1="788.5" x2="1969.3" y2="788.5" stroke="#ff0000" stroke-width="2" />
<rect x="1405.5" y="697.9" width="563.8" height="95.2" fill="none" stroke="#333333" stroke-width="1.4"/>
<line x1="1401" y1="772" x2="1405.5" y2="772" stroke="#333333" stroke-width="1.4" />
<text x="1398" y="776.9" font-size="13.6" text-anchor="end" stroke="#000" stroke-width="0.3">2.5</text>
<line x1="1401" y1="744.5" x2="1405.5" y2="744.5" stroke="#333333" stroke-width="1.4" />
<text x="1398" y="749.4" font-size="13.6" text-anchor="end" stroke="#000" stroke-width="0.3">5.0</text>
<line x1="1401" y1="717" x2="1405.5" y2="717" stroke="#333333" stroke-width="1.4" />
<text x="1398" y="721.9" font-size="13.6" text-anchor="end" stroke="#000" stroke-width="0.3">7.5</text>
<line x1="1436" y1="793.1" x2="1436" y2="797.6" stroke="#333333" stroke-width="1.4" />
<text x="1436" y="810.1" font-size="13.6" text-anchor="middle" stroke="#000" stroke-width="0.3">10</text>
<line x1="1561.5" y1="793.1" x2="1561.5" y2="797.6" stroke="#333333" stroke-width="1.4" />
<text x="1561.5" y="810.1" font-size="13.6" text-anchor="middle" stroke="#000" stroke-width="0.3">20</text>
<line x1="1687" y1="793.1" x2="1687" y2="797.6" stroke="#333333" stroke-width="1.4" />
<text x="1687" y="810.1" font-size="13.6" text-anchor="middle" stroke="#000" stroke-width="0.3">30</text>
<line x1="1812.5" y1="793.1" x2="1812.5" y2="797.6" stroke="#333333" stroke-width="1.4" />
<text x="1812.5" y="810.1" font-size="13.6" text-anchor="middle" stroke="#000" stroke-width="0.3">40</text>
<line x1="1938" y1="793.1" x2="1938" y2="797.6" stroke="#333333" stroke-width="1.4" />
<text x="1938" y="810.1" font-size="13.6" text-anchor="middle" stroke="#000" stroke-width="0.3">50</text>
<text transform="translate(1371.5,745.5) rotate(-90)" font-size="16" text-anchor="middle" stroke="#000" stroke-width="0.3">Hazard Ratio</text>
<line x1="1436" y1="849.6" x2="1436" y2="946" stroke="#ebebeb" stroke-width="1.1" />
<line x1="1561.5" y1="849.6" x2="1561.5" y2="946" stroke="#ebebeb" stroke-width="1.1" />
<line x1="1687" y1="849.6" x2="1687" y2="946" stroke="#ebebeb" stroke-width="1.1" />
<line x1="1812.5" y1="849.6" x2="1812.5" y2="946" stroke="#ebebeb" stroke-width="1.1" />
<line x1="1938" y1="849.6" x2="1938" y2="946" stroke="#ebebeb" stroke-width="1.1" />
<line x1="1498.75" y1="849.6" x2="1498.75" y2="946" stroke="#ebebeb" stroke-width="0.9" />
<line x1="1624.25" y1="849.6" x2="1624.25" y2="946" stroke="#ebebeb" stroke-width="0.9" />
<line x1="1749.75" y1="849.6" x2="1749.75" y2="946" stroke="#ebebeb" stroke-width="0.9" />
<line x1="1875.25" y1="849.6" x2="1875.25" y2="946" stroke="#ebebeb" stroke-width="0.9" />
<line x1="1405.5" y1="942.5" x2="1969.3" y2="942.5" stroke="#ebebeb" stroke-width="1.1" />
<line x1="1405.5" y1="911.77" x2="1969.3" y2="911.77" stroke="#ebebeb" stroke-width="1.1" />
<line x1="1405.5" y1="881.04" x2="1969.3" y2="881.04" stroke="#ebebeb" stroke-width="1.1" />
<line x1="1405.5" y1="850.31" x2="1969.3" y2="850.31" stroke="#ebebeb" stroke-width="1.1" />
<line x1="1405.5" y1="927.13" x2="1969.3" y2="927.13" stroke="#ebebeb" stroke-width="0.9" />
<line x1="1405.5" y1="896.4" x2="1969.3" y2="896.4" stroke="#ebebeb" stroke-width="0.9" />
<line x1="1405.5" y1="865.67" x2="1969.3" y2="865.67" stroke="#ebebeb" stroke-width="0.9" />
<rect x="1430.79" y="905.01" width="10.42" height="37.49" fill="#ebb352" />
<rect x="1443.34" y="896.4" width="10.42" height="46.09" fill="#ebb352" />
<rect x="1455.89" y="896.4" width="10.42" height="46.09" fill="#ebb352" />
<rect x="1468.44" y="905.01" width="10.42" height="37.49" fill="#ebb352" />
<rect x="1480.99" y="888.72" width="10.42" height="53.78" fill="#ebb352" />
<rect x="1493.54" y="888.72" width="10.42" height="53.78" fill="#ebb352" />
<rect x="1506.09" y="896.4" width="10.42" height="46.09" fill="#ebb352" />
<rect x="1518.64" y="896.4" width="10.42" height="46.09" fill="#ebb352" />
<rect x="1531.19" y="896.4" width="10.42" height="46.09" fill="#ebb352" />
<rect x="1543.74" y="896.4" width="10.42" height="46.09" fill="#ebb352" />
<rect x="1556.29" y="896.4" width="10.42" height="46.09" fill="#ebb352" />
<rect x="1568.84" y="896.4" width="10.42" height="46.09" fill="#ebb352" />
<rect x="1581.39" y="896.4" width="10.42" height="46.09" fill="#ebb352" />
<rect x="1593.94" y="896.4" width="10.42" height="46.09" fill="#ebb352" />
<rect x="1606.49" y="893.33" width="10.42" height="49.17" fill="#ebb352" />
<rect x="1619.04" y="893.33" width="10.42" height="49.17" fill="#ebb352" />
<rect x="1631.59" y="868.75" width="10.42" height="73.75" fill="#ebb352" />
<rect x="1644.14" y="868.75" width="10.42" height="73.75" fill="#ebb352" />
<rect x="1656.69" y="868.75" width="10.42" height="73.75" fill="#ebb352" />
<rect x="1669.24" y="868.75" width="10.42" height="73.75" fill="#ebb352" />
<rect x="1681.79" y="868.75" width="10.42" height="73.75" fill="#ebb352" />
<rect x="1694.34" y="853.69" width="10.42" height="88.81" fill="#ebb352" />
<rect x="1706.89" y="869.98" width="10.42" height="72.52" fill="#ebb352" />
<rect x="1719.44" y="883.81" width="10.42" height="58.69" fill="#ebb352" />
<rect x="1731.99" y="883.81" width="10.42" height="58.69" fill="#ebb352" />
<rect x="1744.54" y="869.98" width="10.42" height="72.52" fill="#ebb352" />
<rect x="1757.09" y="896.4" width="10.42" height="46.09" fill="#ebb352" />
<rect x="1769.64" y="896.4" width="10.42" height="46.09" fill="#ebb352" />
<rect x="1782.19" y="896.4" width="10.42" height="46.09" fill="#ebb352" />
<rect x="1794.74" y="883.5" width="10.42" height="59" fill="#ebb352" />
<rect x="1807.29" y="873.05" width="10.42" height="69.45" fill="#ebb352" />
<rect x="1819.84" y="873.05" width="10.42" height="69.45" fill="#ebb352" />
<rect x="1832.39" y="873.05" width="10.42" height="69.45" fill="#ebb352" />
<rect x="1844.94" y="873.05" width="10.42" height="69.45" fill="#ebb352" />
<rect x="1857.49" y="873.05" width="10.42" height="69.45" fill="#ebb352" />
<rect x="1870.04" y="873.05" width="10.42" height="69.45" fill="#ebb352" />
<rect x="1882.59" y="873.05" width="10.42" height="69.45" fill="#ebb352" />
<rect x="1895.14" y="873.05" width="10.42" height="69.45" fill="#ebb352" />
<rect x="1907.69" y="883.5" width="10.42" height="59" fill="#ebb352" />
<rect x="1920.24" y="913.92" width="10.42" height="28.58" fill="#ebb352" />
<rect x="1932.79" y="913.92" width="10.42" height="28.58" fill="#ebb352" />
<line x1="1405.5" y1="902.55" x2="1969.3" y2="902.55" stroke="#ff0000" stroke-width="2" />
<rect x="1405.5" y="849.6" width="563.8" height="96.4" fill="none" stroke="#333333" stroke-width="1.4"/>
<line x1="1401" y1="942.5" x2="1405.5" y2="942.5" stroke="#333333" stroke-width="1.4" />
<text x="1398" y="947.4" font-size="13.6" text-anchor="end" stroke="#000" stroke-width="0.3">0</text>
<line x1="1401" y1="911.77" x2="1405.5" y2="911.77" stroke="#333333" stroke-width="1.4" />
<text x="1398" y="916.67" font-size="13.6" text-anchor="end" stroke="#000" stroke-width="0.3">1</text>
<line x1="1401" y1="881.04" x2="1405.5" y2="881.04" stroke="#333333" stroke-width="1.4" />
<text x="1398" y="885.94" font-size="13.6" text-anchor="end" stroke="#000" stroke-width="0.3">2</text>
<line x1="1401" y1="850.31" x2="1405.5" y2="850.31" stroke="#333333" stroke-width="1.4" />
<text x="1398" y="855.21" font-size="13.6" text-anchor="end" stroke="#000" stroke-width="0.3">3</text>
<line x1="1436" y1="946" x2="1436" y2="950.5" stroke="#333333" stroke-width="1.4" />
<text x="1436" y="963" font-size="13.6" text-anchor="middle" stroke="#000" stroke-width="0.3">10</text>
<line x1="1561.5" y1="946" x2="1561.5" y2="950.5" stroke="#333333" stroke-width="1.4" />
<text x="1561.5" y="963" font-size="13.6" text-anchor="middle" stroke="#000" stroke-width="0.3">20</text>
<line x1="1687" y1="946" x2="1687" y2="950.5" stroke="#333333" stroke-width="1.4" />
<text x="1687" y="963" font-size="13.6" text-anchor="middle" stroke="#000" stroke-width="0.3">30</text>
<line x1="1812.5" y1="946" x2="1812.5" y2="950.5" stroke="#333333" stroke-width="1.4" />
<text x="1812.5" y="963" font-size="13.6" text-anchor="middle" stroke="#000" stroke-width="0.3">40</text>
<line x1="1938" y1="946" x2="1938" y2="950.5" stroke="#333333" stroke-width="1.4" />
<text x="1938" y="963" font-size="13.6" text-anchor="middle" stroke="#000" stroke-width="0.3">50</text>
<text transform="translate(1371.5,897.8) rotate(-90)" font-size="16" text-anchor="middle" stroke="#000" stroke-width="0.3">−log10 P−value</text>
<text x="1700.6" y="988" font-size="19.2" text-anchor="middle" stroke="#000" stroke-width="0.3">Numbers of Tumor-supportive signature genes</text>
</g>
<line x1="593.6" y1="1603.5" x2="593.6" y2="2105.5" stroke="#ebebeb" stroke-width="1.3" />
<line x1="716.6" y1="1603.5" x2="716.6" y2="2105.5" stroke="#ebebeb" stroke-width="1.3" />
<line x1="839.6" y1="1603.5" x2="839.6" y2="2105.5" stroke="#ebebeb" stroke-width="1.3" />
<line x1="522" y1="1636.4" x2="853.3" y2="1636.4" stroke="#ebebeb" stroke-width="1.3" />
<line x1="522" y1="1690.95" x2="853.3" y2="1690.95" stroke="#ebebeb" stroke-width="1.3" />
<line x1="522" y1="1745.5" x2="853.3" y2="1745.5" stroke="#ebebeb" stroke-width="1.3" />
<line x1="522" y1="1800.05" x2="853.3" y2="1800.05" stroke="#ebebeb" stroke-width="1.3" />
<line x1="522" y1="1854.6" x2="853.3" y2="1854.6" stroke="#ebebeb" stroke-width="1.3" />
<line x1="522" y1="1909.15" x2="853.3" y2="1909.15" stroke="#ebebeb" stroke-width="1.3" />
<line x1="522" y1="1963.7" x2="853.3" y2="1963.7" stroke="#ebebeb" stroke-width="1.3" />
<line x1="522" y1="2018.25" x2="853.3" y2="2018.25" stroke="#ebebeb" stroke-width="1.3" />
<line x1="522" y1="2072.8" x2="853.3" y2="2072.8" stroke="#ebebeb" stroke-width="1.3" />
<rect x="716.6" y="1620.2" width="122.08" height="32.4" fill="#d3201a" />
<line x1="517" y1="1636.4" x2="522" y2="1636.4" stroke="#000" stroke-width="1.5" />
<text x="512" y="1645.6" font-size="25.6" text-anchor="end" stroke="#000" stroke-width="0.3">chemokine−mediated signaling pathway</text>
<rect x="716.6" y="1674.75" width="116.54" height="32.4" fill="#d3201a" />
<line x1="517" y1="1690.95" x2="522" y2="1690.95" stroke="#000" stroke-width="1.5" />
<text x="512" y="1700.15" font-size="25.6" text-anchor="end" stroke="#000" stroke-width="0.3">acute inflammatory response</text>
<rect x="716.6" y="1729.3" width="114.7" height="32.4" fill="#d3201a" />
<line x1="517" y1="1745.5" x2="522" y2="1745.5" stroke="#000" stroke-width="1.5" />
<text x="512" y="1754.7" font-size="25.6" text-anchor="end" stroke="#000" stroke-width="0.3">neutrophil chemotaxis</text>
<rect x="716.6" y="1783.85" width="110.7" height="32.4" fill="#d3201a" />
<line x1="517" y1="1800.05" x2="522" y2="1800.05" stroke="#000" stroke-width="1.5" />
<text x="512" y="1809.25" font-size="25.6" text-anchor="end" stroke="#000" stroke-width="0.3">antimicrobial humoral response</text>
<rect x="716.6" y="1838.4" width="99.94" height="32.4" fill="#d3201a" />
<line x1="517" y1="1854.6" x2="522" y2="1854.6" stroke="#000" stroke-width="1.5" />
<text x="512" y="1863.8" font-size="25.6" text-anchor="end" stroke="#000" stroke-width="0.3">granulocyte chemotaxis</text>
<rect x="716.6" y="1892.95" width="99.94" height="32.4" fill="#d3201a" />
<line x1="517" y1="1909.15" x2="522" y2="1909.15" stroke="#000" stroke-width="1.5" />
<text x="512" y="1918.35" font-size="25.6" text-anchor="end" stroke="#000" stroke-width="0.3">neutrophil migration</text>
<rect x="634.5" y="1947.5" width="82.1" height="32.4" fill="#32098c" />
<line x1="517" y1="1963.7" x2="522" y2="1963.7" stroke="#000" stroke-width="1.5" />
<text x="512" y="1972.9" font-size="25.6" text-anchor="end" stroke="#000" stroke-width="0.3">vitamin D metabolic process</text>
<rect x="549.63" y="2002.05" width="166.97" height="32.4" fill="#1405a0" />
<line x1="517" y1="2018.25" x2="522" y2="2018.25" stroke="#000" stroke-width="1.5" />
<text x="512" y="2027.45" font-size="25.6" text-anchor="end" stroke="#000" stroke-width="0.3">microvillus organization</text>
<rect x="536.71" y="2056.6" width="179.89" height="32.4" fill="#6e1468" />
<line x1="517" y1="2072.8" x2="522" y2="2072.8" stroke="#000" stroke-width="1.5" />
<text x="512" y="2082" font-size="25.6" text-anchor="end" stroke="#000" stroke-width="0.3">flavonoid metabolic process</text>
<rect x="522" y="1603.5" width="331.3" height="502" fill="none" stroke="#000" stroke-width="1.6"/>
<line x1="593.6" y1="2105.5" x2="593.6" y2="2110.5" stroke="#000" stroke-width="1.5" />
<text x="593.6" y="2133.6" font-size="24.5" text-anchor="middle" stroke="#000" stroke-width="0.3">0.4</text>
<line x1="716.6" y1="2105.5" x2="716.6" y2="2110.5" stroke="#000" stroke-width="1.5" />
<text x="716.6" y="2133.6" font-size="24.5" text-anchor="middle" stroke="#000" stroke-width="0.3">0</text>
<line x1="839.6" y1="2105.5" x2="839.6" y2="2110.5" stroke="#000" stroke-width="1.5" />
<text x="839.6" y="2133.6" font-size="24.5" text-anchor="middle" stroke="#000" stroke-width="0.3">0.4</text>
<text x="686.8" y="2158" font-size="20" text-anchor="middle" stroke="#000" stroke-width="0.3">GeneRatio</text>
<text x="686.8" y="1583" font-size="28" text-anchor="middle" font-weight="bold" stroke="#000" stroke-width="0.3" textLength="55" lengthAdjust="spacingAndGlyphs">NBT</text>
<line x1="507" y1="2155.6" x2="541" y2="2155.6" stroke="#000" stroke-width="2.2" stroke-linecap="round"/>
<path d="M497 2155.6 L518.5 2144.9 L518.5 2166.3 Z" fill="#000" stroke="#000" stroke-width="0.8" stroke-linejoin="round"/>
<line x1="846" y1="2155.6" x2="881" y2="2155.6" stroke="#000" stroke-width="2.2" stroke-linecap="round"/>
<path d="M891 2155.6 L869.5 2144.9 L869.5 2166.3 Z" fill="#000" stroke="#000" stroke-width="0.8" stroke-linejoin="round"/>
<text x="493.4" y="2198" font-size="29.5" stroke="#000" stroke-width="0.3">HM</text>
<text x="830.8" y="2198" font-size="29.5" stroke="#000" stroke-width="0.3">TSM</text>
<text x="885.2" y="1776.5" font-size="23" stroke="#000" stroke-width="0.3">p.adjust</text>
<defs><linearGradient id="cg" x1="0" y1="0" x2="0" y2="1"><stop offset="0" stop-color="#1c0aa3"/><stop offset="0.25" stop-color="#481190"/><stop offset="0.4" stop-color="#711470"/><stop offset="0.54" stop-color="#8a1656"/><stop offset="0.83" stop-color="#b61c34"/><stop offset="1" stop-color="#d5221a"/></linearGradient></defs>
<rect x="883.2" y="1791.2" width="32.9" height="161.5" fill="url(#cg)" />
<line x1="883.2" y1="1831.8" x2="888.2" y2="1831.8" stroke="#ffffff" stroke-width="1" opacity="0.8"/>
<line x1="911.1" y1="1831.8" x2="916.1" y2="1831.8" stroke="#ffffff" stroke-width="1" opacity="0.8"/>
<text x="928.1" y="1839.6" font-size="21.2" stroke="#000" stroke-width="0.3">0.03</text>
<line x1="883.2" y1="1878.8" x2="888.2" y2="1878.8" stroke="#ffffff" stroke-width="1" opacity="0.8"/>
<line x1="911.1" y1="1878.8" x2="916.1" y2="1878.8" stroke="#ffffff" stroke-width="1" opacity="0.8"/>
<text x="928.1" y="1886.6" font-size="21.2" stroke="#000" stroke-width="0.3">0.02</text>
<line x1="883.2" y1="1925.6" x2="888.2" y2="1925.6" stroke="#ffffff" stroke-width="1" opacity="0.8"/>
<line x1="911.1" y1="1925.6" x2="916.1" y2="1925.6" stroke="#ffffff" stroke-width="1" opacity="0.8"/>
<text x="928.1" y="1933.4" font-size="21.2" stroke="#000" stroke-width="0.3">0.01</text>
<line x1="1534.3" y1="1606" x2="1534.3" y2="2107.8" stroke="#ebebeb" stroke-width="1.3" />
<line x1="1669" y1="1606" x2="1669" y2="2107.8" stroke="#ebebeb" stroke-width="1.3" />
<line x1="1803.7" y1="1606" x2="1803.7" y2="2107.8" stroke="#ebebeb" stroke-width="1.3" />
<line x1="1509" y1="1633.6" x2="1813" y2="1633.6" stroke="#ebebeb" stroke-width="1.3" />
<line x1="1509" y1="1678.43" x2="1813" y2="1678.43" stroke="#ebebeb" stroke-width="1.3" />
<line x1="1509" y1="1723.26" x2="1813" y2="1723.26" stroke="#ebebeb" stroke-width="1.3" />
<line x1="1509" y1="1768.09" x2="1813" y2="1768.09" stroke="#ebebeb" stroke-width="1.3" />
<line x1="1509" y1="1812.92" x2="1813" y2="1812.92" stroke="#ebebeb" stroke-width="1.3" />
<line x1="1509" y1="1857.75" x2="1813" y2="1857.75" stroke="#ebebeb" stroke-width="1.3" />
<line x1="1509" y1="1902.58" x2="1813" y2="1902.58" stroke="#ebebeb" stroke-width="1.3" />
<line x1="1509" y1="1947.41" x2="1813" y2="1947.41" stroke="#ebebeb" stroke-width="1.3" />
<line x1="1509" y1="1992.24" x2="1813" y2="1992.24" stroke="#ebebeb" stroke-width="1.3" />
<line x1="1509" y1="2037.07" x2="1813" y2="2037.07" stroke="#ebebeb" stroke-width="1.3" />
<line x1="1509" y1="2081.9" x2="1813" y2="2081.9" stroke="#ebebeb" stroke-width="1.3" />
<rect x="1669" y="1620.4" width="130.19" height="26.4" fill="#d3201a" />
<line x1="1504" y1="1633.6" x2="1509" y2="1633.6" stroke="#000" stroke-width="1.5" />
<text x="1499" y="1642.8" font-size="26" text-anchor="end" stroke="#000" stroke-width="0.3">leukocyte chemotaxis</text>
<rect x="1669" y="1665.23" width="110.99" height="26.4" fill="#d3201a" />
<line x1="1504" y1="1678.43" x2="1509" y2="1678.43" stroke="#000" stroke-width="1.5" />
<text x="1499" y="1687.63" font-size="26" text-anchor="end" stroke="#000" stroke-width="0.3">T cell activation</text>
<rect x="1669" y="1710.06" width="109.31" height="26.4" fill="#d3201a" />
<line x1="1504" y1="1723.26" x2="1509" y2="1723.26" stroke="#000" stroke-width="1.5" />
<text x="1499" y="1732.46" font-size="26" text-anchor="end" stroke="#000" stroke-width="0.3">leukocyte cell−cell adhesion</text>
<rect x="1669" y="1754.89" width="106.99" height="26.4" fill="#d3201a" />
<line x1="1504" y1="1768.09" x2="1509" y2="1768.09" stroke="#000" stroke-width="1.5" />
<text x="1499" y="1777.29" font-size="26" text-anchor="end" stroke="#000" stroke-width="0.3">positive regulation of cytokine production</text>
<rect x="1669" y="1799.72" width="100.99" height="26.4" fill="#d3201a" />
<line x1="1504" y1="1812.92" x2="1509" y2="1812.92" stroke="#000" stroke-width="1.5" />
<text x="1499" y="1822.12" font-size="26" text-anchor="end" stroke="#000" stroke-width="0.3">leukocyte migration</text>
<rect x="1669" y="1844.55" width="92.27" height="26.4" fill="#d3201a" />
<line x1="1504" y1="1857.75" x2="1509" y2="1857.75" stroke="#000" stroke-width="1.5" />
<text x="1499" y="1866.95" font-size="26" text-anchor="end" stroke="#000" stroke-width="0.3">defense response to bacterium</text>
<rect x="1561.81" y="1889.38" width="107.19" height="26.4" fill="#1a07a0" />
<line x1="1504" y1="1902.58" x2="1509" y2="1902.58" stroke="#000" stroke-width="1.5" />
<text x="1499" y="1911.78" font-size="26" text-anchor="end" stroke="#000" stroke-width="0.3">membrane depolarization</text>
<rect x="1553.6" y="1934.21" width="115.4" height="26.4" fill="#c41f2c" />
<line x1="1504" y1="1947.41" x2="1509" y2="1947.41" stroke="#000" stroke-width="1.5" />
<text x="1499" y="1956.61" font-size="26" text-anchor="end" stroke="#000" stroke-width="0.3">intermediate filament organization</text>
<rect x="1544.2" y="1979.04" width="124.8" height="26.4" fill="#d3201a" />
<line x1="1504" y1="1992.24" x2="1509" y2="1992.24" stroke="#000" stroke-width="1.5" />
<text x="1499" y="2001.44" font-size="26" text-anchor="end" stroke="#000" stroke-width="0.3">regulation of membrane potential</text>
<rect x="1539.28" y="2023.87" width="129.72" height="26.4" fill="#8c1648" />
<line x1="1504" y1="2037.07" x2="1509" y2="2037.07" stroke="#000" stroke-width="1.5" />
<text x="1499" y="2046.27" font-size="26" text-anchor="end" stroke="#000" stroke-width="0.3">protein localization to cell junction</text>
<rect x="1522.78" y="2068.7" width="146.22" height="26.4" fill="#d3221c" />
<line x1="1504" y1="2081.9" x2="1509" y2="2081.9" stroke="#000" stroke-width="1.5" />
<text x="1499" y="2091.1" font-size="26" text-anchor="end" stroke="#000" stroke-width="0.3">multicellular organismal signaling</text>
<rect x="1509" y="1606" width="304" height="501.8" fill="none" stroke="#000" stroke-width="1.6"/>
<line x1="1534.3" y1="2107.8" x2="1534.3" y2="2112.8" stroke="#000" stroke-width="1.5" />
<text x="1534.3" y="2136" font-size="24.5" text-anchor="middle" stroke="#000" stroke-width="0.3">0.4</text>
<line x1="1669" y1="2107.8" x2="1669" y2="2112.8" stroke="#000" stroke-width="1.5" />
<text x="1669" y="2136" font-size="24.5" text-anchor="middle" stroke="#000" stroke-width="0.3">0</text>
<line x1="1803.7" y1="2107.8" x2="1803.7" y2="2112.8" stroke="#000" stroke-width="1.5" />
<text x="1803.7" y="2136" font-size="24.5" text-anchor="middle" stroke="#000" stroke-width="0.3">0.4</text>
<text x="1660.7" y="2161" font-size="20" text-anchor="middle" stroke="#000" stroke-width="0.3">GeneRatio</text>
<text x="1665.7" y="1583" font-size="29" text-anchor="middle" font-weight="bold" stroke="#000" stroke-width="0.3">Tumor</text>
<line x1="1493" y1="2155.6" x2="1529" y2="2155.6" stroke="#000" stroke-width="2.2" stroke-linecap="round"/>
<path d="M1483 2155.6 L1504.5 2144.9 L1504.5 2166.3 Z" fill="#000" stroke="#000" stroke-width="0.8" stroke-linejoin="round"/>
<line x1="1802" y1="2155.6" x2="1837.5" y2="2155.6" stroke="#000" stroke-width="2.2" stroke-linecap="round"/>
<path d="M1847.5 2155.6 L1826 2144.9 L1826 2166.3 Z" fill="#000" stroke="#000" stroke-width="0.8" stroke-linejoin="round"/>
<text x="1479.4" y="2198" font-size="29.5" stroke="#000" stroke-width="0.3">HM</text>
<text x="1787" y="2198" font-size="29.5" stroke="#000" stroke-width="0.3">TSM</text>
<text x="1843" y="1779" font-size="23" stroke="#000" stroke-width="0.3">p.adjust</text>
<defs><linearGradient id="ch" x1="0" y1="0" x2="0" y2="1"><stop offset="0" stop-color="#1c0aa3"/><stop offset="0.25" stop-color="#481190"/><stop offset="0.4" stop-color="#711470"/><stop offset="0.54" stop-color="#8a1656"/><stop offset="0.83" stop-color="#b61c34"/><stop offset="1" stop-color="#d5221a"/></linearGradient></defs>
<rect x="1843" y="1794" width="33" height="161" fill="url(#ch)" />
<line x1="1843" y1="1834" x2="1848" y2="1834" stroke="#ffffff" stroke-width="1" opacity="0.8"/>
<line x1="1871" y1="1834" x2="1876" y2="1834" stroke="#ffffff" stroke-width="1" opacity="0.8"/>
<text x="1888" y="1841.8" font-size="21.2" stroke="#000" stroke-width="0.3">0.0015</text>
<line x1="1843" y1="1874.3" x2="1848" y2="1874.3" stroke="#ffffff" stroke-width="1" opacity="0.8"/>
<line x1="1871" y1="1874.3" x2="1876" y2="1874.3" stroke="#ffffff" stroke-width="1" opacity="0.8"/>
<text x="1888" y="1882.1" font-size="21.2" stroke="#000" stroke-width="0.3">0.0010</text>
<line x1="1843" y1="1915" x2="1848" y2="1915" stroke="#ffffff" stroke-width="1" opacity="0.8"/>
<line x1="1871" y1="1915" x2="1876" y2="1915" stroke="#ffffff" stroke-width="1" opacity="0.8"/>
<text x="1888" y="1922.8" font-size="21.2" stroke="#000" stroke-width="0.3">0.0005</text>
</svg>
</body></html>
